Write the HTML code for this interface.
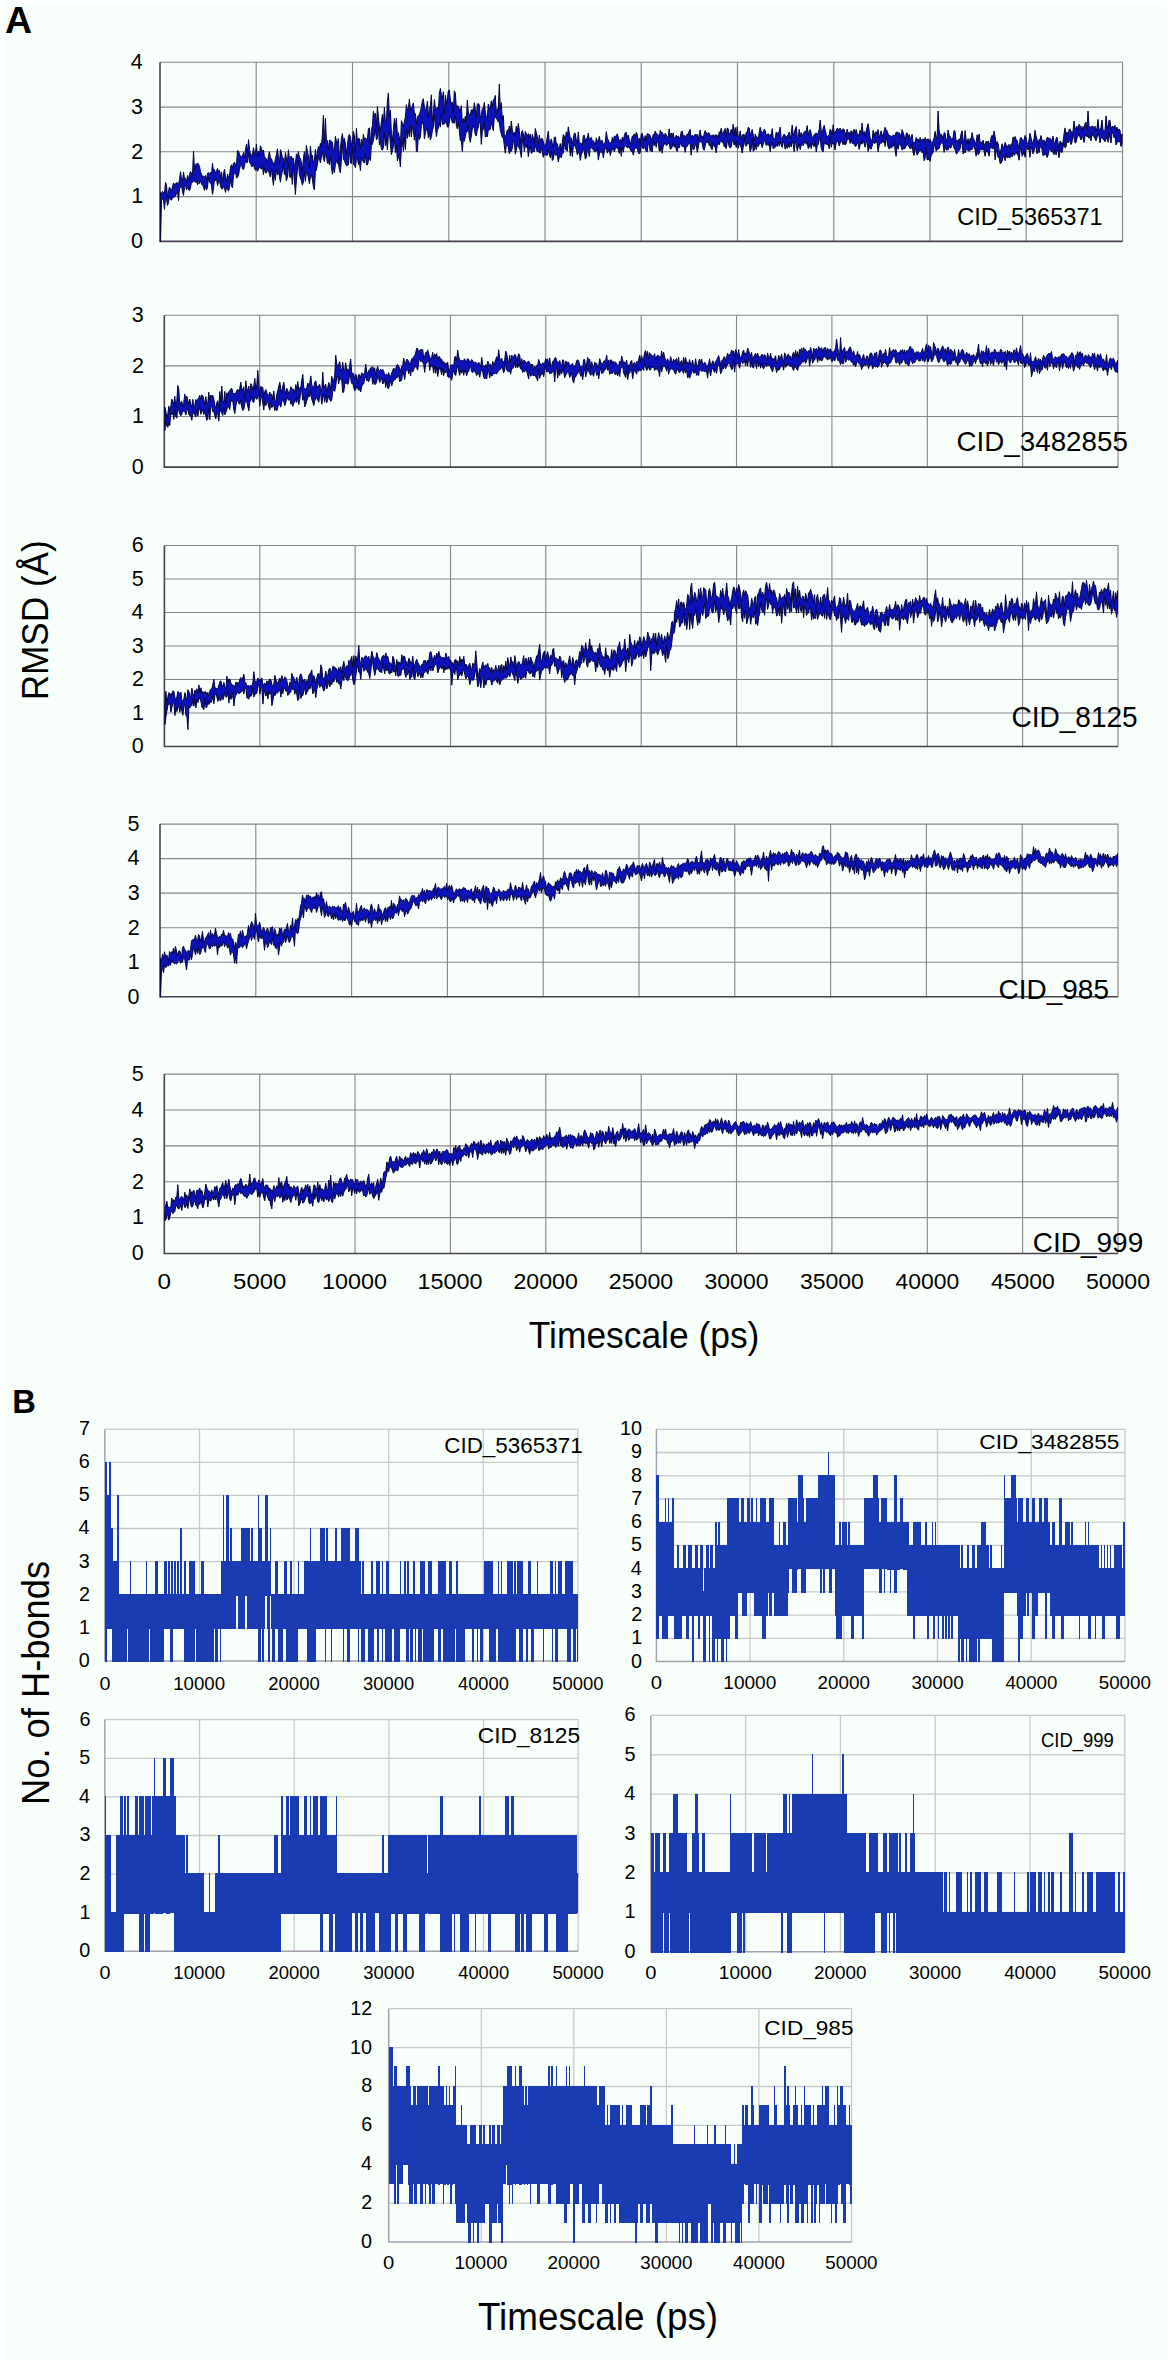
<!DOCTYPE html><html><head><meta charset="utf-8"><style>html,body{margin:0;padding:0;background:#fff;}svg{display:block;}</style></head><body><svg width="1170" height="2362" viewBox="0 0 1170 2362" font-family='"Liberation Sans", sans-serif'>
<rect width="1170" height="2362" fill="#fff"/>
<rect x="2.5" y="2.3" width="1164.7" height="2357.4" fill="#f8fefa"/>
<text transform="translate(5 32.8) scale(1.0261 1)" font-size="36.51" font-weight="bold">A</text>
<text transform="translate(12.2 1412.6) scale(0.9758 1)" font-size="33.60" font-weight="bold">B</text>
<path d="M256.2 62.3V241.4M352.5 62.3V241.4M448.8 62.3V241.4M545 62.3V241.4M641.2 62.3V241.4M737.5 62.3V241.4M833.8 62.3V241.4M930 62.3V241.4M1026.2 62.3V241.4M160 196.6H1122.5M160 151.8H1122.5M160 107.1H1122.5M160 62.3H1122.5V241.4" stroke="#8a828e" stroke-width="1.1" fill="none"/>
<path d="M160 62.3V241.4H1122.5" stroke="#4a4050" stroke-width="1.6" fill="none"/>
<polygon points="160.5,191.9 161.5,194.6 162.5,191.2 163.5,192.9 164.5,193 165.5,182.4 166.5,184.9 167.5,197.5 168.5,190.9 169.5,187 170.5,189.3 171.5,190.5 172.5,187.1 173.5,182.9 174.5,184.9 175.5,183.6 176.5,182.7 177.5,182.8 178.5,184.6 179.5,179.5 180.5,171.6 181.5,179.1 182.5,181 183.5,171.9 184.5,178.6 185.5,178.2 186.5,182.9 187.5,175.3 188.5,179.8 189.5,174.7 190.5,171.4 191.5,173 192.5,174.6 193.5,151.2 194.5,169.9 195.5,164.4 196.5,164 197.5,163 198.5,164.1 199.5,166.5 200.5,171.7 201.5,174.1 202.5,176.9 203.5,175.8 204.5,177.4 205.5,175.5 206.5,179.7 207.5,173.2 208.5,172.6 209.5,174.6 210.5,172.1 211.5,174.6 212.5,163.2 213.5,171.2 214.5,169.5 215.5,173.5 216.5,171.2 217.5,168.4 218.5,172.1 219.5,170.4 220.5,177.4 221.5,171.9 222.5,181.7 223.5,174 224.5,169.2 225.5,176.8 226.5,181.6 227.5,174.2 228.5,177.1 229.5,175.6 230.5,167 231.5,164.8 232.5,167.7 233.5,163.2 234.5,162.3 235.5,164.4 236.5,165 237.5,150.4 238.5,151.1 239.5,154.3 240.5,156.3 241.5,156.4 242.5,156 243.5,152.4 244.5,158.1 245.5,149.7 246.5,144.3 247.5,152.6 248.5,139.6 249.5,149.4 250.5,154.7 251.5,154.8 252.5,154.4 253.5,147.7 254.5,154.1 255.5,153.5 256.4,144 257.4,156.3 258.4,151.1 259.4,155.3 260.4,145.7 261.4,148.2 262.4,151.7 263.4,150 264.4,156.5 265.4,158.1 266.4,158.8 267.4,162.3 268.4,156.7 269.4,151.7 270.4,157.6 271.4,158.6 272.4,161.6 273.4,162.8 274.4,165.6 275.4,158.4 276.4,154.8 277.4,148.8 278.4,157.3 279.4,164.2 280.4,149.6 281.4,152.8 282.4,157.2 283.4,158 284.4,164.3 285.4,152.6 286.4,158.1 287.4,162.2 288.4,149.7 289.4,158.4 290.4,157.1 291.4,156.1 292.4,159.5 293.4,158 294.4,165.8 295.4,163.4 296.4,153.9 297.4,157.8 298.4,151.5 299.4,158 300.4,158.1 301.4,162.9 302.4,171.1 303.4,158.5 304.4,151.7 305.4,162.1 306.4,145.3 307.4,151.7 308.4,156.2 309.4,167.8 310.4,146.1 311.4,156.1 312.4,155.1 313.4,163.1 314.4,160.5 315.4,149.3 316.4,159.2 317.4,152 318.4,146.6 319.4,149 320.4,143.2 321.4,147 322.4,133.8 323.4,115.4 324.4,144 325.4,118.3 326.4,139.9 327.4,140.5 328.4,149.9 329.4,140 330.4,140.4 331.4,141.3 332.4,142.2 333.4,151.3 334.4,150 335.4,136.4 336.4,141.1 337.4,143 338.4,138.5 339.4,161 340.4,147.8 341.4,138.9 342.4,133.5 343.4,142.2 344.4,138.3 345.4,143.9 346.4,154.1 347.4,145.8 348.4,136.3 349.4,134.5 350.4,136.4 351.4,145.1 352.4,141.2 353.4,131.3 354.4,135.8 355.4,153 356.4,128.4 357.4,141.6 358.4,138.1 359.4,138.8 360.4,148.4 361.4,139.3 362.4,145.5 363.4,134.3 364.4,139.6 365.4,137.8 366.4,139.1 367.4,139.2 368.4,128.9 369.4,127.8 370.4,144.8 371.4,130.3 372.4,125.7 373.4,111.2 374.4,116.7 375.4,113.1 376.4,126.5 377.4,106.5 378.4,116.4 379.4,126.7 380.4,131 381.4,121.3 382.4,114.3 383.4,123.1 384.4,107.5 385.4,122.2 386.4,122.4 387.4,101.3 388.4,93 389.4,117.5 390.4,110.1 391.4,133.4 392.4,141.1 393.4,129.5 394.4,118.5 395.4,127 396.4,117.9 397.4,135.5 398.4,132.6 399.4,138 400.4,146.7 401.4,120.6 402.4,123.2 403.4,126.7 404.4,121.4 405.4,117.1 406.4,104.7 407.4,110.2 408.4,107.8 409.4,99 410.4,110.1 411.4,108 412.4,105.7 413.4,102.9 414.4,114.1 415.4,113.6 416.4,124.2 417.4,117.3 418.4,115.3 419.4,115.2 420.4,110.8 421.4,107.4 422.4,100.8 423.4,98.7 424.4,107.4 425.4,109.8 426.4,109.3 427.4,101 428.4,117.1 429.4,109.4 430.4,105.7 431.4,94.8 432.4,121.8 433.4,113.3 434.4,99.6 435.4,108.7 436.4,109.1 437.4,107.3 438.4,109.6 439.4,93 440.4,88.5 441.4,95.6 442.4,97.8 443.4,91.7 444.4,114.5 445.4,95.2 446.4,104.5 447.4,97.8 448.4,90.8 449.3,90 450.3,99 451.3,103.9 452.3,102.2 453.3,113 454.3,90.8 455.3,93 456.3,107.1 457.3,105.7 458.3,106.2 459.3,109.1 460.3,111.9 461.3,105.6 462.3,122.5 463.3,118.6 464.3,122.4 465.3,116.2 466.3,121.6 467.3,100 468.3,112.2 469.3,114.8 470.3,115.1 471.3,110 472.3,109.4 473.3,113.1 474.3,102.7 475.3,108.8 476.3,117.1 477.3,104.1 478.3,103.4 479.3,104.9 480.3,118 481.3,115.8 482.3,108.5 483.3,109.5 484.3,102.4 485.3,112.1 486.3,117.3 487.3,117 488.3,104 489.3,107.7 490.3,108.7 491.3,100.9 492.3,106.5 493.3,100 494.3,98.9 495.3,95.4 496.3,114 497.3,108.6 498.3,110 499.3,84.1 500.3,108.8 501.3,102.7 502.3,119.3 503.3,115.5 504.3,134.7 505.3,136.8 506.3,134.3 507.3,129.8 508.3,132 509.3,126.1 510.3,132.4 511.3,121 512.3,129.7 513.3,135 514.3,132.3 515.3,135.2 516.3,126.1 517.3,131.9 518.3,123.4 519.3,130.6 520.3,143.4 521.3,133 522.3,130.5 523.3,133.7 524.3,140.5 525.3,131.3 526.3,133.7 527.3,136.7 528.3,133.5 529.3,137.2 530.3,134 531.3,142.5 532.3,134.4 533.3,137.9 534.3,143.4 535.3,128.5 536.3,132.6 537.3,136.7 538.3,144.7 539.3,135.2 540.3,141.2 541.3,138.7 542.3,138.4 543.3,141.3 544.3,145.9 545.3,145.2 546.3,142.9 547.3,137.2 548.3,131.1 549.3,142.8 550.3,142.4 551.3,138.9 552.3,143.8 553.3,148.1 554.3,137.4 555.3,136.9 556.3,143.7 557.3,143.7 558.3,148.5 559.3,147.7 560.3,143.6 561.3,151.4 562.3,142.3 563.3,134.5 564.3,136.1 565.3,139.5 566.3,131.8 567.3,137.3 568.3,126.9 569.3,133.1 570.3,138.4 571.3,138 572.3,143.9 573.3,138.7 574.3,133 575.3,133.5 576.3,140.3 577.3,143.4 578.3,131.9 579.3,143.1 580.3,143.2 581.3,143.3 582.3,145.5 583.3,135.7 584.3,135.2 585.3,142 586.3,138.3 587.3,137.8 588.3,133.1 589.3,139.9 590.3,138.2 591.3,137.4 592.3,141.2 593.3,140.7 594.3,142.5 595.3,144.9 596.3,137.8 597.3,141.2 598.3,141.1 599.3,136.4 600.3,141.6 601.3,140.5 602.3,140.6 603.3,144.8 604.3,143.5 605.3,141.9 606.3,131.5 607.3,138.2 608.3,140 609.3,142.7 610.3,142.7 611.3,143.3 612.3,137.4 613.3,142 614.3,136.1 615.3,136.5 616.3,135.5 617.3,133.8 618.3,137.4 619.3,141.7 620.3,139.5 621.3,143.3 622.3,137.2 623.3,140.9 624.3,135.5 625.3,132.7 626.3,132.4 627.3,137.1 628.3,135.2 629.3,140 630.3,144.6 631.3,140.5 632.3,136.1 633.3,136.2 634.3,133.8 635.3,137.2 636.3,132.3 637.3,134.5 638.3,141.7 639.3,138.1 640.3,143.9 641.2,134.1 642.2,133.2 643.2,137.4 644.2,141.1 645.2,135.6 646.2,140.7 647.2,133.6 648.2,134.1 649.2,134.2 650.2,135.7 651.2,139.1 652.2,138.8 653.2,134.5 654.2,134.9 655.2,131.1 656.2,133.5 657.2,134.1 658.2,134.8 659.2,138.8 660.2,130.3 661.2,132.3 662.2,132.3 663.2,134.3 664.2,137.3 665.2,133.2 666.2,135 667.2,136.9 668.2,137.1 669.2,128.8 670.2,137.6 671.2,132.9 672.2,137.3 673.2,132.8 674.2,138 675.2,138.7 676.2,135.2 677.2,136.8 678.2,135.9 679.2,137.5 680.2,138.3 681.2,131.8 682.2,131 683.2,136.3 684.2,135.3 685.2,138 686.2,135.7 687.2,134 688.2,134.6 689.2,131 690.2,129.4 691.2,139.1 692.2,135.2 693.2,136.3 694.2,135.8 695.2,134.1 696.2,135.2 697.2,134.2 698.2,140.1 699.2,134.6 700.2,129.9 701.2,136.5 702.2,136.1 703.2,138.8 704.2,133.6 705.2,130.6 706.2,132.8 707.2,134.9 708.2,132.5 709.2,133.1 710.2,136.1 711.2,135.3 712.2,136.3 713.2,134.7 714.2,137.1 715.2,134.8 716.2,135.1 717.2,135.3 718.2,137.8 719.2,131.7 720.2,132.8 721.2,128.3 722.2,133.6 723.2,133.2 724.2,130.6 725.2,128.5 726.2,137.1 727.2,128 728.2,128.8 729.2,134.8 730.2,133 731.2,129.5 732.2,133.5 733.2,124.2 734.2,135.1 735.2,127.5 736.2,136.5 737.2,126.8 738.2,136.5 739.2,137 740.2,130.8 741.2,139.8 742.2,135 743.2,134.5 744.2,134.5 745.2,138.9 746.2,132.2 747.2,132.6 748.2,127.3 749.2,128 750.2,134.7 751.2,133 752.2,129.4 753.2,135 754.2,141.3 755.2,134 756.2,136.5 757.2,137 758.2,138.8 759.2,132.5 760.2,127.3 761.2,131.8 762.2,132 763.2,132.9 764.2,129.3 765.2,130.7 766.2,135 767.2,134.8 768.2,133.6 769.2,137 770.2,134.3 771.2,136.2 772.2,128.6 773.2,137.6 774.2,139 775.2,138.2 776.2,132.2 777.2,133.8 778.2,132.3 779.2,132.2 780.2,127.1 781.2,139.4 782.2,139 783.2,135.6 784.2,134 785.2,135.4 786.2,138.2 787.2,135.7 788.2,134.9 789.2,132.1 790.2,138.7 791.2,134.3 792.2,124.9 793.2,135.5 794.2,132.4 795.2,129.3 796.2,126.5 797.2,136.4 798.2,137.6 799.2,129.3 800.2,136.6 801.2,132.5 802.2,135.1 803.2,134.7 804.2,132 805.2,131 806.2,131.7 807.2,125.6 808.2,135.1 809.2,131.2 810.2,129.6 811.2,133.3 812.2,137.7 813.2,137.2 814.2,134.8 815.2,133.5 816.2,133.1 817.2,134.5 818.2,132.8 819.2,129.6 820.2,120 821.2,130.5 822.2,132.5 823.2,128.1 824.2,125.3 825.2,130.2 826.2,134.4 827.2,136.8 828.2,135.7 829.2,134.8 830.2,129.1 831.2,130.7 832.2,134.9 833.2,124.6 834.1,134.1 835.1,131.7 836.1,131.1 837.1,128.3 838.1,128.7 839.1,129.7 840.1,128 841.1,130 842.1,132.2 843.1,128.6 844.1,129.6 845.1,132.3 846.1,137.4 847.1,129 848.1,133.3 849.1,132.1 850.1,135.9 851.1,130.7 852.1,135 853.1,131 854.1,129.3 855.1,134.5 856.1,129.5 857.1,133.5 858.1,136.4 859.1,134 860.1,130.1 861.1,132.8 862.1,123.1 863.1,134.1 864.1,131.5 865.1,136.4 866.1,130.9 867.1,127.3 868.1,123.7 869.1,130.3 870.1,138 871.1,139.7 872.1,141.1 873.1,130.3 874.1,136.2 875.1,132.5 876.1,131.7 877.1,133.5 878.1,129.5 879.1,138.5 880.1,134.2 881.1,130.8 882.1,134.7 883.1,137.2 884.1,130.9 885.1,127.3 886.1,130.1 887.1,130.7 888.1,133.9 889.1,135.7 890.1,135.3 891.1,136.9 892.1,136.6 893.1,135 894.1,135.5 895.1,135.3 896.1,132.2 897.1,132 898.1,133.4 899.1,132.6 900.1,134.1 901.1,138.6 902.1,129.6 903.1,132.4 904.1,135.8 905.1,142.7 906.1,133.5 907.1,132.7 908.1,137.1 909.1,134.5 910.1,138.3 911.1,137.2 912.1,134.3 913.1,142.5 914.1,143.1 915.1,142 916.1,137.5 917.1,139.7 918.1,138.8 919.1,142.9 920.1,137.4 921.1,140.4 922.1,139.3 923.1,139 924.1,141.7 925.1,137.5 926.1,139.6 927.1,140.1 928.1,138.7 929.1,142.8 930.1,139.4 931.1,142.2 932.1,142.8 933.1,141 934.1,138.1 935.1,131.4 936.1,136.2 937.1,138.5 938.1,111 939.1,130 940.1,136.6 941.1,133.8 942.1,135.6 943.1,140 944.1,132.6 945.1,133.2 946.1,141.2 947.1,138.9 948.1,129.9 949.1,135.6 950.1,136.1 951.1,138.9 952.1,139 953.1,137.4 954.1,130.3 955.1,131.7 956.1,141.4 957.1,140.1 958.1,142.5 959.1,138.7 960.1,140.4 961.1,133.6 962.1,130.8 963.1,140.4 964.1,141 965.1,130.6 966.1,139.3 967.1,143.3 968.1,138.7 969.1,144.6 970.1,138.1 971.1,139.8 972.1,132.6 973.1,137.7 974.1,139.9 975.1,142.2 976.1,143.5 977.1,134.8 978.1,140.1 979.1,134 980.1,142.3 981.1,141.9 982.1,143.4 983.1,140.1 984.1,144.6 985.1,144.9 986.1,141.1 987.1,143.8 988.1,141 989.1,144.6 990.1,142.9 991.1,137.6 992.1,135.2 993.1,137.7 994.1,131 995.1,136.5 996.1,144.8 997.1,141.5 998.1,143.5 999.1,150.1 1000.1,154.6 1001.1,149.1 1002.1,143.7 1003.1,147.2 1004.1,147.2 1005.1,142.4 1006.1,144.8 1007.1,147.2 1008.1,145.4 1009.1,144.3 1010.1,148.7 1011.1,144 1012.1,144.1 1013.1,136.9 1014.1,139 1015.1,136.5 1016.1,139.3 1017.1,140.4 1018.1,144.7 1019.1,147.7 1020.1,138.5 1021.1,137.3 1022.1,139.2 1023.1,140.4 1024.1,139.7 1025.1,135.4 1026.1,137.5 1027,143.3 1028,143.9 1029,139.9 1030,133.3 1031,137.8 1032,141.6 1033,143.2 1034,138.7 1035,130.3 1036,136 1037,139 1038,145.3 1039,139.7 1040,139.8 1041,135.5 1042,140.3 1043,141.4 1044,139.8 1045,145.1 1046,140.8 1047,137.6 1048,137.7 1049,138.4 1050,138.5 1051,139.3 1052,142.2 1053,136.2 1054,142.3 1055,144.1 1056,138.7 1057,137 1058,143 1059,148.2 1060,141.2 1061,142 1062,145.3 1063,142 1064,134.1 1065,127.9 1066,134.8 1067,132 1068,134.3 1069,129.9 1070,128.9 1071,131.6 1072,132.5 1073,131.2 1074,121 1075,128.7 1076,127.9 1077,126 1078,130.7 1079,124.3 1080,126.3 1081,126.2 1082,131.3 1083,126.4 1084,128.8 1085,123.7 1086,122.1 1087,129.8 1088,111 1089,125.8 1090,128.3 1091,126.4 1092,126.3 1093,126.3 1094,127.7 1095,126.1 1096,132 1097,127.7 1098,119.4 1099,130.2 1100,129.3 1101,127.3 1102,120 1103,130.1 1104,131.2 1105,130.4 1106,115.9 1107,125.3 1108,128.2 1109,120.2 1110,120.4 1111,130 1112,126.4 1113,126.8 1114,127.3 1115,125.4 1116,130.5 1117,127.1 1118,131.5 1119,128.9 1120,130.2 1121,139.8 1122,134 1122,144 1121,146.5 1120,141.6 1119,141.5 1118,141.5 1117,142.9 1116,145 1115,135.4 1114,137.7 1113,133 1112,132.7 1111,143 1110,138.3 1109,132.4 1108,142.2 1107,136.8 1106,139 1105,141.8 1104,139.9 1103,139.1 1102,137.5 1101,137.5 1100,142.8 1099,136 1098,133 1097,137.6 1096,140.8 1095,138.7 1094,135.5 1093,136.4 1092,132.5 1091,140.9 1090,135.7 1089,138.3 1088,135.4 1087,137 1086,133.1 1085,136.6 1084,142.5 1083,136.8 1082,137.3 1081,140 1080,137.5 1079,133.2 1078,136.3 1077,137.9 1076,142.7 1075,142.8 1074,137.8 1073,133.9 1072,142.3 1071,144.6 1070,141.6 1069,140.6 1068,143 1067,138.9 1066,147 1065,147.8 1064,142.8 1063,147.4 1062,152.6 1061,151.7 1060,150.7 1059,157.8 1058,149 1057,151.1 1056,154.9 1055,148.5 1054,154.7 1053,152.2 1052,151.8 1051,151.2 1050,148.7 1049,149.6 1048,155.6 1047,157.5 1046,153.9 1045,154.7 1044,154.6 1043,155.8 1042,149.1 1041,146.3 1040,147.7 1039,152.7 1038,151.4 1037,153.8 1036,146.6 1035,147 1034,151 1033,153.9 1032,149 1031,147.4 1030,157.3 1029,146.9 1028,150.1 1027,147.1 1026.1,148 1025.1,157.3 1024.1,150.5 1023.1,154.5 1022.1,156.3 1021.1,148.1 1020.1,150.1 1019.1,160.2 1018.1,155.4 1017.1,154.5 1016.1,151.3 1015.1,154.1 1014.1,155.5 1013.1,152.2 1012.1,156.8 1011.1,155.8 1010.1,157.7 1009.1,157.2 1008.1,157.2 1007.1,157.8 1006.1,154.4 1005.1,160.8 1004.1,156 1003.1,157.3 1002.1,161.2 1001.1,163.1 1000.1,163.6 999.1,156.8 998.1,157.7 997.1,150.9 996.1,151.8 995.1,159.9 994.1,142.5 993.1,149.1 992.1,148.3 991.1,147.7 990.1,147.3 989.1,156.2 988.1,151.9 987.1,151.9 986.1,150.7 985.1,156.3 984.1,151.2 983.1,147.4 982.1,150 981.1,149.5 980.1,149.5 979.1,153.6 978.1,154.7 977.1,150.3 976.1,156.2 975.1,149.9 974.1,146.9 973.1,146.6 972.1,149.4 971.1,149.2 970.1,150.6 969.1,151.1 968.1,150.8 967.1,149.6 966.1,149.6 965.1,153 964.1,151.7 963.1,153.9 962.1,144.5 961.1,142 960.1,148.9 959.1,150.6 958.1,151 957.1,153.7 956.1,153.7 955.1,149.7 954.1,148 953.1,145.1 952.1,143.2 951.1,147.8 950.1,148.2 949.1,145.2 948.1,149.9 947.1,150 946.1,149.9 945.1,145.9 944.1,152.4 943.1,144.4 942.1,142.4 941.1,142.9 940.1,144.9 939.1,148.8 938.1,148.8 937.1,149.9 936.1,151.3 935.1,143.4 934.1,146.4 933.1,152.3 932.1,153.9 931.1,155.7 930.1,161.3 929.1,159.6 928.1,159.4 927.1,160 926.1,147 925.1,158.4 924.1,160.7 923.1,151.3 922.1,152.8 921.1,150.4 920.1,150.7 919.1,151.1 918.1,153.5 917.1,155.1 916.1,151.1 915.1,147.1 914.1,155.5 913.1,152.8 912.1,143.7 911.1,148.6 910.1,148.8 909.1,146.9 908.1,145.7 907.1,143.8 906.1,145.9 905.1,148.4 904.1,148.8 903.1,148.6 902.1,150.1 901.1,146.3 900.1,144.4 899.1,143.9 898.1,149.2 897.1,145.2 896.1,156.3 895.1,150 894.1,141.4 893.1,146.3 892.1,147.4 891.1,146.9 890.1,148.4 889.1,148.9 888.1,146.9 887.1,142 886.1,135.8 885.1,146.5 884.1,140.4 883.1,142.7 882.1,140 881.1,143.7 880.1,142.3 879.1,145.8 878.1,151.8 877.1,143.1 876.1,140.8 875.1,143.3 874.1,143.3 873.1,142.2 872.1,146 871.1,149 870.1,149 869.1,144.8 868.1,151.4 867.1,141.4 866.1,142.7 865.1,147.2 864.1,143.1 863.1,140.9 862.1,144.2 861.1,141.2 860.1,145.2 859.1,149.4 858.1,143.2 857.1,143 856.1,146 855.1,146.3 854.1,144.1 853.1,143.3 852.1,143.3 851.1,138.2 850.1,143.5 849.1,139.1 848.1,138.9 847.1,139.9 846.1,143.9 845.1,145.1 844.1,141.7 843.1,144.8 842.1,141.4 841.1,140.8 840.1,143.3 839.1,146.1 838.1,140.6 837.1,142 836.1,143.1 835.1,149.8 834.1,143.9 833.2,144 832.2,143.1 831.2,147.3 830.2,137 829.2,148.7 828.2,144 827.2,144.8 826.2,143.9 825.2,144.1 824.2,142.5 823.2,151.9 822.2,150.6 821.2,148.2 820.2,137.3 819.2,139.9 818.2,144.5 817.2,145.8 816.2,152.1 815.2,140.6 814.2,146.7 813.2,145.4 812.2,143 811.2,148.6 810.2,142.9 809.2,147.2 808.2,148.7 807.2,141.6 806.2,144.3 805.2,140.6 804.2,143.1 803.2,145.8 802.2,144.8 801.2,144.8 800.2,149.7 799.2,143.7 798.2,147 797.2,150.8 796.2,143.6 795.2,141.7 794.2,151.7 793.2,144.4 792.2,140.4 791.2,147 790.2,142.7 789.2,147.6 788.2,144.8 787.2,148.4 786.2,144.9 785.2,149.2 784.2,143.7 783.2,141.5 782.2,147.4 781.2,144.8 780.2,141.9 779.2,146.2 778.2,141.3 777.2,146.5 776.2,145.4 775.2,147.1 774.2,148.3 773.2,148.6 772.2,142.1 771.2,145 770.2,151.7 769.2,143.5 768.2,145.6 767.2,143.2 766.2,145.4 765.2,142.1 764.2,140.1 763.2,144.2 762.2,147.7 761.2,144 760.2,142.9 759.2,144.5 758.2,146.5 757.2,145.3 756.2,149.7 755.2,143.6 754.2,150.3 753.2,151.3 752.2,138.6 751.2,148.7 750.2,151.8 749.2,144.7 748.2,142.2 747.2,144.1 746.2,146.3 745.2,145.4 744.2,138.7 743.2,147.5 742.2,153 741.2,147.7 740.2,144.5 739.2,144.2 738.2,148.4 737.2,140.8 736.2,147.6 735.2,141.5 734.2,145.1 733.2,140.9 732.2,140.7 731.2,147.3 730.2,147.8 729.2,147 728.2,141 727.2,142.5 726.2,148.6 725.2,146.1 724.2,146.7 723.2,141.7 722.2,142.6 721.2,140.6 720.2,141.7 719.2,144.9 718.2,142.8 717.2,145.4 716.2,152.9 715.2,146.9 714.2,146.5 713.2,143 712.2,149.7 711.2,148.8 710.2,143.6 709.2,145.7 708.2,140.4 707.2,143 706.2,141.3 705.2,145.8 704.2,150.3 703.2,149.1 702.2,143.5 701.2,142.5 700.2,141.2 699.2,141.4 698.2,148.1 697.2,152.3 696.2,144.1 695.2,144.9 694.2,149.2 693.2,149.8 692.2,144.3 691.2,155.2 690.2,144.4 689.2,143.5 688.2,144.2 687.2,146.6 686.2,146 685.2,152.4 684.2,146 683.2,146.7 682.2,146.7 681.2,144.3 680.2,143.6 679.2,148 678.2,146.3 677.2,151.6 676.2,149.7 675.2,144.3 674.2,147.3 673.2,142.9 672.2,146.7 671.2,148.8 670.2,149.3 669.2,142.2 668.2,143.8 667.2,145.1 666.2,145.6 665.2,142.4 664.2,144.4 663.2,146.1 662.2,153.2 661.2,146.5 660.2,151.3 659.2,150.6 658.2,142 657.2,141.5 656.2,147.3 655.2,141.6 654.2,145.7 653.2,141.2 652.2,152 651.2,150.3 650.2,151 649.2,143.9 648.2,143.8 647.2,151.7 646.2,151.5 645.2,148.3 644.2,147.5 643.2,148.9 642.2,146.8 641.2,144.1 640.3,152.5 639.3,154 638.3,152.7 637.3,148.7 636.3,148 635.3,147.8 634.3,150 633.3,155.2 632.3,151 631.3,151.5 630.3,149.9 629.3,146.7 628.3,147.6 627.3,148 626.3,146.2 625.3,146 624.3,146.2 623.3,152.2 622.3,147.4 621.3,156.3 620.3,147.2 619.3,153.6 618.3,149 617.3,148.5 616.3,147 615.3,148.7 614.3,151.8 613.3,148.4 612.3,150.1 611.3,151.1 610.3,155.5 609.3,149.9 608.3,150.9 607.3,153.2 606.3,147.5 605.3,148 604.3,151.4 603.3,158 602.3,150.6 601.3,152.6 600.3,151.6 599.3,154.4 598.3,160.1 597.3,147.6 596.3,150.9 595.3,152.2 594.3,151 593.3,149.7 592.3,149 591.3,147.1 590.3,147.5 589.3,156.6 588.3,150.6 587.3,149.6 586.3,157.7 585.3,159.1 584.3,151.4 583.3,148.6 582.3,152.8 581.3,154.5 580.3,160.4 579.3,152.7 578.3,152.4 577.3,154.7 576.3,149.4 575.3,146.9 574.3,144.2 573.3,147.3 572.3,156.6 571.3,146.9 570.3,155.8 569.3,144.6 568.3,139.7 567.3,151.2 566.3,149.7 565.3,149.7 564.3,141.7 563.3,153.2 562.3,153.1 561.3,157.9 560.3,156 559.3,157 558.3,161.9 557.3,155.3 556.3,154.8 555.3,155.4 554.3,151.2 553.3,159.3 552.3,160.5 551.3,150.8 550.3,157.7 549.3,154.6 548.3,149.5 547.3,155.3 546.3,155.6 545.3,153.8 544.3,154.8 543.3,157.3 542.3,152.2 541.3,147.1 540.3,153.2 539.3,152.8 538.3,150.9 537.3,151.7 536.3,148.6 535.3,145.1 534.3,151.8 533.3,150.8 532.3,152.6 531.3,153.5 530.3,145.9 529.3,149.7 528.3,156.6 527.3,144.4 526.3,147.5 525.3,144.9 524.3,151.4 523.3,139.6 522.3,142.1 521.3,157.4 520.3,150.8 519.3,148.4 518.3,146.2 517.3,145 516.3,150 515.3,154.2 514.3,141.8 513.3,141.3 512.3,148.3 511.3,151.3 510.3,151.4 509.3,153.7 508.3,146.9 507.3,145.3 506.3,145.8 505.3,153.2 504.3,145.8 503.3,137.1 502.3,137.6 501.3,133.5 500.3,130.7 499.3,121.6 498.3,122.1 497.3,120 496.3,118.3 495.3,117.4 494.3,117.2 493.3,130.7 492.3,126.1 491.3,122.7 490.3,129.3 489.3,130 488.3,129.7 487.3,137 486.3,135.7 485.3,137.2 484.3,122.3 483.3,129 482.3,131.7 481.3,144.4 480.3,124.1 479.3,121 478.3,127.2 477.3,130.2 476.3,136.1 475.3,134.7 474.3,128.7 473.3,125.8 472.3,128.9 471.3,136.1 470.3,142.3 469.3,137.9 468.3,124.8 467.3,131.7 466.3,131.3 465.3,136.7 464.3,141.3 463.3,138.6 462.3,151.5 461.3,139.9 460.3,140.4 459.3,130.4 458.3,122 457.3,128.8 456.3,125.2 455.3,115 454.3,123.1 453.3,122.7 452.3,123 451.3,117.9 450.3,116.7 449.3,122.2 448.4,127.2 447.4,127.1 446.4,122 445.4,122 444.4,124 443.4,124.2 442.4,124.5 441.4,113.7 440.4,127.1 439.4,123.1 438.4,128.4 437.4,129.8 436.4,136.6 435.4,126.5 434.4,115.5 433.4,126.7 432.4,130.5 431.4,136.6 430.4,140.1 429.4,132.5 428.4,137.8 427.4,128.7 426.4,129.2 425.4,132.8 424.4,139.1 423.4,122.5 422.4,122.9 421.4,125.5 420.4,136.9 419.4,139.5 418.4,134.1 417.4,151.3 416.4,151.8 415.4,129.4 414.4,140.2 413.4,130.7 412.4,126.7 411.4,137 410.4,125.3 409.4,136.6 408.4,130.3 407.4,138.3 406.4,129.4 405.4,149.7 404.4,137 403.4,151.4 402.4,141.8 401.4,147.2 400.4,166.7 399.4,157.2 398.4,156.9 397.4,160.9 396.4,145.2 395.4,152.7 394.4,139.6 393.4,145.9 392.4,150.8 391.4,154.6 390.4,144.5 389.4,131.7 388.4,134.6 387.4,149.9 386.4,139.6 385.4,145.9 384.4,132.4 383.4,147.8 382.4,150.1 381.4,149.3 380.4,141.1 379.4,145 378.4,126.5 377.4,138.2 376.4,140 375.4,128.7 374.4,135.2 373.4,140 372.4,144.4 371.4,144 370.4,160.6 369.4,157.5 368.4,161.4 367.4,164.9 366.4,164.7 365.4,153.7 364.4,163 363.4,162 362.4,159.8 361.4,157.4 360.4,170.7 359.4,161.8 358.4,164.7 357.4,157.5 356.4,159.2 355.4,167.7 354.4,164.2 353.4,164.6 352.4,146.9 351.4,163.5 350.4,163 349.4,147.5 348.4,164.9 347.4,165.4 346.4,165.6 345.4,163.7 344.4,160.5 343.4,159.6 342.4,143 341.4,160.1 340.4,172.8 339.4,170.4 338.4,162.5 337.4,163.6 336.4,160 335.4,164.6 334.4,172.9 333.4,167.5 332.4,174.3 331.4,166.8 330.4,156.2 329.4,164.9 328.4,161.1 327.4,163.5 326.4,154.2 325.4,154.3 324.4,161.7 323.4,158.3 322.4,151.5 321.4,156.9 320.4,162.9 319.4,158.1 318.4,158.4 317.4,163.9 316.4,170.4 315.4,171.1 314.4,189.9 313.4,187 312.4,179.1 311.4,175 310.4,177 309.4,183.8 308.4,177.8 307.4,173.2 306.4,172.5 305.4,181.4 304.4,171.9 303.4,181.7 302.4,185.2 301.4,180.7 300.4,177.9 299.4,174.4 298.4,160.8 297.4,170.2 296.4,180.5 295.4,194.4 294.4,179.1 293.4,165.3 292.4,184.4 291.4,173.7 290.4,177.6 289.4,176.2 288.4,163.2 287.4,177.3 286.4,180.9 285.4,171.6 284.4,174.7 283.4,165.5 282.4,171.4 281.4,175.1 280.4,182.1 279.4,176.3 278.4,171.9 277.4,175 276.4,169.1 275.4,180.3 274.4,174.3 273.4,185.4 272.4,177 271.4,168.4 270.4,177 269.4,174.3 268.4,170.1 267.4,170.4 266.4,172.9 265.4,172.9 264.4,167.9 263.4,174.6 262.4,165.6 261.4,169.2 260.4,168.1 259.4,167.1 258.4,169.7 257.4,171.3 256.4,168.1 255.5,170.4 254.5,168.7 253.5,163.9 252.5,166.4 251.5,166.5 250.5,162.8 249.5,162.8 248.5,153.1 247.5,162.4 246.5,162.8 245.5,160.3 244.5,165.8 243.5,169.6 242.5,168.8 241.5,164.3 240.5,165.4 239.5,169.4 238.5,175.3 237.5,177.1 236.5,178.2 235.5,171.5 234.5,173.6 233.5,175.4 232.5,187.8 231.5,186 230.5,180 229.5,187 228.5,191.2 227.5,188.7 226.5,187.2 225.5,192.4 224.5,187.7 223.5,186.5 222.5,189.1 221.5,188.7 220.5,185.8 219.5,181 218.5,182.1 217.5,185.8 216.5,178.4 215.5,180.7 214.5,179.3 213.5,188.6 212.5,194.4 211.5,185 210.5,183.2 209.5,182.1 208.5,177 207.5,187.4 206.5,190.1 205.5,185.6 204.5,190.4 203.5,186.8 202.5,185 201.5,184 200.5,180.4 199.5,183.5 198.5,182.5 197.5,184.8 196.5,180.7 195.5,182.4 194.5,181.3 193.5,181.1 192.5,182.5 191.5,181.5 190.5,188.1 189.5,190.6 188.5,189.9 187.5,186.8 186.5,189.8 185.5,184.6 184.5,187.3 183.5,195.4 182.5,191.7 181.5,185.2 180.5,187.6 179.5,187.9 178.5,200.6 177.5,191.4 176.5,193 175.5,196.3 174.5,196.3 173.5,198 172.5,196.9 171.5,200.3 170.5,199.2 169.5,196 168.5,202.6 167.5,205.5 166.5,198.4 165.5,197.5 164.5,209.4 163.5,200.1 162.5,199.5 161.5,200 160.5,242" fill="#0a12b8" stroke="#030340" stroke-width="1.0" stroke-linejoin="round"/>
<text transform="translate(131 248.2) scale(1.0000 1)" font-size="21.51">0</text>
<text transform="translate(131.2 203.4) scale(1.0000 1)" font-size="21.51">1</text>
<text transform="translate(131.2 158.7) scale(1.0000 1)" font-size="21.51">2</text>
<text transform="translate(131.1 113.9) scale(1.0000 1)" font-size="21.51">3</text>
<text transform="translate(130.8 69.1) scale(1.0000 1)" font-size="21.51">4</text>
<text transform="translate(957.3 225.3) scale(0.9777 1)" font-size="24.09">CID_5365371</text>
<path d="M259.7 315.3V467.1M355 315.3V467.1M450.4 315.3V467.1M545.8 315.3V467.1M641.2 315.3V467.1M736.5 315.3V467.1M831.9 315.3V467.1M927.3 315.3V467.1M1022.6 315.3V467.1M164.3 416.5H1118M164.3 365.9H1118M164.3 315.3H1118V467.1" stroke="#8a828e" stroke-width="1.1" fill="none"/>
<path d="M164.3 315.3V467.1H1118" stroke="#4a4050" stroke-width="1.6" fill="none"/>
<polygon points="164.8,407.1 165.8,411.1 166.8,417.9 167.8,414.2 168.8,406 169.8,411.1 170.8,406.4 171.8,399.1 172.8,401.7 173.8,404.1 174.8,396.3 175.8,407 176.8,400.9 177.8,385.5 178.8,389 179.8,405.7 180.8,402.5 181.8,401.3 182.8,407.1 183.8,402.4 184.8,393.9 185.8,400.8 186.8,396.1 187.8,400.4 188.8,404.3 189.8,399 190.8,404.1 191.8,407.7 192.8,399.3 193.8,407.2 194.8,405.6 195.8,399.5 196.8,400.7 197.8,399.2 198.8,397.8 199.8,395.2 200.8,399.5 201.8,394.9 202.8,395.7 203.8,399.7 204.8,404.2 205.8,396.6 206.8,404.7 207.8,402.9 208.8,392.1 209.8,401.6 210.8,395 211.8,396.3 212.8,395.3 213.8,399.1 214.8,404.7 215.8,409 216.8,402.5 217.8,400.7 218.8,408 219.8,391.5 220.8,401.6 221.8,386.1 222.8,400.3 223.8,403 224.8,391.3 225.8,404 226.8,392.8 227.8,394.3 228.8,391.6 229.8,390.7 230.8,388.8 231.8,388.3 232.8,392.8 233.8,393.9 234.8,393.5 235.8,393.2 236.8,390.6 237.8,389.4 238.8,391.3 239.8,388.1 240.8,382.2 241.8,391.2 242.8,389.2 243.8,386.8 244.8,399.1 245.8,380.8 246.8,389.2 247.8,390.1 248.8,386.1 249.8,394.8 250.8,383.6 251.8,385.2 252.8,390.4 253.8,385.9 254.8,378.4 255.8,389.3 256.8,384.8 257.8,370.4 258.8,384.6 259.8,396 260.8,386.4 261.8,387.2 262.8,387.5 263.8,397 264.8,391.4 265.8,389.6 266.8,392.5 267.8,396.2 268.8,395.2 269.8,392.1 270.8,395.3 271.8,394 272.8,399.8 273.8,390.9 274.8,401.3 275.8,401.5 276.8,394.4 277.8,390.6 278.8,385.9 279.8,382.2 280.8,388.5 281.8,392.9 282.8,386.1 283.8,382.3 284.8,389.4 285.8,395.1 286.8,388.4 287.8,390.7 288.8,393.6 289.8,391.4 290.8,386.7 291.8,388 292.8,389.7 293.8,389.3 294.8,393 295.8,384.6 296.8,389.6 297.8,381.5 298.8,390.2 299.8,387.6 300.8,387.6 301.8,379.9 302.8,374.4 303.8,388.5 304.8,388.2 305.8,390.1 306.8,387.4 307.8,383 308.8,386.4 309.8,382.2 310.8,375.9 311.8,384.9 312.8,386.8 313.8,387.5 314.8,382 315.8,380.8 316.8,388 317.8,386.2 318.8,385.3 319.8,384.4 320.8,391.2 321.8,389.3 322.8,372.2 323.7,387.3 324.7,386.1 325.7,384.1 326.7,391.3 327.7,388.1 328.7,382.5 329.7,384.3 330.7,390.2 331.7,376.3 332.7,380.3 333.7,380.3 334.7,375.9 335.7,355.2 336.7,363.3 337.7,367.5 338.7,364.4 339.7,361.6 340.7,368.5 341.7,371.5 342.7,362.3 343.7,370.3 344.7,370.5 345.7,362.8 346.7,369.9 347.7,369.1 348.7,372 349.7,364.6 350.7,359.1 351.7,372.2 352.7,373.5 353.7,373.7 354.7,379.7 355.7,374.5 356.7,375.3 357.7,383.6 358.7,374.8 359.7,374.8 360.7,378 361.7,372.7 362.7,374.7 363.7,374.3 364.7,372.5 365.7,364 366.7,371.6 367.7,373.8 368.7,370.4 369.7,369.9 370.7,367.8 371.7,367.6 372.7,366.6 373.7,370.6 374.7,367.7 375.7,375.7 376.7,369.4 377.7,366.4 378.7,370.5 379.7,370.9 380.7,369.1 381.7,370.8 382.7,369.4 383.7,371.3 384.7,375.1 385.7,374.7 386.7,374.1 387.7,375.7 388.7,372.6 389.7,377.1 390.7,376 391.7,372.9 392.7,370.2 393.7,368 394.7,369.2 395.7,369.3 396.7,365.1 397.7,364.5 398.7,366.6 399.7,368.1 400.7,371.7 401.7,366.7 402.7,365.4 403.7,358.1 404.7,363.3 405.7,363 406.7,359 407.7,360.1 408.7,361.5 409.7,364.4 410.7,362.6 411.7,358.8 412.7,358.9 413.7,356.5 414.7,355.7 415.7,353.1 416.7,348.2 417.7,348.7 418.7,352.3 419.7,350.3 420.7,349.5 421.7,349.7 422.7,349.6 423.7,358.5 424.7,356.2 425.7,352.5 426.7,352.5 427.7,349.9 428.7,353.8 429.7,357.2 430.7,359.2 431.7,356.9 432.7,352.3 433.7,360.1 434.7,353.9 435.7,356.1 436.7,353.6 437.7,359.7 438.7,356.7 439.7,356.6 440.7,360.1 441.7,358.9 442.7,363.2 443.7,361.6 444.7,364.4 445.7,363 446.7,363.9 447.7,362.1 448.7,371.2 449.7,369.5 450.7,365.8 451.7,364.5 452.7,365 453.7,366.3 454.7,356.9 455.7,356.6 456.7,360.2 457.7,350.1 458.7,356.8 459.7,359.5 460.7,360.9 461.7,360.4 462.7,360.8 463.7,360.3 464.7,358.7 465.7,362.1 466.7,360.7 467.7,358.6 468.7,359.4 469.7,362.5 470.7,361.5 471.7,359.5 472.7,360.6 473.7,363.3 474.7,362.2 475.7,362.1 476.7,364 477.7,364 478.7,362.2 479.7,364.2 480.7,367.4 481.7,357.4 482.7,364.6 483.7,367.2 484.7,367 485.7,364.6 486.7,367.7 487.7,361 488.7,363.2 489.7,367 490.7,363.9 491.7,369.6 492.7,361.3 493.7,364.4 494.7,362.7 495.7,359.5 496.7,356.6 497.7,360.5 498.7,349.7 499.7,359 500.7,359.9 501.7,358.1 502.7,362.3 503.7,361.8 504.7,360.2 505.7,351.1 506.7,353.6 507.7,360.2 508.7,362.6 509.7,355.2 510.7,362.3 511.7,355.2 512.7,356.4 513.7,357 514.7,354.5 515.7,355.1 516.7,360.9 517.7,357.2 518.7,353.7 519.7,354.9 520.7,365 521.7,358.7 522.7,363.7 523.7,360.3 524.7,360.7 525.7,362.1 526.7,363.6 527.7,361.7 528.7,361.2 529.7,362.5 530.7,366.7 531.7,364 532.7,365.1 533.7,370 534.7,366.3 535.7,368.6 536.7,365.2 537.7,365.2 538.7,359.4 539.7,363.2 540.7,363.8 541.7,364.7 542.7,362.8 543.7,363.4 544.7,363.2 545.7,358.6 546.7,360.1 547.7,358.8 548.7,365.7 549.7,357.9 550.7,366.4 551.7,365.8 552.7,361.4 553.7,361 554.7,358.2 555.7,357.6 556.7,360.4 557.7,362.3 558.7,362.8 559.7,360.5 560.7,364.5 561.7,365.9 562.7,359.7 563.7,360.4 564.7,368.5 565.7,361.1 566.7,362 567.7,362.5 568.7,362.3 569.7,366.1 570.7,365.4 571.7,364 572.7,363.6 573.7,368.3 574.7,366 575.7,364.6 576.7,360.6 577.7,359.9 578.7,360.6 579.7,366.1 580.7,366.3 581.7,366.7 582.7,367.5 583.7,359.6 584.7,359.5 585.7,369 586.7,363.6 587.7,357.3 588.7,360.6 589.7,359.3 590.7,368.4 591.7,361.7 592.7,366.1 593.7,368.1 594.7,362 595.7,363.7 596.7,363.5 597.7,367.6 598.7,365.5 599.7,358.7 600.7,362 601.7,363.8 602.7,364.3 603.7,361.1 604.7,360.7 605.7,360.3 606.7,355.1 607.7,364.1 608.7,359.9 609.7,362.6 610.7,359.7 611.7,360.2 612.7,363.4 613.7,361.3 614.7,362.7 615.7,362.2 616.7,364.2 617.7,365.1 618.7,365.5 619.7,361 620.7,363.6 621.7,356 622.7,359.9 623.7,363.9 624.7,361.8 625.7,363.9 626.7,360 627.7,368.7 628.7,364.8 629.7,365.5 630.7,361.4 631.7,360.4 632.7,367.1 633.7,363.1 634.7,362.5 635.7,366.1 636.7,361.5 637.7,362.7 638.7,359.2 639.7,355.3 640.7,361.6 641.6,355.7 642.6,359.8 643.6,358.7 644.6,352.7 645.6,350.5 646.6,356.1 647.6,351.3 648.6,358.6 649.6,352.7 650.6,354.5 651.6,355.1 652.6,355.9 653.6,356.7 654.6,353.7 655.6,359.6 656.6,356.4 657.6,355.2 658.6,355.5 659.6,356.6 660.6,358.2 661.6,351 662.6,357.5 663.6,352.1 664.6,356.6 665.6,360.4 666.6,361.1 667.6,358.8 668.6,361.5 669.6,362.8 670.6,356.6 671.6,360.5 672.6,362.3 673.6,359.2 674.6,361.2 675.6,359.9 676.6,358.4 677.6,364.4 678.6,357.4 679.6,366.2 680.6,362.1 681.6,360.6 682.6,366.2 683.6,357.3 684.6,363.1 685.6,357.4 686.6,363.3 687.6,362.3 688.6,364.1 689.6,359.5 690.6,364.7 691.6,364 692.6,360.1 693.6,366.3 694.6,366.7 695.6,358.7 696.6,365.6 697.6,367.1 698.6,361.7 699.6,359 700.6,362.7 701.6,359.2 702.6,363.6 703.6,364 704.6,362.3 705.6,363.1 706.6,367.4 707.6,365.6 708.6,363.8 709.6,358.9 710.6,366.2 711.6,364.2 712.6,360.9 713.6,361.8 714.6,365.9 715.6,362 716.6,359.7 717.6,358.1 718.6,355.5 719.6,359.5 720.6,365.5 721.6,360.6 722.6,360.7 723.6,357.2 724.6,356.8 725.6,360.7 726.6,357.2 727.6,353.3 728.6,355.7 729.6,354.5 730.6,353.9 731.6,350 732.6,351.9 733.6,351 734.6,356.1 735.6,349.5 736.6,352 737.6,357.7 738.6,349.5 739.6,356.5 740.6,357 741.6,356.4 742.6,352.1 743.6,350 744.6,354.9 745.6,353 746.6,353.7 747.6,348 748.6,350.3 749.6,354.2 750.6,355.2 751.6,352.3 752.6,360.4 753.6,356.7 754.6,355 755.6,353.3 756.6,357.3 757.6,353 758.6,356.4 759.6,356.9 760.6,356.8 761.6,354.5 762.6,354.5 763.6,357.3 764.6,354.5 765.6,355.5 766.6,360.6 767.6,352.9 768.6,358 769.6,357.4 770.6,353.1 771.6,359.4 772.6,358.1 773.6,359.8 774.6,357.9 775.6,355.7 776.6,363.4 777.6,361.8 778.6,355.2 779.6,357.6 780.6,357.7 781.6,354.2 782.6,360 783.6,362.1 784.6,352.9 785.6,355 786.6,358.8 787.6,354.7 788.6,354.2 789.6,358 790.6,356 791.6,360.7 792.6,354.3 793.6,352.2 794.6,356.7 795.6,350.5 796.6,356.2 797.6,351.6 798.6,357.3 799.6,349.3 800.6,350.7 801.6,347.9 802.6,352.5 803.6,347.5 804.6,350.1 805.6,349.4 806.6,352 807.6,351.9 808.6,350.6 809.6,352.1 810.6,347.5 811.6,351.2 812.6,356.5 813.6,348 814.6,350.5 815.6,349 816.6,348.6 817.6,351.3 818.6,346.5 819.6,348.8 820.6,348.7 821.6,347.6 822.6,351.5 823.6,348.7 824.6,347.6 825.6,347.4 826.6,352.4 827.6,348.1 828.6,350.4 829.6,349.5 830.6,349 831.6,352.6 832.6,351.9 833.6,351.6 834.6,350.4 835.6,347.9 836.6,339.3 837.6,347.3 838.6,352.5 839.6,355.2 840.6,337.5 841.6,353.7 842.6,350.6 843.6,348.9 844.6,347.3 845.6,353.3 846.6,351.3 847.6,351.9 848.6,349.5 849.6,347.2 850.6,347.3 851.6,351.9 852.6,353.6 853.6,350.8 854.6,355.3 855.6,355.7 856.6,355.7 857.6,351.5 858.6,357.1 859.6,354.5 860.6,357.6 861.6,360.5 862.6,356.9 863.6,354.3 864.6,359.7 865.6,360 866.6,355.9 867.6,356.1 868.6,361.3 869.6,355 870.6,353 871.6,353 872.6,356.7 873.6,357.4 874.6,353 875.6,353.6 876.6,351.9 877.6,361.2 878.6,356.9 879.6,350.4 880.6,349.9 881.6,352.6 882.6,356.8 883.6,353.4 884.6,353.6 885.6,349.4 886.6,355.8 887.6,357.1 888.6,355.8 889.6,347.5 890.6,353.8 891.6,351.2 892.6,350.3 893.6,349.5 894.6,351.8 895.6,349.5 896.6,351.9 897.6,354 898.6,352.1 899.6,353 900.6,349.9 901.6,352 902.6,349.5 903.6,353.2 904.6,349.8 905.6,354.5 906.6,350.5 907.6,350.8 908.6,350.8 909.6,346.9 910.6,346.4 911.6,350.1 912.6,348.7 913.6,350.7 914.6,354.6 915.6,352.8 916.6,351.7 917.6,352.1 918.6,351.8 919.6,353.6 920.6,353 921.6,351.4 922.6,348.3 923.6,354 924.6,352 925.6,347.3 926.6,343.8 927.6,352.1 928.6,345.3 929.6,347.5 930.6,346.6 931.6,352.8 932.6,354.6 933.6,342.5 934.6,345.5 935.6,348 936.6,353 937.6,348.5 938.6,348.3 939.6,354.8 940.6,351 941.6,347.8 942.6,345.8 943.6,347.9 944.6,351.6 945.6,348.6 946.6,353.5 947.6,347.3 948.6,347.4 949.6,354.3 950.6,349 951.6,350.8 952.6,351.2 953.6,354.8 954.6,349.5 955.6,355.7 956.6,357.3 957.6,356.6 958.6,349.5 959.5,355 960.5,354.2 961.5,350.2 962.5,349.3 963.5,351.3 964.5,355.4 965.5,356.1 966.5,352.3 967.5,353.4 968.5,354.2 969.5,353.8 970.5,357.4 971.5,355.5 972.5,355.9 973.5,354.3 974.5,356.3 975.5,357.6 976.5,354.2 977.5,351.5 978.5,344.1 979.5,354 980.5,355.9 981.5,350.6 982.5,352.2 983.5,351.3 984.5,353.3 985.5,352.8 986.5,345.6 987.5,355.4 988.5,348 989.5,352.5 990.5,353.6 991.5,352.2 992.5,351.9 993.5,353.8 994.5,349.1 995.5,350.3 996.5,353.2 997.5,352.6 998.5,351.8 999.5,354 1000.5,349.4 1001.5,349.8 1002.5,353.5 1003.5,352.2 1004.5,352.2 1005.5,351.4 1006.5,356.8 1007.5,350.2 1008.5,353.5 1009.5,351 1010.5,354.3 1011.5,352.1 1012.5,355.8 1013.5,350.8 1014.5,349.7 1015.5,354.2 1016.5,347.9 1017.5,353.2 1018.5,354.2 1019.5,350.6 1020.5,345.5 1021.5,352.8 1022.5,353.5 1023.5,355.9 1024.5,357.6 1025.5,356.4 1026.5,354.2 1027.5,353.3 1028.5,358.3 1029.5,360.8 1030.5,352.7 1031.5,362.4 1032.5,361.5 1033.5,361.5 1034.5,360 1035.5,356.6 1036.5,361 1037.5,361.6 1038.5,358 1039.5,360.7 1040.5,359.2 1041.5,362.3 1042.5,359.5 1043.5,355.3 1044.5,357.3 1045.5,359.3 1046.5,356.2 1047.5,354.6 1048.5,353.6 1049.5,353.7 1050.5,353.6 1051.5,351.5 1052.5,358.5 1053.5,359.6 1054.5,357.4 1055.5,356.8 1056.5,357.6 1057.5,358.3 1058.5,356.8 1059.5,356.9 1060.5,357 1061.5,354.2 1062.5,354.2 1063.5,353.6 1064.5,354.5 1065.5,357.7 1066.5,356 1067.5,359.3 1068.5,357.9 1069.5,355.8 1070.5,355.8 1071.5,352.8 1072.5,352.9 1073.5,355.6 1074.5,363.4 1075.5,355.3 1076.5,356.8 1077.5,351.6 1078.5,355.7 1079.5,352.1 1080.5,351.8 1081.5,355.2 1082.5,353.4 1083.5,359.6 1084.5,357.2 1085.5,354.9 1086.5,356.1 1087.5,357.4 1088.5,354.6 1089.5,356.9 1090.5,356.7 1091.5,359.3 1092.5,353.1 1093.5,356.1 1094.5,352.9 1095.5,359.2 1096.5,359.7 1097.5,354.2 1098.5,354.9 1099.5,357.5 1100.5,353.7 1101.5,357.8 1102.5,360.8 1103.5,358.9 1104.5,362.2 1105.5,363.4 1106.5,354.6 1107.5,364.8 1108.5,364.1 1109.5,359.4 1110.5,357.8 1111.5,359.8 1112.5,358.9 1113.5,358.3 1114.5,361 1115.5,364.3 1116.5,363 1117.5,360.4 1117.5,373 1116.5,371.7 1115.5,372 1114.5,369.8 1113.5,365.9 1112.5,364.4 1111.5,369.9 1110.5,367.6 1109.5,366.8 1108.5,368.9 1107.5,375.4 1106.5,368.1 1105.5,369.6 1104.5,368.4 1103.5,371 1102.5,369.2 1101.5,366.2 1100.5,366.9 1099.5,367.8 1098.5,364.6 1097.5,371.1 1096.5,366.1 1095.5,365.9 1094.5,370 1093.5,364.6 1092.5,362.7 1091.5,364.9 1090.5,367.7 1089.5,365.7 1088.5,364 1087.5,363 1086.5,363.4 1085.5,361.9 1084.5,362.5 1083.5,365.8 1082.5,362.4 1081.5,365.1 1080.5,366.1 1079.5,369.5 1078.5,366 1077.5,367.5 1076.5,365.2 1075.5,364 1074.5,368.3 1073.5,371.2 1072.5,364.8 1071.5,361.6 1070.5,368.4 1069.5,364.9 1068.5,368.6 1067.5,365.8 1066.5,367.8 1065.5,364.7 1064.5,361.2 1063.5,364.6 1062.5,368.6 1061.5,362 1060.5,363.8 1059.5,370.8 1058.5,362.1 1057.5,362.3 1056.5,368 1055.5,365.9 1054.5,365.2 1053.5,368.8 1052.5,363.1 1051.5,362.6 1050.5,364.7 1049.5,366.8 1048.5,358.4 1047.5,370.3 1046.5,365 1045.5,368.4 1044.5,367.3 1043.5,362.7 1042.5,369 1041.5,370.3 1040.5,370.3 1039.5,373.7 1038.5,364.8 1037.5,372.6 1036.5,369.6 1035.5,364.8 1034.5,371.9 1033.5,368.5 1032.5,373.1 1031.5,376.8 1030.5,364.8 1029.5,365.3 1028.5,365 1027.5,362.4 1026.5,362.7 1025.5,366.1 1024.5,367.6 1023.5,360.2 1022.5,364.2 1021.5,363.2 1020.5,363 1019.5,356.8 1018.5,365.2 1017.5,362.2 1016.5,360.3 1015.5,361.5 1014.5,363 1013.5,360.8 1012.5,359.5 1011.5,360.5 1010.5,363.1 1009.5,361.7 1008.5,359.7 1007.5,358.3 1006.5,370 1005.5,362.6 1004.5,366.4 1003.5,359.4 1002.5,362.3 1001.5,363.5 1000.5,360.7 999.5,362.7 998.5,364.8 997.5,360.3 996.5,362.3 995.5,356.7 994.5,359.4 993.5,365.7 992.5,362 991.5,362.1 990.5,364.8 989.5,357.8 988.5,362.4 987.5,365.9 986.5,362.3 985.5,363.7 984.5,362.6 983.5,360.4 982.5,367 981.5,361.5 980.5,363.9 979.5,360.3 978.5,354.5 977.5,359.4 976.5,359.6 975.5,363.7 974.5,360.4 973.5,361.1 972.5,364.7 971.5,366.3 970.5,365.4 969.5,366.6 968.5,359.5 967.5,360 966.5,362.7 965.5,364.4 964.5,362.4 963.5,361.6 962.5,358.9 961.5,357.8 960.5,360.5 959.5,362.6 958.6,362.9 957.6,365.9 956.6,361.4 955.6,362.5 954.6,358.2 953.6,360.9 952.6,358.8 951.6,363.3 950.6,364.5 949.6,364.1 948.6,362.9 947.6,365.8 946.6,361.4 945.6,358.8 944.6,361.4 943.6,361.5 942.6,359.2 941.6,358.2 940.6,357.7 939.6,361.1 938.6,363 937.6,360.1 936.6,356.6 935.6,354.7 934.6,353.8 933.6,357.4 932.6,360.6 931.6,361.9 930.6,357.2 929.6,356.4 928.6,361.5 927.6,361.8 926.6,355 925.6,360.1 924.6,362.2 923.6,359.6 922.6,361.1 921.6,356.5 920.6,360.8 919.6,360.9 918.6,360.9 917.6,358.6 916.6,359.6 915.6,360.7 914.6,362.9 913.6,361.8 912.6,363.8 911.6,361.4 910.6,358.3 909.6,362.8 908.6,365.9 907.6,364.5 906.6,363.6 905.6,364 904.6,360.4 903.6,359.8 902.6,360.8 901.6,363.3 900.6,361.2 899.6,365.2 898.6,362.1 897.6,361.1 896.6,363.2 895.6,362.4 894.6,355 893.6,356.7 892.6,358.2 891.6,360.6 890.6,362.8 889.6,362.9 888.6,364.2 887.6,367.2 886.6,364 885.6,363.6 884.6,362 883.6,363.4 882.6,363.2 881.6,367.2 880.6,359.8 879.6,363.6 878.6,366.4 877.6,367.5 876.6,366.6 875.6,366.9 874.6,366.3 873.6,366.4 872.6,368.8 871.6,362.9 870.6,365.4 869.6,364.1 868.6,368.5 867.6,364.4 866.6,363.6 865.6,365.9 864.6,364.1 863.6,366.2 862.6,365.9 861.6,369.7 860.6,364.7 859.6,364.3 858.6,363.1 857.6,361.7 856.6,362.7 855.6,366.8 854.6,364.2 853.6,365.3 852.6,362.3 851.6,362.2 850.6,360.8 849.6,359.6 848.6,360.3 847.6,358.3 846.6,360.2 845.6,362.3 844.6,354.6 843.6,363.7 842.6,363.9 841.6,361.1 840.6,364.6 839.6,361.9 838.6,360.5 837.6,360.3 836.6,354.1 835.6,358.5 834.6,361 833.6,357.5 832.6,361.2 831.6,361.5 830.6,356.7 829.6,359.2 828.6,358.3 827.6,360.2 826.6,358.5 825.6,358 824.6,356.5 823.6,356 822.6,359.8 821.6,361.1 820.6,359.7 819.6,360.5 818.6,357 817.6,362.3 816.6,356.8 815.6,357.6 814.6,360 813.6,361.1 812.6,363.2 811.6,357.3 810.6,359.3 809.6,366.2 808.6,356.5 807.6,357.3 806.6,361.1 805.6,363.4 804.6,359.9 803.6,362.3 802.6,360.6 801.6,363.6 800.6,364.4 799.6,365.7 798.6,366 797.6,370.4 796.6,369 795.6,366.9 794.6,366 793.6,370.6 792.6,368.6 791.6,365.4 790.6,366.6 789.6,366.1 788.6,363.3 787.6,365.6 786.6,364.9 785.6,367.4 784.6,363.4 783.6,370.2 782.6,365.2 781.6,366.3 780.6,366.8 779.6,369.2 778.6,370.4 777.6,368.8 776.6,372.6 775.6,367.4 774.6,366.7 773.6,366.5 772.6,372 771.6,369.6 770.6,367.7 769.6,364.3 768.6,365.6 767.6,364.2 766.6,366.9 765.6,362.8 764.6,366.6 763.6,368.9 762.6,367.1 761.6,362.9 760.6,368.2 759.6,362.6 758.6,366.6 757.6,360.1 756.6,368.7 755.6,363.8 754.6,360.9 753.6,368 752.6,367.4 751.6,362.3 750.6,367.4 749.6,360.5 748.6,358.4 747.6,366.1 746.6,360.3 745.6,365.8 744.6,361.1 743.6,363 742.6,363.7 741.6,361.4 740.6,362.5 739.6,368.3 738.6,363.3 737.6,363.7 736.6,364.4 735.6,362.3 734.6,372.2 733.6,359.7 732.6,368.9 731.6,369.7 730.6,366.1 729.6,363.6 728.6,363.5 727.6,364.6 726.6,366.4 725.6,368.8 724.6,364.2 723.6,369.1 722.6,367 721.6,372.4 720.6,373.8 719.6,366.8 718.6,365.1 717.6,366.1 716.6,373.5 715.6,368.9 714.6,372.4 713.6,370.8 712.6,367.9 711.6,369.6 710.6,376 709.6,370.7 708.6,368.8 707.6,378.1 706.6,371.4 705.6,371.5 704.6,371.5 703.6,370.8 702.6,371.1 701.6,371.3 700.6,370.3 699.6,368.3 698.6,375.6 697.6,374.4 696.6,375.3 695.6,371.1 694.6,373.1 693.6,373.1 692.6,369.7 691.6,372 690.6,375.6 689.6,378.3 688.6,375.8 687.6,377.8 686.6,370.2 685.6,372.9 684.6,368.6 683.6,373.4 682.6,371.6 681.6,370.3 680.6,371.3 679.6,372.8 678.6,371.7 677.6,368.3 676.6,371.2 675.6,374.3 674.6,372.6 673.6,369.7 672.6,369.5 671.6,367.8 670.6,370 669.6,369.5 668.6,374.2 667.6,366.3 666.6,371.2 665.6,367.1 664.6,366.9 663.6,365.6 662.6,367.9 661.6,372 660.6,365.6 659.6,376.5 658.6,370.6 657.6,370.2 656.6,368.9 655.6,368.9 654.6,370.5 653.6,366 652.6,367.8 651.6,366.2 650.6,370 649.6,370 648.6,366.2 647.6,369.3 646.6,370.4 645.6,366.9 644.6,362.8 643.6,370.4 642.6,368.3 641.6,369.3 640.7,370.9 639.7,368.9 638.7,371.5 637.7,367.9 636.7,374.3 635.7,372.6 634.7,370.4 633.7,371.9 632.7,378.8 631.7,370.9 630.7,369.1 629.7,373.2 628.7,373 627.7,379.6 626.7,370 625.7,377.7 624.7,375 623.7,373.4 622.7,366.3 621.7,367.8 620.7,367.8 619.7,376.6 618.7,371.2 617.7,375.8 616.7,372.9 615.7,374.9 614.7,373.9 613.7,370.2 612.7,373.3 611.7,373.3 610.7,373 609.7,374.4 608.7,367.8 607.7,370.3 606.7,365.3 605.7,369.5 604.7,368.8 603.7,372.1 602.7,373.1 601.7,373.6 600.7,367.5 599.7,371.9 598.7,378.9 597.7,372.8 596.7,375.5 595.7,370.6 594.7,370.1 593.7,376.3 592.7,374.2 591.7,373.6 590.7,375.4 589.7,373.6 588.7,371.2 587.7,368.4 586.7,373.3 585.7,376.9 584.7,369.1 583.7,371.5 582.7,379.7 581.7,374.2 580.7,376.3 579.7,372.5 578.7,370.1 577.7,373.8 576.7,374.1 575.7,377.1 574.7,376.7 573.7,383 572.7,380.2 571.7,373.1 570.7,375.4 569.7,377.4 568.7,372.5 567.7,371.3 566.7,373.8 565.7,375 564.7,377.7 563.7,372.4 562.7,368.8 561.7,373.8 560.7,370.8 559.7,375.4 558.7,370.5 557.7,378.2 556.7,367.8 555.7,369.5 554.7,382 553.7,370.3 552.7,371.5 551.7,373.1 550.7,373.2 549.7,373.7 548.7,371.2 547.7,371.6 546.7,372 545.7,364.9 544.7,370.8 543.7,376.8 542.7,372.4 541.7,374.9 540.7,374.2 539.7,378.5 538.7,368.7 537.7,381.1 536.7,378.4 535.7,376.7 534.7,375.4 533.7,375.7 532.7,375.3 531.7,374.4 530.7,376.3 529.7,369.3 528.7,379 527.7,375.1 526.7,370.9 525.7,368.8 524.7,372.1 523.7,370.7 522.7,372.4 521.7,368.9 520.7,369 519.7,366.3 518.7,364.1 517.7,367.8 516.7,364.1 515.7,367.9 514.7,361.8 513.7,366.7 512.7,368.7 511.7,367.5 510.7,374.2 509.7,370.3 508.7,372.1 507.7,370.9 506.7,370.2 505.7,361 504.7,370 503.7,372.8 502.7,369.4 501.7,366 500.7,369.3 499.7,369.1 498.7,370.8 497.7,372.3 496.7,373.9 495.7,373.4 494.7,373.6 493.7,373.3 492.7,375.1 491.7,376.2 490.7,372.8 489.7,378 488.7,371.1 487.7,370.7 486.7,379 485.7,377.7 484.7,378.9 483.7,377.3 482.7,371.8 481.7,369.4 480.7,372 479.7,377.2 478.7,373 477.7,373.6 476.7,375.5 475.7,372.9 474.7,371.6 473.7,370.4 472.7,372.9 471.7,371.8 470.7,366.6 469.7,366.7 468.7,371.6 467.7,371.6 466.7,375.6 465.7,372.1 464.7,369.9 463.7,375.3 462.7,369.7 461.7,373.2 460.7,370.1 459.7,375.4 458.7,371 457.7,365.1 456.7,369.4 455.7,375.5 454.7,374.3 453.7,370.1 452.7,373.5 451.7,380.3 450.7,377.8 449.7,376.9 448.7,377.5 447.7,376.5 446.7,370.7 445.7,372.9 444.7,370.9 443.7,375.7 442.7,368.4 441.7,374.9 440.7,370.4 439.7,367.4 438.7,370.6 437.7,376.4 436.7,367.1 435.7,373.3 434.7,365.5 433.7,373.1 432.7,366.3 431.7,366.7 430.7,365 429.7,370.5 428.7,359.9 427.7,361.1 426.7,363.2 425.7,363.3 424.7,372.4 423.7,364.4 422.7,362.5 421.7,360.1 420.7,361.8 419.7,357.6 418.7,361.7 417.7,370.2 416.7,368 415.7,367.3 414.7,365.6 413.7,370 412.7,372.1 411.7,367.1 410.7,376 409.7,369.5 408.7,373.9 407.7,369.2 406.7,370 405.7,371.8 404.7,379.6 403.7,374.2 402.7,371.4 401.7,380.3 400.7,380.4 399.7,382 398.7,374.9 397.7,377.4 396.7,376.5 395.7,379.2 394.7,380 393.7,379.8 392.7,382.5 391.7,386.1 390.7,380.6 389.7,384.2 388.7,388.4 387.7,388.2 386.7,381.5 385.7,387.4 384.7,379 383.7,382.8 382.7,384 381.7,377.6 380.7,380.4 379.7,382.5 378.7,378.4 377.7,376.2 376.7,381.7 375.7,384.2 374.7,384.4 373.7,380.6 372.7,384.3 371.7,375.7 370.7,377 369.7,379 368.7,381.7 367.7,380.6 366.7,380.7 365.7,376.4 364.7,378.5 363.7,384 362.7,384.1 361.7,386.9 360.7,392 359.7,389.5 358.7,390.2 357.7,388.4 356.7,386.3 355.7,389.7 354.7,390.8 353.7,387.4 352.7,383 351.7,383.5 350.7,378.4 349.7,372.6 348.7,381.8 347.7,384.4 346.7,383 345.7,383.1 344.7,384.3 343.7,392.2 342.7,392.4 341.7,379.6 340.7,379.6 339.7,377.9 338.7,383.8 337.7,376.3 336.7,377.1 335.7,386.2 334.7,391.4 333.7,389.7 332.7,391.4 331.7,400.2 330.7,401.4 329.7,399.7 328.7,395.6 327.7,399.5 326.7,402.7 325.7,394.5 324.7,402.2 323.7,393.9 322.8,398 321.8,404.2 320.8,395.3 319.8,393.7 318.8,402.2 317.8,400.3 316.8,398.5 315.8,397.4 314.8,400.8 313.8,405.6 312.8,402.3 311.8,399.4 310.8,390.8 309.8,396.9 308.8,394.4 307.8,398 306.8,400.5 305.8,404.4 304.8,406.9 303.8,397.2 302.8,400.3 301.8,391.2 300.8,391.3 299.8,399.1 298.8,404.6 297.8,396.2 296.8,402.4 295.8,398.9 294.8,402.2 293.8,402.8 292.8,406.4 291.8,403.5 290.8,404.1 289.8,398.6 288.8,400.4 287.8,399.1 286.8,397.7 285.8,402.8 284.8,405.6 283.8,401.8 282.8,399.2 281.8,401.9 280.8,407.2 279.8,403.8 278.8,405.3 277.8,407.3 276.8,410.7 275.8,409.3 274.8,410.5 273.8,405.1 272.8,406 271.8,407.6 270.8,402.9 269.8,410.2 268.8,407 267.8,402.2 266.8,402.1 265.8,405.7 264.8,400 263.8,410.1 262.8,403.4 261.8,397.1 260.8,397.2 259.8,406.2 258.8,395.5 257.8,396.2 256.8,399.4 255.8,398.1 254.8,397.3 253.8,402.5 252.8,401.8 251.8,396.8 250.8,400.4 249.8,402 248.8,410.8 247.8,406.5 246.8,401.9 245.8,400.1 244.8,403.7 243.8,409.3 242.8,410.6 241.8,407.4 240.8,399.8 239.8,404.4 238.8,403.1 237.8,400.5 236.8,401.3 235.8,405.9 234.8,413.6 233.8,409.4 232.8,400.8 231.8,401.6 230.8,399.6 229.8,409.6 228.8,406.1 227.8,407.8 226.8,409.2 225.8,412.6 224.8,414.8 223.8,407.5 222.8,415.5 221.8,413.2 220.8,411.6 219.8,408.1 218.8,421.2 217.8,413.6 216.8,413 215.8,418.9 214.8,415.9 213.8,411.3 212.8,411.7 211.8,406.8 210.8,406.1 209.8,419.7 208.8,408.5 207.8,418.7 206.8,420.3 205.8,415.4 204.8,411.4 203.8,414.6 202.8,409.3 201.8,412.3 200.8,414.3 199.8,407.5 198.8,410.3 197.8,416.1 196.8,408.9 195.8,417.1 194.8,415 193.8,413.3 192.8,412.7 191.8,420.3 190.8,415.8 189.8,415.8 188.8,414.6 187.8,408.7 186.8,410.8 185.8,415.1 184.8,411.6 183.8,411.3 182.8,410.7 181.8,414.3 180.8,415.9 179.8,414 178.8,410.8 177.8,407 176.8,418.2 175.8,416.8 174.8,409.8 173.8,419.4 172.8,412.5 171.8,414.9 170.8,413.1 169.8,425.6 168.8,423 167.8,427.3 166.8,425.9 165.8,419.9 164.8,430.6" fill="#0a12b8" stroke="#030340" stroke-width="1.0" stroke-linejoin="round"/>
<text transform="translate(131.7 473.9) scale(1.0000 1)" font-size="21.51">0</text>
<text transform="translate(131.9 423.3) scale(1.0000 1)" font-size="21.51">1</text>
<text transform="translate(131.9 372.7) scale(1.0000 1)" font-size="21.51">2</text>
<text transform="translate(131.8 322.1) scale(1.0000 1)" font-size="21.51">3</text>
<text transform="translate(956.5 451.1) scale(1.0198 1)" font-size="27.24">CID_3482855</text>
<path d="M259.8 545.5V746.5M355.1 545.5V746.5M450.5 545.5V746.5M545.8 545.5V746.5M641.2 545.5V746.5M736.6 545.5V746.5M831.9 545.5V746.5M927.3 545.5V746.5M1022.6 545.5V746.5M164.4 713H1118M164.4 679.5H1118M164.4 646H1118M164.4 612.5H1118M164.4 579H1118M164.4 545.5H1118V746.5" stroke="#8a828e" stroke-width="1.1" fill="none"/>
<path d="M164.4 545.5V746.5H1118" stroke="#4a4050" stroke-width="1.6" fill="none"/>
<polygon points="164.9,704.8 165.9,691.2 166.9,705.3 167.9,696.5 168.9,692.6 169.9,696.1 170.9,693.4 171.9,694.1 172.9,690.8 173.9,691.3 174.9,697.4 175.9,700 176.9,696.6 177.9,691.4 178.9,692.6 179.9,695.1 180.9,692 181.9,701.4 182.9,700.3 183.9,698.8 184.9,692.7 185.9,697.6 186.9,699.1 187.9,689.7 188.9,691.4 189.9,696.7 190.9,695.4 191.9,688.1 192.9,693.5 193.9,696.8 194.9,690.1 195.9,692.1 196.9,688.7 197.9,693.6 198.9,684.9 199.9,692.5 200.9,687.8 201.9,693.3 202.9,691.5 203.9,694.4 204.9,691.5 205.9,691.9 206.9,694.7 207.9,692.4 208.9,697.6 209.9,691 210.9,689.1 211.9,688.5 212.9,684.2 213.9,679.1 214.9,688 215.9,687.9 216.9,689.1 217.9,688.5 218.9,685 219.9,681.5 220.9,680.8 221.9,686.3 222.9,685.6 223.9,682.5 224.9,686.7 225.9,689.5 226.9,676.1 227.9,682.4 228.9,679.2 229.9,678.9 230.9,683.3 231.9,684.2 232.9,685.7 233.9,685 234.9,688.2 235.9,681.9 236.9,684.4 237.9,682.2 238.9,683.7 239.9,678.9 240.9,677.5 241.9,680.4 242.9,677.4 243.9,674.1 244.9,683 245.9,682.6 246.9,685.9 247.9,685.7 248.9,685.5 249.9,687.8 250.9,685.1 251.9,686.4 252.9,682.2 253.9,671.7 254.9,681.4 255.9,681.4 256.9,681.2 257.9,678.1 258.9,679.1 259.9,681.7 260.9,678.7 261.9,677.9 262.9,685.7 263.9,683.7 264.9,683.2 265.9,685.1 266.9,680.8 267.9,684.9 268.9,680.4 269.9,678.9 270.9,679.8 271.9,684.5 272.9,686.4 273.9,684 274.9,675.4 275.9,679.8 276.9,683.1 277.9,683 278.9,680.1 279.9,677.9 280.9,682.3 281.9,675.6 282.9,679.2 283.8,679.8 284.8,676.9 285.8,677.8 286.8,680.5 287.8,685.6 288.8,687.5 289.8,682.4 290.8,684 291.8,673.4 292.8,676.7 293.8,677.1 294.8,682.9 295.8,680.8 296.8,677.3 297.8,684.1 298.8,682.8 299.8,676 300.8,673.7 301.8,676.1 302.8,682.6 303.8,680 304.8,679.2 305.8,685 306.8,680.4 307.8,682 308.8,675.6 309.8,673.6 310.8,672.8 311.8,669.9 312.8,682.4 313.8,675.5 314.8,678.9 315.8,683.9 316.8,677.9 317.8,674 318.8,673 319.8,679.1 320.8,664.8 321.8,667.4 322.8,679.7 323.8,677.9 324.8,676.9 325.8,671.1 326.8,676.1 327.8,675.4 328.8,669.6 329.8,668 330.8,671.2 331.8,672.3 332.8,666.3 333.8,666.4 334.8,667.9 335.8,667.8 336.8,670.1 337.8,670.5 338.8,667.4 339.8,670.9 340.8,666.7 341.8,673.3 342.8,666.1 343.8,661.3 344.8,667.2 345.8,668.5 346.8,665.5 347.8,668.1 348.8,660.5 349.8,661.5 350.8,659.2 351.8,656.4 352.8,667.7 353.8,655.6 354.8,666.6 355.8,655.9 356.8,661.6 357.8,656.7 358.8,645.4 359.8,662.1 360.8,663.3 361.8,657.2 362.8,659 363.8,658.8 364.8,656.5 365.8,655.7 366.8,656.6 367.8,658.6 368.8,656.3 369.8,664.4 370.8,658.2 371.8,651.1 372.8,655.5 373.8,658.3 374.8,658.5 375.8,658 376.8,652.6 377.8,657 378.8,658.5 379.8,661.8 380.8,661.4 381.8,657.6 382.8,655.7 383.8,655.3 384.8,657.8 385.8,652.8 386.8,657.4 387.8,656.3 388.8,661.2 389.8,663.6 390.8,663 391.8,666.5 392.8,656.2 393.8,658.1 394.8,664.7 395.8,666.9 396.8,659.5 397.8,665.1 398.8,661.8 399.8,662.9 400.8,663.3 401.8,654.7 402.8,659.7 403.8,656 404.8,656.5 405.8,664.6 406.8,661.3 407.8,666.1 408.8,658.2 409.8,660.3 410.8,662.8 411.8,663 412.8,656.2 413.8,667.6 414.8,664.9 415.8,661.2 416.8,659.2 417.8,662.5 418.8,664.4 419.8,665.9 420.8,666.8 421.8,664.3 422.8,664.9 423.8,660.6 424.8,660.7 425.8,660.7 426.8,664.5 427.8,660 428.8,661.1 429.8,652.6 430.8,651.5 431.8,655.2 432.8,662.5 433.8,657.8 434.8,655.2 435.8,659.4 436.8,653.1 437.8,656.8 438.8,651.4 439.8,655.4 440.8,657.4 441.8,657.1 442.8,658.1 443.8,657.4 444.8,659.6 445.8,653 446.8,656.5 447.8,658.2 448.8,656.4 449.8,662.3 450.8,660.1 451.8,665.3 452.8,662.2 453.8,666.4 454.8,659.9 455.8,659.3 456.8,663 457.8,660.7 458.8,665.7 459.8,656.5 460.8,662.8 461.8,659 462.8,661.6 463.8,656.3 464.8,665.9 465.8,664 466.8,665.3 467.8,669.4 468.8,665.2 469.8,663.1 470.8,669.2 471.8,668.7 472.8,663.2 473.8,664.3 474.8,663.8 475.8,650.9 476.8,663.1 477.8,676.9 478.8,673.3 479.8,668.4 480.8,672 481.8,666 482.8,662 483.8,668 484.8,665.9 485.8,664.8 486.8,665.6 487.8,663.4 488.8,669.4 489.8,667.6 490.8,672.3 491.8,667.4 492.8,673.4 493.8,669.5 494.8,670.6 495.8,665.4 496.8,671.2 497.8,670.1 498.8,665.1 499.8,672.3 500.8,665.3 501.8,664.4 502.8,672.7 503.8,665.6 504.8,669.7 505.8,661.2 506.8,669.9 507.8,657.7 508.8,664 509.8,666 510.8,656.9 511.8,662.8 512.8,661.4 513.8,667.5 514.8,655.6 515.8,662 516.8,668.6 517.8,662.7 518.8,661.4 519.8,663.5 520.8,664.5 521.8,664.6 522.7,660.4 523.7,655.6 524.7,665.7 525.7,658.5 526.7,658.6 527.7,665 528.7,657.1 529.7,664.8 530.7,657 531.7,660.9 532.7,661.7 533.7,668.1 534.7,663.5 535.7,660 536.7,655.8 537.7,655.8 538.7,650.8 539.7,644.2 540.7,658.8 541.7,662.5 542.7,655.4 543.7,652.4 544.7,650.8 545.7,660.6 546.7,654.6 547.7,651.6 548.7,658.5 549.7,658.2 550.7,655.1 551.7,657.8 552.7,649.3 553.7,648.2 554.7,659.6 555.7,657.4 556.7,659.4 557.7,659 558.7,660.4 559.7,656 560.7,657.6 561.7,665.6 562.7,661.2 563.7,660.6 564.7,667.9 565.7,662.7 566.7,666.1 567.7,664.7 568.7,660.9 569.7,655.8 570.7,662.9 571.7,665.3 572.7,657.3 573.7,661.5 574.7,668.3 575.7,660.8 576.7,659.7 577.7,663.6 578.7,658.5 579.7,651.4 580.7,654.9 581.7,645.3 582.7,646.4 583.7,649.5 584.7,650.6 585.7,642.7 586.7,650.2 587.7,650.1 588.7,647.4 589.7,638.9 590.7,650.7 591.7,645.5 592.7,652 593.7,651.5 594.7,655 595.7,652.1 596.7,655.6 597.7,648.5 598.7,650.5 599.7,643.5 600.7,651.2 601.7,653.7 602.7,657.9 603.7,656.6 604.7,658.5 605.7,647.7 606.7,658 607.7,655.2 608.7,657 609.7,660.6 610.7,658.6 611.7,649.5 612.7,657.8 613.7,650.4 614.7,650.1 615.7,652.9 616.7,656.7 617.7,647.4 618.7,645.5 619.7,641.7 620.7,651.7 621.7,650.5 622.7,648.9 623.7,649.3 624.7,639.2 625.7,649.2 626.7,651.5 627.7,647.9 628.7,655.9 629.7,634.4 630.7,642 631.7,644.3 632.7,646.5 633.7,646.7 634.7,640.4 635.7,649 636.7,644.1 637.7,640.8 638.7,643.9 639.7,636.7 640.7,639.3 641.7,647.6 642.7,642 643.7,636.6 644.7,639.8 645.7,642.5 646.7,640.9 647.7,632 648.7,636 649.7,637.2 650.7,644.1 651.7,638.7 652.7,637.5 653.7,633 654.7,642.9 655.7,633.3 656.7,645.9 657.7,638.5 658.7,632.7 659.7,637.3 660.7,638.3 661.7,634.2 662.7,643.7 663.7,640.4 664.7,635.9 665.7,641.1 666.7,638.2 667.7,632.4 668.7,639.4 669.7,636.9 670.7,631 671.7,622.1 672.7,621.4 673.7,628.1 674.7,611.7 675.7,607.9 676.7,600.6 677.7,609.1 678.7,598.9 679.7,612.1 680.7,602.2 681.7,601.9 682.7,606.5 683.7,602.3 684.7,607.6 685.7,610.7 686.7,604.7 687.7,594.4 688.7,595.7 689.7,604.5 690.7,587.3 691.7,583.2 692.7,602.1 693.7,597.7 694.7,592.3 695.7,595.4 696.7,601.7 697.7,599.5 698.7,588.9 699.7,599.3 700.7,587.8 701.7,596.9 702.7,597.8 703.7,587.6 704.7,589.3 705.7,589.6 706.7,603.1 707.7,601.9 708.7,591 709.7,588.5 710.7,596.7 711.7,598.1 712.7,592.9 713.7,583.4 714.7,582.2 715.7,594.4 716.7,597 717.7,596.5 718.7,598.6 719.7,598.8 720.7,590.3 721.7,595.9 722.7,588.3 723.7,597.7 724.7,596.7 725.7,592.9 726.7,583 727.7,596 728.7,597.9 729.7,606 730.7,601.4 731.7,597.8 732.7,590.9 733.7,586.8 734.7,589.1 735.7,595.5 736.7,587.6 737.7,591.4 738.7,584.5 739.7,588.4 740.7,594.5 741.7,601.8 742.7,593.3 743.7,589.9 744.7,595.7 745.7,590.8 746.7,593.2 747.7,595.3 748.7,605.2 749.7,610.4 750.7,606.5 751.7,598.1 752.7,603.4 753.7,604.6 754.7,597.6 755.7,596.1 756.7,612.7 757.7,594.1 758.7,593.2 759.7,589.3 760.6,587.9 761.6,597.9 762.6,592.2 763.6,595 764.6,596.8 765.6,585.7 766.6,582.2 767.6,588.8 768.6,591.5 769.6,583.5 770.6,593.2 771.6,590.2 772.6,593.9 773.6,589.9 774.6,591.3 775.6,596.6 776.6,597.8 777.6,605 778.6,601.9 779.6,593.5 780.6,597.3 781.6,599.3 782.6,596.7 783.6,597.8 784.6,594.5 785.6,601.4 786.6,588.5 787.6,592.8 788.6,592.6 789.6,592.8 790.6,601.4 791.6,593 792.6,584 793.6,581.8 794.6,596.5 795.6,588.7 796.6,602.3 797.6,586.1 798.6,597.1 799.6,590.3 800.6,599.3 801.6,599.3 802.6,596 803.6,596.8 804.6,602.4 805.6,593.1 806.6,597.2 807.6,601.6 808.6,592.8 809.6,592.4 810.6,589 811.6,593.4 812.6,595.3 813.6,602.8 814.6,594.6 815.6,609.2 816.6,597.3 817.6,594.4 818.6,603 819.6,603.9 820.6,597.2 821.6,607.2 822.6,597.1 823.6,594.7 824.6,594.3 825.6,600.3 826.6,598.1 827.6,587.5 828.6,600.5 829.6,600.8 830.6,607.6 831.6,600.3 832.6,602.7 833.6,599.2 834.6,595.9 835.6,608.4 836.6,607.4 837.6,605.8 838.6,604.5 839.6,597.4 840.6,599 841.6,606.4 842.6,604.8 843.6,597.1 844.6,603.9 845.6,606.3 846.6,602.9 847.6,593.1 848.6,610.3 849.6,599.9 850.6,601.5 851.6,607.9 852.6,609.4 853.6,611 854.6,611.4 855.6,610 856.6,607 857.6,603.4 858.6,610.5 859.6,606.2 860.6,605.6 861.6,608.6 862.6,605.7 863.6,600.8 864.6,611.7 865.6,609.8 866.6,609 867.6,607.1 868.6,612.9 869.6,617.2 870.6,611.3 871.6,612.4 872.6,606.1 873.6,611.4 874.6,618.9 875.6,610.6 876.6,609 877.6,612.8 878.6,618.8 879.6,617.5 880.6,612.8 881.6,612 882.6,613.8 883.6,614.7 884.6,613.6 885.6,610.8 886.6,606.2 887.6,611.9 888.6,611.2 889.6,604.5 890.6,610.7 891.6,609.4 892.6,609.4 893.6,608.4 894.6,607 895.6,601.2 896.6,609.8 897.6,604.8 898.6,605.1 899.6,609.6 900.6,612.9 901.6,604.3 902.6,611.2 903.6,608.5 904.6,603.5 905.6,599.7 906.6,599.4 907.6,608.4 908.6,602.6 909.6,603 910.6,601.2 911.6,609.6 912.6,599.1 913.6,605.8 914.6,603 915.6,597.6 916.6,599.9 917.6,600.6 918.6,604 919.6,595.5 920.6,602.1 921.6,600.3 922.6,599.4 923.6,597.3 924.6,597.5 925.6,602 926.6,598.2 927.6,603.9 928.6,603.3 929.6,606 930.6,603.1 931.6,606.7 932.6,607.5 933.6,603.5 934.6,596.2 935.6,589.8 936.6,602.2 937.6,597.8 938.6,603.9 939.6,603.9 940.6,608.7 941.6,607.1 942.6,597.5 943.6,609.3 944.6,606.4 945.6,605.6 946.6,611.4 947.6,606.4 948.6,611.7 949.6,598.4 950.6,603 951.6,605.5 952.6,607.2 953.6,603.7 954.6,606.1 955.6,604.1 956.6,605.3 957.6,605.9 958.6,599.7 959.6,600.9 960.6,604.2 961.6,602.6 962.6,604.7 963.6,605.5 964.6,602.9 965.6,598.5 966.6,609.1 967.6,600.8 968.6,607.2 969.6,616.8 970.6,606.2 971.6,607.1 972.6,605.4 973.6,600.5 974.6,614.4 975.6,600.3 976.6,607.4 977.6,608.1 978.6,603.2 979.6,604.8 980.6,603.8 981.6,611.7 982.6,607 983.6,615.6 984.6,612.3 985.6,615 986.6,612.8 987.6,616.7 988.6,614.7 989.6,609.4 990.6,616.5 991.6,613.3 992.6,608.8 993.6,610.4 994.6,612.8 995.6,606.1 996.6,608.7 997.6,603.1 998.6,607.4 999.5,609.5 1000.5,604.3 1001.5,602.3 1002.5,609.4 1003.5,614.8 1004.5,615.2 1005.5,594.6 1006.5,604.5 1007.5,610.7 1008.5,609.8 1009.5,601 1010.5,604.1 1011.5,598.1 1012.5,599.3 1013.5,607.8 1014.5,603.4 1015.5,605.2 1016.5,600.3 1017.5,597.6 1018.5,606.3 1019.5,606.4 1020.5,610.5 1021.5,603.1 1022.5,605 1023.5,612 1024.5,602.9 1025.5,608 1026.5,600.4 1027.5,607.3 1028.5,602 1029.5,613.2 1030.5,611.7 1031.5,609.9 1032.5,610.5 1033.5,598.7 1034.5,604 1035.5,603.7 1036.5,591.8 1037.5,604.4 1038.5,608.4 1039.5,609.5 1040.5,603.2 1041.5,597.5 1042.5,603.6 1043.5,602 1044.5,600.9 1045.5,599.5 1046.5,612.4 1047.5,615.5 1048.5,595.2 1049.5,604.1 1050.5,603.9 1051.5,604.8 1052.5,606 1053.5,599 1054.5,601.3 1055.5,593 1056.5,596.5 1057.5,598.8 1058.5,600.6 1059.5,591.7 1060.5,607.7 1061.5,603.2 1062.5,596.1 1063.5,596.9 1064.5,606.1 1065.5,595.9 1066.5,595.3 1067.5,596 1068.5,591.7 1069.5,592.1 1070.5,595 1071.5,595.8 1072.5,581.7 1073.5,601.3 1074.5,594.4 1075.5,589.7 1076.5,595.1 1077.5,593.1 1078.5,599.6 1079.5,599 1080.5,593.7 1081.5,588.4 1082.5,582.7 1083.5,582.3 1084.5,583.8 1085.5,587.2 1086.5,580.2 1087.5,589 1088.5,597.3 1089.5,584.5 1090.5,593.9 1091.5,588.4 1092.5,585.8 1093.5,581 1094.5,585.7 1095.5,585.5 1096.5,593.4 1097.5,600 1098.5,599.2 1099.5,592 1100.5,593.3 1101.5,589 1102.5,593.8 1103.5,590.6 1104.5,587.8 1105.5,589.3 1106.5,589.8 1107.5,588.8 1108.5,582.9 1109.5,596 1110.5,590.1 1111.5,602.4 1112.5,598.5 1113.5,591.3 1114.5,604.4 1115.5,592.7 1116.5,598.4 1117.5,590.7 1117.5,610.9 1116.5,617.4 1115.5,608.2 1114.5,610.7 1113.5,607.3 1112.5,609.3 1111.5,614.2 1110.5,604.5 1109.5,609.1 1108.5,602.1 1107.5,608.9 1106.5,600.6 1105.5,605.3 1104.5,596.7 1103.5,613 1102.5,604.8 1101.5,601.2 1100.5,603.4 1099.5,608.5 1098.5,610.2 1097.5,608.9 1096.5,602.3 1095.5,604.1 1094.5,600.9 1093.5,594.6 1092.5,592.7 1091.5,601.2 1090.5,604.6 1089.5,605.5 1088.5,605.2 1087.5,603.1 1086.5,601.7 1085.5,604.5 1084.5,596.6 1083.5,602.3 1082.5,603.4 1081.5,609.4 1080.5,607.5 1079.5,608 1078.5,606.5 1077.5,605.1 1076.5,610.1 1075.5,603.7 1074.5,604.6 1073.5,611.3 1072.5,611.2 1071.5,615.9 1070.5,621.7 1069.5,609.6 1068.5,609.9 1067.5,606.3 1066.5,612.4 1065.5,617.2 1064.5,626.2 1063.5,623.6 1062.5,613 1061.5,614.2 1060.5,618.1 1059.5,616.3 1058.5,618.9 1057.5,611.2 1056.5,613.5 1055.5,607 1054.5,612.5 1053.5,618.1 1052.5,611.8 1051.5,617 1050.5,615.8 1049.5,617 1048.5,620.7 1047.5,622.5 1046.5,623.8 1045.5,615.5 1044.5,607.5 1043.5,611.3 1042.5,617.6 1041.5,619.8 1040.5,613.4 1039.5,622.2 1038.5,619.3 1037.5,618.1 1036.5,617.8 1035.5,620.3 1034.5,618.7 1033.5,615.1 1032.5,618 1031.5,618.2 1030.5,623.5 1029.5,616.2 1028.5,630.7 1027.5,612.9 1026.5,608.8 1025.5,619.6 1024.5,617.1 1023.5,618.3 1022.5,619.6 1021.5,617.7 1020.5,615.8 1019.5,623.2 1018.5,625.6 1017.5,613.7 1016.5,613.3 1015.5,620.6 1014.5,615.5 1013.5,620.6 1012.5,617 1011.5,612.3 1010.5,612.7 1009.5,622.3 1008.5,619 1007.5,617.9 1006.5,619 1005.5,621.1 1004.5,626.3 1003.5,632.7 1002.5,619.4 1001.5,622.9 1000.5,620.2 999.5,618 998.6,618.6 997.6,620.6 996.6,624.2 995.6,627.4 994.6,630.9 993.6,623.3 992.6,626.6 991.6,626.4 990.6,626.7 989.6,623.7 988.6,630.7 987.6,625.4 986.6,625.6 985.6,621.5 984.6,626.4 983.6,623.1 982.6,618.7 981.6,620.8 980.6,619 979.6,622.4 978.6,613.5 977.6,617.9 976.6,620.4 975.6,618.6 974.6,626.7 973.6,620.6 972.6,616.9 971.6,618.8 970.6,618.2 969.6,624.8 968.6,620.3 967.6,613.9 966.6,625.9 965.6,618.1 964.6,617.8 963.6,622.2 962.6,619.7 961.6,613.3 960.6,614.5 959.6,620.1 958.6,614 957.6,614.4 956.6,618.7 955.6,615.9 954.6,619.2 953.6,619.1 952.6,622.8 951.6,622.6 950.6,619.4 949.6,613.7 948.6,618.4 947.6,612.1 946.6,617.2 945.6,622 944.6,618.6 943.6,615.5 942.6,618.6 941.6,627 940.6,615.9 939.6,612.2 938.6,619.3 937.6,622 936.6,607.3 935.6,612 934.6,619.2 933.6,621.5 932.6,616.7 931.6,626.3 930.6,616.1 929.6,618.8 928.6,612.1 927.6,613.6 926.6,610.7 925.6,615.3 924.6,614.2 923.6,608.1 922.6,606.1 921.6,607.2 920.6,613.3 919.6,612.4 918.6,614.7 917.6,617.9 916.6,611.4 915.6,609.5 914.6,613.6 913.6,623 912.6,610.5 911.6,613.2 910.6,617.8 909.6,609.9 908.6,613.8 907.6,623.7 906.6,620.5 905.6,618.8 904.6,616.5 903.6,620.2 902.6,618.1 901.6,616.8 900.6,620.4 899.6,630.3 898.6,614.1 897.6,620.8 896.6,618.8 895.6,620.3 894.6,614.3 893.6,618.1 892.6,619.1 891.6,618.4 890.6,616.7 889.6,613.9 888.6,625.5 887.6,625.4 886.6,615.8 885.6,625.6 884.6,625.5 883.6,620.8 882.6,620.1 881.6,623 880.6,632.2 879.6,631.5 878.6,629.9 877.6,623.8 876.6,627.7 875.6,619.1 874.6,629.7 873.6,628.2 872.6,622.9 871.6,622.9 870.6,625.2 869.6,622.5 868.6,622.1 867.6,623.1 866.6,625.1 865.6,623.5 864.6,626.8 863.6,624.7 862.6,624.8 861.6,625 860.6,621.1 859.6,615.1 858.6,620.9 857.6,622.4 856.6,621.7 855.6,625.1 854.6,624.9 853.6,618 852.6,622.2 851.6,622.2 850.6,612.7 849.6,611.4 848.6,620.4 847.6,618.7 846.6,616.9 845.6,623.3 844.6,618.7 843.6,617.2 842.6,614.5 841.6,632.4 840.6,619.7 839.6,608.1 838.6,618.5 837.6,616.6 836.6,620.6 835.6,615 834.6,615.9 833.6,609.7 832.6,609.2 831.6,613.1 830.6,619.7 829.6,619.1 828.6,615 827.6,613 826.6,619.4 825.6,607.2 824.6,618.4 823.6,610.6 822.6,616.2 821.6,615.7 820.6,613.2 819.6,613.2 818.6,616.4 817.6,619.4 816.6,610.3 815.6,618.4 814.6,617.8 813.6,619.1 812.6,613 811.6,620.2 810.6,609.4 809.6,606.7 808.6,613.1 807.6,612.6 806.6,615.4 805.6,608 804.6,606.2 803.6,617.6 802.6,605 801.6,612.1 800.6,610.4 799.6,601.9 798.6,612.7 797.6,604.1 796.6,613.2 795.6,607.7 794.6,607.3 793.6,608 792.6,592.6 791.6,611.8 790.6,609.5 789.6,612.5 788.6,604.1 787.6,609.4 786.6,600.5 785.6,616.2 784.6,614.8 783.6,603.1 782.6,611.1 781.6,623.2 780.6,606 779.6,616 778.6,608 777.6,615.2 776.6,616.1 775.6,609.8 774.6,607 773.6,606.2 772.6,613.6 771.6,603.1 770.6,604.5 769.6,599.5 768.6,605.2 767.6,609.4 766.6,598.6 765.6,601.5 764.6,615.3 763.6,610.6 762.6,612.5 761.6,609.5 760.6,602.8 759.7,613.7 758.7,616.8 757.7,625.5 756.7,621.2 755.7,624.3 754.7,611 753.7,617.8 752.7,617.2 751.7,616.3 750.7,624.3 749.7,615 748.7,615.5 747.7,620.1 746.7,623.7 745.7,607.4 744.7,618.3 743.7,609.5 742.7,621.8 741.7,617.7 740.7,604.6 739.7,608.8 738.7,608.8 737.7,596.4 736.7,613.5 735.7,610.1 734.7,606.3 733.7,604.9 732.7,609 731.7,606.5 730.7,625.1 729.7,618.4 728.7,617.7 727.7,620.9 726.7,615.4 725.7,608.8 724.7,610.4 723.7,614.9 722.7,609.2 721.7,609.2 720.7,605.1 719.7,615.9 718.7,622.6 717.7,610.5 716.7,606.9 715.7,611.9 714.7,599.8 713.7,609.7 712.7,613.2 711.7,611.4 710.7,607.6 709.7,606.8 708.7,616 707.7,616.5 706.7,616.2 705.7,618.7 704.7,602.9 703.7,610.2 702.7,615.5 701.7,612.5 700.7,613.3 699.7,623.2 698.7,618.8 697.7,625.4 696.7,618.4 695.7,608.9 694.7,615.3 693.7,614.9 692.7,628.4 691.7,622.1 690.7,612.9 689.7,629.5 688.7,612.4 687.7,621.6 686.7,629.5 685.7,618.7 684.7,625.5 683.7,612.7 682.7,623.2 681.7,621.4 680.7,625.2 679.7,627.1 678.7,617.9 677.7,615.8 676.7,622.4 675.7,619.3 674.7,631.3 673.7,633.6 672.7,634.2 671.7,643.5 670.7,649.9 669.7,650.3 668.7,656.4 667.7,658.8 666.7,645 665.7,662.3 664.7,655.5 663.7,651.6 662.7,655.7 661.7,650.5 660.7,648.8 659.7,648.6 658.7,651.9 657.7,655.1 656.7,652 655.7,650.2 654.7,652.9 653.7,653.9 652.7,651 651.7,655.5 650.7,670.7 649.7,646.8 648.7,646.3 647.7,648.4 646.7,652.7 645.7,656.8 644.7,650.4 643.7,658.5 642.7,651.9 641.7,656.1 640.7,655.8 639.7,656.1 638.7,657.4 637.7,653.6 636.7,654.4 635.7,658.9 634.7,659.3 633.7,655.2 632.7,662.1 631.7,666.3 630.7,654.4 629.7,656.3 628.7,662.9 627.7,656.7 626.7,661.3 625.7,671.6 624.7,657.1 623.7,660.8 622.7,661 621.7,664.1 620.7,666.2 619.7,667.4 618.7,663.8 617.7,658.1 616.7,671.5 615.7,668.6 614.7,665.2 613.7,670.5 612.7,669.9 611.7,667.8 610.7,670.6 609.7,677.1 608.7,667.9 607.7,670.8 606.7,667.9 605.7,667.4 604.7,674.5 603.7,669.4 602.7,669.9 601.7,666.3 600.7,666.8 599.7,664.3 598.7,657.2 597.7,667.4 596.7,663 595.7,671.8 594.7,662.5 593.7,661.2 592.7,661.4 591.7,660.1 590.7,660.1 589.7,662.8 588.7,659.2 587.7,667.2 586.7,664.8 585.7,656 584.7,657.7 583.7,662.6 582.7,653 581.7,663.2 580.7,663 579.7,668 578.7,665.2 577.7,667.5 576.7,671.8 575.7,674.4 574.7,684.9 573.7,674.3 572.7,675.8 571.7,672.1 570.7,674.9 569.7,673.8 568.7,677.4 567.7,679.2 566.7,680.4 565.7,677.7 564.7,682.5 563.7,677.9 562.7,671.1 561.7,677.7 560.7,666.2 559.7,667.9 558.7,670.3 557.7,674.1 556.7,668.8 555.7,665.3 554.7,666.4 553.7,660.6 552.7,661.9 551.7,665.7 550.7,664.8 549.7,674 548.7,667.3 547.7,668.1 546.7,667.6 545.7,668.5 544.7,667.6 543.7,668.4 542.7,670.2 541.7,670 540.7,675.3 539.7,680.1 538.7,668.2 537.7,670.3 536.7,671.5 535.7,669.5 534.7,677.5 533.7,674.9 532.7,677 531.7,670.4 530.7,673.6 529.7,673.7 528.7,672.6 527.7,670.2 526.7,671.3 525.7,678.3 524.7,675.4 523.7,677.6 522.7,676.9 521.8,678.5 520.8,679.5 519.8,676 518.8,678.1 517.8,683.4 516.8,676.1 515.8,669.6 514.8,680.6 513.8,676.8 512.8,674.5 511.8,671.6 510.8,672.7 509.8,676.9 508.8,673.4 507.8,675.9 506.8,677.9 505.8,677.8 504.8,678.4 503.8,676.5 502.8,679.8 501.8,679.6 500.8,681.4 499.8,684.9 498.8,677.5 497.8,683.3 496.8,681.8 495.8,677.7 494.8,680.7 493.8,679.1 492.8,682.3 491.8,685.1 490.8,680.8 489.8,679.3 488.8,679.9 487.8,678.8 486.8,680.7 485.8,685.2 484.8,680.5 483.8,687.9 482.8,676.3 481.8,677.8 480.8,687.7 479.8,676.2 478.8,684.6 477.8,686.8 476.8,678.3 475.8,668.9 474.8,674 473.8,680 472.8,680.5 471.8,679.2 470.8,680.9 469.8,684.6 468.8,678.2 467.8,676 466.8,677 465.8,678.8 464.8,674.5 463.8,670.2 462.8,670.9 461.8,675.9 460.8,672.4 459.8,675.5 458.8,675.3 457.8,679.7 456.8,670.6 455.8,666.9 454.8,674.5 453.8,671.8 452.8,673.2 451.8,685.2 450.8,671.2 449.8,668.9 448.8,666.5 447.8,669.3 446.8,667.4 445.8,670 444.8,667 443.8,672.9 442.8,666.3 441.8,668.9 440.8,665.9 439.8,668.2 438.8,669.6 437.8,672.9 436.8,665.1 435.8,664 434.8,665.1 433.8,667.4 432.8,670.9 431.8,666 430.8,671 429.8,666.1 428.8,670.5 427.8,674.2 426.8,671.9 425.8,669.2 424.8,672.7 423.8,672.5 422.8,677.7 421.8,673.9 420.8,677.9 419.8,672.6 418.8,674.8 417.8,676.7 416.8,671 415.8,671.9 414.8,679.7 413.8,677.7 412.8,667.8 411.8,677.1 410.8,676.7 409.8,679.5 408.8,670.2 407.8,674.6 406.8,674.5 405.8,677.4 404.8,673.6 403.8,665.5 402.8,670.1 401.8,668 400.8,675.5 399.8,674.7 398.8,676.2 397.8,676.3 396.8,667.1 395.8,675.7 394.8,670.7 393.8,672.1 392.8,667.4 391.8,673 390.8,671.5 389.8,674.2 388.8,673.3 387.8,668.3 386.8,671 385.8,664.8 384.8,673.9 383.8,669.4 382.8,663.1 381.8,672.7 380.8,672 379.8,672 378.8,670.3 377.8,668.8 376.8,668.6 375.8,670.4 374.8,675.4 373.8,669.8 372.8,663.4 371.8,662 370.8,670.5 369.8,678.5 368.8,673.8 367.8,672.3 366.8,670.2 365.8,668.5 364.8,669.9 363.8,671.3 362.8,665 361.8,668.5 360.8,679.4 359.8,672.2 358.8,672.3 357.8,665.7 356.8,668.8 355.8,676.1 354.8,682.8 353.8,684.7 352.8,679.9 351.8,670.8 350.8,675.6 349.8,674.7 348.8,679.8 347.8,680.7 346.8,680 345.8,678.1 344.8,672.5 343.8,680.6 342.8,675.4 341.8,681.4 340.8,689 339.8,682.9 338.8,684.1 337.8,681.1 336.8,682.4 335.8,676.5 334.8,678.6 333.8,682.2 332.8,679.3 331.8,684.8 330.8,682.2 329.8,687 328.8,680.6 327.8,685.6 326.8,688.9 325.8,679.7 324.8,688.9 323.8,691.2 322.8,688 321.8,685.5 320.8,685.3 319.8,687.4 318.8,683.1 317.8,685 316.8,689.2 315.8,697.5 314.8,690 313.8,691.5 312.8,693.8 311.8,685.5 310.8,686.3 309.8,689.1 308.8,685.6 307.8,691.6 306.8,692.1 305.8,694.8 304.8,687.3 303.8,691.2 302.8,695.7 301.8,695.4 300.8,698.5 299.8,686.1 298.8,699.3 297.8,700.6 296.8,694.1 295.8,690.4 294.8,694.3 293.8,688.2 292.8,689.9 291.8,685.8 290.8,692.3 289.8,691.8 288.8,694.4 287.8,695.5 286.8,690.1 285.8,691.2 284.8,688.8 283.8,687.1 282.9,693.7 281.9,687.6 280.9,697.2 279.9,689.3 278.9,691.1 277.9,692.6 276.9,693.5 275.9,692.3 274.9,695.9 273.9,692.4 272.9,700.8 271.9,705.6 270.9,692.5 269.9,694.2 268.9,690.8 267.9,698.9 266.9,692.6 265.9,696.1 264.9,690.6 263.9,693.4 262.9,704.1 261.9,688.8 260.9,687.3 259.9,694.2 258.9,684.6 257.9,686 256.9,693.1 255.9,694 254.9,693.9 253.9,697.1 252.9,687.8 251.9,694.7 250.9,696.6 249.9,694.4 248.9,699.2 247.9,697.8 246.9,698.1 245.9,688 244.9,687.5 243.9,694.1 242.9,690.1 241.9,691.5 240.9,692.2 239.9,693.1 238.9,693.8 237.9,691.5 236.9,693.4 235.9,695.1 234.9,697.4 233.9,706 232.9,692 231.9,698.5 230.9,699.3 229.9,694.1 228.9,703.1 227.9,691.4 226.9,696.8 225.9,697.3 224.9,692.1 223.9,696.6 222.9,699.8 221.9,694.7 220.9,700.5 219.9,700.4 218.9,696.6 217.9,701.6 216.9,697.2 215.9,693.2 214.9,695.5 213.9,703.8 212.9,696.3 211.9,700.6 210.9,702.8 209.9,701.2 208.9,704.6 207.9,700.3 206.9,707.3 205.9,707.5 204.9,697.9 203.9,709.7 202.9,708.3 201.9,707.1 200.9,701 199.9,698.9 198.9,697.9 197.9,702.6 196.9,699.9 195.9,707.9 194.9,699 193.9,706.2 192.9,698.9 191.9,706 190.9,705.1 189.9,708.1 188.9,706.7 187.9,729.6 186.9,716.9 185.9,715.3 184.9,704.3 183.9,706.1 182.9,715.3 181.9,711.3 180.9,704.5 179.9,712.3 178.9,707 177.9,706.6 176.9,711.6 175.9,708.5 174.9,715.6 173.9,702.4 172.9,703.6 171.9,707.4 170.9,712.1 169.9,703.6 168.9,704 167.9,705.2 166.9,711.1 165.9,716.9 164.9,724.6" fill="#0a12b8" stroke="#030340" stroke-width="1.0" stroke-linejoin="round"/>
<text transform="translate(131.7 753.3) scale(1.0000 1)" font-size="21.51">0</text>
<text transform="translate(131.9 719.8) scale(1.0000 1)" font-size="21.51">1</text>
<text transform="translate(131.9 686.3) scale(1.0000 1)" font-size="21.51">2</text>
<text transform="translate(131.8 652.8) scale(1.0000 1)" font-size="21.51">3</text>
<text transform="translate(131.5 619.3) scale(1.0000 1)" font-size="21.51">4</text>
<text transform="translate(131.7 585.8) scale(1.0000 1)" font-size="21.51">5</text>
<text transform="translate(131.8 552.3) scale(1.0000 1)" font-size="21.51">6</text>
<text transform="translate(1011.4 726.9) scale(0.9640 1)" font-size="29.10">CID_8125</text>
<path d="M255.8 824.1V996.7M351.6 824.1V996.7M447.4 824.1V996.7M543.2 824.1V996.7M639 824.1V996.7M734.8 824.1V996.7M830.6 824.1V996.7M926.4 824.1V996.7M1022.2 824.1V996.7M160 962.2H1118M160 927.7H1118M160 893.1H1118M160 858.6H1118M160 824.1H1118V996.7" stroke="#8a828e" stroke-width="1.1" fill="none"/>
<path d="M160 824.1V996.7H1118" stroke="#4a4050" stroke-width="1.6" fill="none"/>
<polygon points="160.5,957.9 161.5,961.3 162.5,954.2 163.5,958.9 164.5,951.7 165.5,956.3 166.5,955.3 167.5,955.8 168.5,961.3 169.5,951.6 170.5,953.7 171.5,951.7 172.5,952.8 173.5,948.1 174.5,953.1 175.5,946.3 176.5,951.3 177.5,955.3 178.5,951.3 179.5,950.5 180.5,952.6 181.5,958.6 182.5,947.9 183.5,946 184.5,949.5 185.5,950.1 186.5,952.3 187.5,952.1 188.5,950.1 189.5,952.1 190.5,949.7 191.5,940.7 192.5,939.8 193.5,939.6 194.5,939.1 195.5,935.2 196.5,940.2 197.5,941.7 198.5,934.4 199.5,936 200.5,941.6 201.5,937.8 202.5,931.4 203.5,940.4 204.5,942.2 205.5,937.7 206.5,936.9 207.5,934.9 208.5,932.6 209.5,938.9 210.5,930.3 211.5,937.1 212.5,933.5 213.5,935.3 214.5,934.7 215.5,928.1 216.5,933.7 217.5,936.8 218.5,937.8 219.5,936.2 220.5,937.4 221.5,934.1 222.5,935.3 223.5,930.2 224.5,935.4 225.5,935.4 226.5,936 227.5,936.8 228.5,932.5 229.5,934.7 230.5,933.5 231.5,939.4 232.5,938.8 233.5,941.8 234.5,949.6 235.5,942 236.5,945.6 237.5,942.6 238.5,934 239.5,935.6 240.5,930.9 241.5,938.3 242.5,930.1 243.5,935.1 244.5,937.9 245.5,935.8 246.5,937 247.5,932.2 248.5,925.5 249.5,931.5 250.5,925.8 251.5,921.5 252.5,923.4 253.5,925.9 254.5,929.5 255.5,913.3 256.5,924.9 257.5,925.4 258.5,926.3 259.5,922.1 260.5,925.9 261.5,932.2 262.5,930.6 263.5,927.3 264.5,929.4 265.5,933.4 266.5,930.2 267.5,927.9 268.5,931.4 269.5,935 270.5,927.6 271.5,927.7 272.5,926.6 273.5,937.2 274.5,928.6 275.5,930.8 276.5,936.2 277.5,934.2 278.5,935.7 279.5,928.1 280.5,929.9 281.5,927.8 282.5,935.2 283.5,933.3 284.5,928.9 285.5,930.9 286.5,926.7 287.5,923.5 288.5,931.5 289.5,932.4 290.5,925.2 291.5,929.9 292.5,918 293.5,929.1 294.5,926.9 295.5,919.6 296.5,921.2 297.5,918.6 298.5,920.1 299.5,914.5 300.5,906 301.5,903.6 302.5,895.1 303.5,899.2 304.5,898.3 305.5,902.1 306.5,895.1 307.5,895.4 308.5,894.9 309.5,896.8 310.5,896.1 311.5,899.1 312.5,897.3 313.5,897.8 314.5,896.3 315.5,898.3 316.5,892.6 317.5,896.3 318.5,894.8 319.5,899.3 320.5,892.5 321.5,891.8 322.5,900.8 323.5,898.6 324.5,905 325.5,906.7 326.5,901.6 327.5,907.9 328.5,907.2 329.5,905.9 330.5,907.6 331.5,908.6 332.5,906.1 333.5,906.8 334.5,906.5 335.5,907.6 336.5,907.5 337.5,907.6 338.5,905.6 339.5,909.7 340.5,906.8 341.5,912 342.5,912.9 343.5,904.2 344.5,905.5 345.5,902.2 346.5,908.6 347.5,912.5 348.5,906.9 349.5,910.7 350.5,914.1 351.5,913.4 352.5,912.7 353.5,911.1 354.5,916.9 355.5,915.1 356.5,903.4 357.5,912.9 358.5,911.8 359.5,910.1 360.5,906.9 361.5,905.4 362.5,911.9 363.5,909 364.5,907.9 365.5,911 366.5,909.1 367.5,909.7 368.5,910.8 369.5,914.9 370.5,906.4 371.5,903.9 372.5,908.5 373.5,913.8 374.5,908.7 375.5,911.9 376.5,913.1 377.5,910.1 378.5,904.1 379.5,911.2 380.5,909.2 381.5,911.7 382.5,915.8 383.5,913.1 384.5,908.5 385.5,907.6 386.5,911.4 387.5,907.9 388.5,907.3 389.5,906.5 390.5,908.7 391.5,900.4 392.5,909.8 393.5,903.1 394.5,904.2 395.5,906.6 396.5,908.5 397.5,904.5 398.5,904.4 399.5,895.9 400.5,899.3 401.5,899.5 402.5,900.9 403.5,899.7 404.5,902.5 405.5,898.4 406.5,898.9 407.5,901 408.5,902.8 409.5,902.5 410.5,898.5 411.5,896.1 412.5,894.9 413.5,896.2 414.5,895.6 415.5,899.6 416.5,897.4 417.5,898.5 418.5,894.6 419.5,896.5 420.5,892.8 421.5,892.2 422.5,888.4 423.5,893.8 424.5,890.4 425.5,895.9 426.5,889.7 427.5,889.9 428.5,890.9 429.5,890.4 430.5,891 431.5,891.2 432.5,891.6 433.5,888.3 434.5,887.8 435.5,883.5 436.5,892.7 437.5,887.8 438.5,886.9 439.5,888.7 440.5,889.1 441.5,888.7 442.5,888.7 443.5,887.3 444.5,886.4 445.5,890.1 446.5,883.1 447.5,890.6 448.5,887.2 449.5,885.2 450.5,889.2 451.5,885.2 452.5,888.2 453.5,894.2 454.5,893.9 455.5,890.4 456.5,888.8 457.5,890.5 458.5,890.1 459.5,888.6 460.5,889.5 461.5,890 462.5,888.6 463.5,887.3 464.5,888.1 465.5,888.5 466.5,890.7 467.5,890.5 468.5,890.2 469.5,891.7 470.5,889.5 471.5,888.9 472.5,895.3 473.5,891.3 474.5,890.6 475.5,885.7 476.5,893.1 477.5,887.1 478.5,893.5 479.5,889 480.5,893 481.5,891.2 482.5,887.6 483.5,885.2 484.5,894.5 485.5,888 486.5,886 487.5,889.2 488.5,888.1 489.5,893.4 490.5,893.5 491.5,893.2 492.5,891.7 493.5,886.9 494.5,889 495.5,892.4 496.5,891.4 497.5,893.1 498.5,889.3 499.5,890 500.5,892.8 501.5,892.2 502.5,891.5 503.5,890.3 504.5,892 505.5,891.3 506.5,891.9 507.5,889.7 508.5,889.1 509.5,890.3 510.5,882.6 511.5,888.2 512.5,890 513.5,893.2 514.5,888.5 515.5,885.1 516.5,888.7 517.5,892 518.5,887.1 519.5,887.6 520.5,887.9 521.5,890.2 522.5,882.5 523.5,888.6 524.5,891.1 525.5,891.1 526.5,884.9 527.5,889.8 528.5,888.9 529.5,893.8 530.5,891.4 531.5,885.9 532.5,885.7 533.5,883 534.5,881 535.5,887.4 536.5,882.5 537.5,884.2 538.5,882.6 539.5,878.9 540.5,872.4 541.5,882.2 542.5,878.8 543.5,875.8 544.5,880.4 545.5,881.1 546.5,889.4 547.5,884.8 548.5,882.5 549.5,883.7 550.5,884.6 551.5,885.9 552.5,886.8 553.5,885.8 554.5,888 555.5,881.7 556.5,883.6 557.5,879.8 558.5,881.9 559.5,882 560.5,877.7 561.5,879 562.5,880.8 563.5,874.4 564.5,871.4 565.5,874.2 566.5,878.9 567.5,878.8 568.5,878.4 569.5,873 570.5,872.7 571.5,873.9 572.5,878.6 573.5,876.6 574.5,871.9 575.5,872.9 576.5,869.1 577.5,873.6 578.5,869.6 579.5,872 580.5,871.6 581.5,872.8 582.5,873.7 583.5,868.8 584.5,867.3 585.5,873.6 586.5,867.4 587.5,864.3 588.5,872.9 589.5,870.4 590.5,874.1 591.5,870.5 592.5,871.6 593.5,874.7 594.5,871.5 595.5,871.9 596.5,872.4 597.5,874.7 598.5,874.2 599.5,874.5 600.5,874.9 601.5,877 602.5,872.8 603.5,877.4 604.5,879.6 605.5,870.2 606.5,870.9 607.5,876.5 608.5,881 609.5,872 610.5,872.9 611.5,872.3 612.5,873.3 613.5,873.5 614.5,877.5 615.5,876.7 616.5,877.8 617.5,869.4 618.5,869.1 619.5,866.6 620.5,870.7 621.5,871.6 622.5,871.7 623.5,868.9 624.5,869.7 625.5,868.8 626.5,864.1 627.5,866.2 628.5,869.4 629.5,868.7 630.5,865.9 631.5,865.1 632.5,864.6 633.5,861.8 634.5,865.9 635.5,869.4 636.5,867.7 637.5,865 638.5,867.6 639.5,865.2 640.5,870 641.5,866.3 642.5,863.3 643.5,867.5 644.5,867.5 645.5,865 646.5,863.2 647.5,867 648.5,871.2 649.5,861.9 650.5,863.8 651.5,867.5 652.5,866.1 653.5,862.5 654.5,859.5 655.5,870.5 656.5,863.8 657.5,863.6 658.5,865.3 659.5,861.9 660.5,866.5 661.5,866.1 662.5,857.6 663.5,864.7 664.5,864.4 665.5,868.8 666.5,867.4 667.5,868.3 668.5,867.2 669.5,870.2 670.5,867.1 671.5,865.4 672.5,867 673.5,866.1 674.5,867.8 675.5,868 676.5,869.4 677.5,865.2 678.5,863.5 679.5,867.8 680.5,865 681.5,864.8 682.5,863.7 683.5,863.5 684.5,863.2 685.5,863.2 686.5,863.1 687.5,858.7 688.5,859.9 689.5,865.3 690.5,862.2 691.5,861.7 692.5,861.3 693.5,862.8 694.5,864 695.5,859.1 696.5,856.3 697.5,861.4 698.5,863 699.5,863.4 700.5,858.1 701.5,850.9 702.5,862 703.5,862.4 704.5,864.6 705.5,860 706.5,859.7 707.5,859.1 708.5,860.9 709.5,863.9 710.5,857.8 711.5,860.6 712.5,858.5 713.5,857.8 714.5,854.2 715.5,860.4 716.5,863.1 717.5,862.3 718.5,865.8 719.5,860.9 720.5,857 721.5,858.6 722.5,863 723.5,858.1 724.5,864 725.5,865 726.5,859.5 727.5,858 728.5,862.2 729.5,861.5 730.5,861.5 731.5,863.5 732.5,860.1 733.5,859.4 734.5,864.3 735.5,864.1 736.5,860.6 737.5,862.9 738.5,864.3 739.5,867.3 740.5,868.7 741.5,862.5 742.5,862.1 743.5,860.7 744.5,860.9 745.5,862.6 746.5,859.6 747.5,860.1 748.5,857.9 749.5,859.1 750.5,857.7 751.5,860.7 752.5,860.4 753.5,860.1 754.5,860 755.5,855.3 756.5,859.3 757.5,854.9 758.5,856.3 759.5,858.9 760.5,862.4 761.5,858.8 762.5,859.1 763.5,851.9 764.5,860.2 765.5,861.5 766.5,856 767.5,859.3 768.5,859.6 769.5,854.6 770.5,850.2 771.5,856.6 772.5,855 773.5,852.6 774.5,854.5 775.5,853.6 776.5,855.3 777.5,854.5 778.5,851.5 779.5,852.1 780.5,854.4 781.5,855.8 782.5,853.2 783.5,855.8 784.5,852.7 785.5,853.5 786.5,851.5 787.5,852.5 788.5,855.9 789.5,856 790.5,854.6 791.5,849.3 792.5,853.4 793.5,852.3 794.5,855.1 795.5,858.8 796.5,854 797.5,855.9 798.5,855.1 799.5,850 800.5,858.8 801.5,855.4 802.5,852.6 803.5,854.2 804.5,855.1 805.5,853.2 806.5,853.8 807.5,855.8 808.5,853.8 809.5,855.1 810.5,851.9 811.5,851.4 812.5,853.2 813.5,856.5 814.5,855.2 815.5,854.4 816.5,855.9 817.5,856.4 818.5,858.2 819.5,853.3 820.5,853.7 821.5,853.5 822.5,846.5 823.5,845.8 824.5,852.5 825.5,849.7 826.5,852.2 827.5,849.8 828.5,851.1 829.5,853.5 830.5,853.9 831.5,853.6 832.5,855.7 833.5,857.7 834.5,856.8 835.5,855.1 836.5,855.5 837.5,852 838.5,853.9 839.5,853.9 840.5,857.2 841.5,856.8 842.5,858.7 843.5,857.4 844.5,857.5 845.5,851.8 846.5,852.6 847.5,853 848.5,858.5 849.5,863.2 850.5,857.7 851.5,855.3 852.5,862 853.5,862.3 854.5,858.5 855.5,854.4 856.5,854.2 857.5,860.7 858.5,857.5 859.5,860.4 860.5,860.4 861.5,859.7 862.5,862.1 863.5,861.2 864.5,864.8 865.5,867.8 866.5,861.4 867.5,864.3 868.5,859.5 869.5,864.8 870.5,860 871.5,857.2 872.5,859.9 873.5,864.5 874.5,864.9 875.5,859.7 876.5,858.8 877.5,859.5 878.5,860.5 879.5,858 880.5,860.1 881.5,864 882.5,861.4 883.5,862.8 884.5,862.3 885.5,863.6 886.5,859.9 887.5,859.3 888.5,860 889.5,858.8 890.5,859.7 891.5,863.9 892.5,863.5 893.5,860.6 894.5,859.8 895.5,854.5 896.5,861.4 897.5,858.5 898.5,862 899.5,858.8 900.5,858.6 901.5,859.6 902.5,862.1 903.5,858.3 904.5,865 905.5,860.3 906.5,863 907.5,860.1 908.5,861.1 909.5,861.1 910.5,859.6 911.5,854.8 912.5,859.8 913.5,858.2 914.5,859.2 915.5,858.2 916.5,854.7 917.5,854.8 918.5,860.1 919.5,860.5 920.5,857.1 921.5,856.5 922.5,858 923.5,853.8 924.5,860.5 925.5,859.9 926.5,857.3 927.5,860 928.5,855.5 929.5,859.7 930.5,857.6 931.5,860.6 932.5,855.8 933.5,853.2 934.5,849.9 935.5,853.9 936.5,856.7 937.5,853.6 938.5,853.6 939.5,857.9 940.5,862.9 941.5,855.6 942.5,857.1 943.5,856.3 944.5,860.1 945.5,857.6 946.5,859.7 947.5,859.1 948.5,859 949.5,854.9 950.5,851.8 951.5,856 952.5,858.5 953.5,863.8 954.5,860.1 955.5,862.5 956.5,860.1 957.5,858.9 958.5,862.3 959.5,858.5 960.5,858.1 961.5,858.5 962.5,860.6 963.5,853.6 964.5,856 965.5,861.6 966.5,861.9 967.5,863.8 968.5,860.1 969.5,861.9 970.5,855.7 971.5,856.9 972.5,854.1 973.5,857.8 974.5,857.8 975.5,857.8 976.5,857.1 977.5,862.8 978.5,859.3 979.5,858.2 980.5,857.2 981.5,859.3 982.5,856.7 983.5,855 984.5,860 985.5,855.8 986.5,858.2 987.5,854.1 988.5,859.8 989.5,856.7 990.5,859 991.5,859.4 992.5,859.6 993.5,859.2 994.5,858.8 995.5,857.1 996.5,853.4 997.5,856.7 998.5,852.7 999.5,853.1 1000.5,857 1001.5,858.3 1002.5,857.5 1003.5,861.1 1004.5,855.2 1005.5,861.5 1006.5,856.2 1007.5,857.3 1008.5,858.6 1009.5,864.7 1010.5,860.6 1011.5,860.7 1012.5,860.9 1013.5,859.8 1014.5,857.3 1015.5,861.3 1016.5,860.7 1017.5,858.5 1018.5,864.4 1019.5,865 1020.5,854.6 1021.5,856.7 1022.5,858.6 1023.5,861.4 1024.5,858.7 1025.5,858.6 1026.5,856.5 1027.5,853.7 1028.5,854.4 1029.5,855 1030.5,853.9 1031.5,855.2 1032.5,855.2 1033.5,846.7 1034.5,853.1 1035.5,848.7 1036.5,852.4 1037.5,850.5 1038.5,849.9 1039.5,851.9 1040.5,855.5 1041.5,856.9 1042.5,857 1043.5,856.7 1044.5,859.2 1045.5,855.6 1046.5,852.9 1047.5,853.7 1048.5,854 1049.5,848 1050.5,852.1 1051.5,852.1 1052.5,852.3 1053.5,855.9 1054.5,855.3 1055.5,848.7 1056.5,851.5 1057.5,855.1 1058.5,854.3 1059.5,855.6 1060.5,857 1061.5,854.2 1062.5,853.4 1063.5,855.7 1064.5,858.6 1065.5,853.8 1066.5,857.9 1067.5,858.5 1068.5,856.7 1069.5,857.3 1070.5,860.4 1071.5,855.5 1072.5,857.8 1073.5,858.6 1074.5,859.8 1075.5,857.1 1076.5,859.1 1077.5,862.3 1078.5,859.7 1079.5,861 1080.5,858.9 1081.5,859.9 1082.5,860.1 1083.5,860.4 1084.5,857.6 1085.5,852.1 1086.5,857.1 1087.5,854.9 1088.5,857.4 1089.5,858.7 1090.5,854 1091.5,856.2 1092.5,858.5 1093.5,859.1 1094.5,858.2 1095.5,858.8 1096.5,860.8 1097.5,859 1098.5,852.6 1099.5,856.9 1100.5,853.8 1101.5,857.6 1102.5,855.7 1103.5,853.1 1104.5,858.1 1105.5,854.2 1106.5,859.5 1107.5,854.1 1108.5,855.9 1109.5,859.5 1110.5,856.8 1111.5,859 1112.5,858.8 1113.5,856 1114.5,857.1 1115.5,855.7 1116.5,855.9 1117.5,853.7 1117.5,863.8 1116.5,866.7 1115.5,863.4 1114.5,863.6 1113.5,866.6 1112.5,865 1111.5,863.9 1110.5,866 1109.5,864.9 1108.5,867.8 1107.5,864.1 1106.5,863.2 1105.5,860.4 1104.5,862.9 1103.5,866.3 1102.5,864.1 1101.5,868.3 1100.5,863.9 1099.5,864.7 1098.5,861.8 1097.5,866.9 1096.5,864.5 1095.5,862.6 1094.5,865.8 1093.5,869.7 1092.5,871.7 1091.5,866.3 1090.5,867.6 1089.5,867.5 1088.5,864.7 1087.5,863.8 1086.5,864.3 1085.5,866 1084.5,865.5 1083.5,867.7 1082.5,866.1 1081.5,868 1080.5,867.8 1079.5,868.3 1078.5,868.8 1077.5,865.5 1076.5,864.8 1075.5,866.5 1074.5,864.9 1073.5,867.6 1072.5,865.1 1071.5,866.7 1070.5,866 1069.5,864 1068.5,863.7 1067.5,862.4 1066.5,864.1 1065.5,867.5 1064.5,867.5 1063.5,867.3 1062.5,864.9 1061.5,864.1 1060.5,868.2 1059.5,863.1 1058.5,863.5 1057.5,862.5 1056.5,860.1 1055.5,860.4 1054.5,861.3 1053.5,863.1 1052.5,860 1051.5,863.4 1050.5,861.5 1049.5,864.2 1048.5,859.9 1047.5,862 1046.5,863.2 1045.5,867.4 1044.5,865.7 1043.5,865.6 1042.5,864.1 1041.5,863.5 1040.5,863.4 1039.5,862.3 1038.5,862 1037.5,858 1036.5,859 1035.5,859.9 1034.5,860.7 1033.5,860.4 1032.5,861.1 1031.5,863.1 1030.5,862.2 1029.5,868.5 1028.5,865.1 1027.5,864 1026.5,867.2 1025.5,870.3 1024.5,868.5 1023.5,868.2 1022.5,869.5 1021.5,866.5 1020.5,865.6 1019.5,872.1 1018.5,873.9 1017.5,866.4 1016.5,867.5 1015.5,869.2 1014.5,868.6 1013.5,866.6 1012.5,867.3 1011.5,868.9 1010.5,869.8 1009.5,873.6 1008.5,866.9 1007.5,869.5 1006.5,872.1 1005.5,869.4 1004.5,869.8 1003.5,866.9 1002.5,866.7 1001.5,865.3 1000.5,864.9 999.5,862.9 998.5,867.8 997.5,865.9 996.5,864.8 995.5,864 994.5,864.8 993.5,869.4 992.5,865.8 991.5,865.5 990.5,862.6 989.5,867.5 988.5,868 987.5,869.5 986.5,867.4 985.5,867.3 984.5,868.9 983.5,861.2 982.5,869 981.5,867.7 980.5,867.2 979.5,866.6 978.5,864.6 977.5,868.7 976.5,863.7 975.5,865.4 974.5,864.8 973.5,870 972.5,864.7 971.5,864.1 970.5,867.5 969.5,867.6 968.5,868.4 967.5,872.3 966.5,866.1 965.5,866.9 964.5,867.6 963.5,864.8 962.5,871.5 961.5,867.6 960.5,869.8 959.5,869 958.5,865.4 957.5,873 956.5,865.8 955.5,865.9 954.5,871 953.5,868.5 952.5,870.3 951.5,867.5 950.5,862.4 949.5,865 948.5,869.7 947.5,866.4 946.5,862.6 945.5,866.7 944.5,868.8 943.5,869.8 942.5,865 941.5,863.4 940.5,867.9 939.5,867.1 938.5,859.5 937.5,864.7 936.5,866 935.5,866.2 934.5,858.3 933.5,860.8 932.5,867.1 931.5,867.3 930.5,863.8 929.5,864.8 928.5,865.4 927.5,868 926.5,866.7 925.5,866.4 924.5,867.2 923.5,861.5 922.5,866.3 921.5,865.1 920.5,871.4 919.5,867 918.5,864.1 917.5,869.7 916.5,867.1 915.5,868.5 914.5,866.7 913.5,866.2 912.5,867.6 911.5,864.9 910.5,866.4 909.5,867.8 908.5,868.2 907.5,870.5 906.5,870.2 905.5,871.3 904.5,877.7 903.5,868.8 902.5,872.4 901.5,866.7 900.5,870.8 899.5,869.3 898.5,869.6 897.5,867.4 896.5,872.3 895.5,875.8 894.5,866.6 893.5,868.7 892.5,869.3 891.5,873.9 890.5,866.2 889.5,869.5 888.5,868.3 887.5,872.7 886.5,871.3 885.5,870.1 884.5,876.7 883.5,871.1 882.5,869.1 881.5,871.2 880.5,865.2 879.5,865.8 878.5,868.3 877.5,867.7 876.5,867.7 875.5,870.3 874.5,870.7 873.5,873 872.5,869.7 871.5,867.2 870.5,868.2 869.5,876.3 868.5,869.7 867.5,871.4 866.5,871.1 865.5,877.3 864.5,879.8 863.5,871 862.5,869.9 861.5,870.4 860.5,867.9 859.5,865.4 858.5,874.3 857.5,868.4 856.5,873 855.5,860.9 854.5,874.2 853.5,867.9 852.5,870 851.5,864.8 850.5,868.6 849.5,872.4 848.5,865.3 847.5,867.6 846.5,865.5 845.5,866.7 844.5,862.7 843.5,868.3 842.5,871 841.5,862.8 840.5,863 839.5,866.2 838.5,861.3 837.5,859.2 836.5,860.2 835.5,863.3 834.5,863.1 833.5,864.9 832.5,862 831.5,864.4 830.5,862.8 829.5,863.6 828.5,863 827.5,862.6 826.5,865.1 825.5,859.1 824.5,860.2 823.5,856.1 822.5,857 821.5,860.3 820.5,860.4 819.5,862.8 818.5,865.2 817.5,867.4 816.5,863.3 815.5,865.4 814.5,863.5 813.5,864.2 812.5,862.2 811.5,861.6 810.5,862.5 809.5,865.5 808.5,861.4 807.5,863.7 806.5,867.8 805.5,863.7 804.5,862.5 803.5,861.2 802.5,861.3 801.5,860.3 800.5,863 799.5,864.1 798.5,865.2 797.5,859.6 796.5,865.4 795.5,865.2 794.5,861.7 793.5,859.1 792.5,863.6 791.5,861.3 790.5,861.2 789.5,865.1 788.5,866.5 787.5,860.5 786.5,861 785.5,862.9 784.5,863.2 783.5,864.1 782.5,862.1 781.5,861.2 780.5,865.3 779.5,861.4 778.5,864.8 777.5,864.7 776.5,863.8 775.5,863.1 774.5,865.8 773.5,865.5 772.5,865 771.5,870.3 770.5,861.8 769.5,864 768.5,881.3 767.5,865.6 766.5,870.7 765.5,868.7 764.5,868.4 763.5,863.9 762.5,866.3 761.5,868.3 760.5,869.5 759.5,864.3 758.5,868.1 757.5,861.8 756.5,866.7 755.5,864.4 754.5,866.1 753.5,864.4 752.5,868.3 751.5,875.3 750.5,867.8 749.5,866.1 748.5,865.6 747.5,867 746.5,865 745.5,869.9 744.5,866.9 743.5,873.3 742.5,872.9 741.5,871.5 740.5,875.6 739.5,873.8 738.5,870.4 737.5,871.4 736.5,868.7 735.5,874 734.5,876.3 733.5,870.2 732.5,870.9 731.5,870.7 730.5,870.3 729.5,870.6 728.5,870.1 727.5,864.8 726.5,866.7 725.5,871.9 724.5,870.7 723.5,869.6 722.5,872 721.5,871.9 720.5,866.1 719.5,876 718.5,872.6 717.5,866.9 716.5,870.3 715.5,869.7 714.5,868.7 713.5,865 712.5,870.7 711.5,863.6 710.5,866 709.5,870.5 708.5,870.1 707.5,875.4 706.5,870.5 705.5,867.4 704.5,873 703.5,870.7 702.5,867.3 701.5,871.1 700.5,868.3 699.5,874.3 698.5,871.2 697.5,874.3 696.5,868.9 695.5,867.3 694.5,871 693.5,867 692.5,870.7 691.5,873.8 690.5,871.3 689.5,875.2 688.5,873.3 687.5,869.6 686.5,871.9 685.5,871.2 684.5,871 683.5,870.6 682.5,876.2 681.5,877.4 680.5,877.4 679.5,873.7 678.5,879.2 677.5,876.1 676.5,877.7 675.5,878.7 674.5,878.1 673.5,881.7 672.5,883.4 671.5,874.3 670.5,872.3 669.5,882.5 668.5,877.5 667.5,874 666.5,872.5 665.5,874.8 664.5,877.1 663.5,874.7 662.5,873.3 661.5,873.3 660.5,873.2 659.5,877.8 658.5,875.6 657.5,869.9 656.5,873.8 655.5,875.4 654.5,875.3 653.5,872.4 652.5,874 651.5,877.1 650.5,871.7 649.5,876.5 648.5,874.5 647.5,876 646.5,872.3 645.5,871.2 644.5,878.8 643.5,873.3 642.5,874.6 641.5,880.9 640.5,876.5 639.5,874.1 638.5,871.7 637.5,873.4 636.5,874.6 635.5,874.8 634.5,872.1 633.5,869.7 632.5,877.1 631.5,875.7 630.5,873.9 629.5,879.4 628.5,875.5 627.5,874.7 626.5,873.3 625.5,878 624.5,880.5 623.5,882.8 622.5,883.1 621.5,883 620.5,880.5 619.5,875.5 618.5,882.5 617.5,878.7 616.5,883.8 615.5,882.4 614.5,881.2 613.5,880.7 612.5,882.3 611.5,887.7 610.5,882.5 609.5,889.8 608.5,885.3 607.5,883.1 606.5,881.9 605.5,886.3 604.5,883 603.5,885.9 602.5,884.1 601.5,886.2 600.5,886.4 599.5,879 598.5,882.3 597.5,885.3 596.5,889.9 595.5,882.9 594.5,877.3 593.5,880.8 592.5,876.2 591.5,885.1 590.5,879 589.5,885.2 588.5,882.5 587.5,873.4 586.5,876.1 585.5,884.8 584.5,882.7 583.5,880.3 582.5,887.3 581.5,880.5 580.5,879.2 579.5,886.3 578.5,881 577.5,882.2 576.5,882.6 575.5,883.5 574.5,880.8 573.5,888.1 572.5,885.9 571.5,881.6 570.5,880.5 569.5,880.4 568.5,890.5 567.5,887.3 566.5,885.7 565.5,882.1 564.5,885 563.5,882.5 562.5,889.6 561.5,887.9 560.5,885.6 559.5,894 558.5,888.7 557.5,891 556.5,888.2 555.5,890.7 554.5,899.2 553.5,894.8 552.5,895.2 551.5,899 550.5,901.3 549.5,899.2 548.5,894.3 547.5,896 546.5,895.3 545.5,894.2 544.5,889.6 543.5,888 542.5,888.5 541.5,892.9 540.5,888.1 539.5,891.2 538.5,887.7 537.5,892.1 536.5,893 535.5,898 534.5,894.2 533.5,891.1 532.5,892.8 531.5,894.1 530.5,897.4 529.5,898.1 528.5,897 527.5,901.9 526.5,895.4 525.5,904.3 524.5,901.3 523.5,897.9 522.5,895.6 521.5,900.9 520.5,898.4 519.5,896 518.5,897.4 517.5,896.1 516.5,899.8 515.5,895.2 514.5,896.1 513.5,900.5 512.5,896.1 511.5,893.9 510.5,894.1 509.5,900.7 508.5,895.4 507.5,898.8 506.5,900.7 505.5,896.7 504.5,898.8 503.5,901 502.5,898.8 501.5,898.6 500.5,901.1 499.5,897 498.5,895.8 497.5,896.5 496.5,903.6 495.5,897.7 494.5,900.9 493.5,901.5 492.5,906.5 491.5,904.8 490.5,901.8 489.5,903.4 488.5,897.8 487.5,909.5 486.5,895.7 485.5,902.7 484.5,902.6 483.5,901.2 482.5,894.2 481.5,900.5 480.5,904.1 479.5,901.2 478.5,900.4 477.5,897.5 476.5,898 475.5,897.1 474.5,902.8 473.5,898.7 472.5,900.5 471.5,898.6 470.5,898.8 469.5,898.7 468.5,896.3 467.5,902.6 466.5,898.4 465.5,898.7 464.5,902.5 463.5,899 462.5,901.4 461.5,899.4 460.5,901.5 459.5,894.3 458.5,896.5 457.5,895 456.5,897.6 455.5,898.7 454.5,899 453.5,903 452.5,897.9 451.5,899.9 450.5,902.1 449.5,900.6 448.5,897.7 447.5,899.6 446.5,895.3 445.5,896.7 444.5,897.8 443.5,895.4 442.5,896 441.5,899.8 440.5,898.6 439.5,895.6 438.5,896.4 437.5,897.7 436.5,899 435.5,892.6 434.5,898.6 433.5,897.5 432.5,897 431.5,900.3 430.5,898.3 429.5,899.2 428.5,901.2 427.5,898.4 426.5,899.4 425.5,903.8 424.5,901.8 423.5,899.7 422.5,902.1 421.5,899.7 420.5,901.2 419.5,902.3 418.5,908.9 417.5,903.9 416.5,905.6 415.5,905.6 414.5,902 413.5,901 412.5,903.6 411.5,906.9 410.5,909.3 409.5,908.8 408.5,912.6 407.5,914.2 406.5,910.6 405.5,912.6 404.5,916.7 403.5,908.9 402.5,911.7 401.5,910.4 400.5,909.1 399.5,909.7 398.5,915.6 397.5,909.5 396.5,913.3 395.5,912.8 394.5,912.9 393.5,917.4 392.5,919 391.5,915.2 390.5,919.6 389.5,916.3 388.5,916.2 387.5,921.7 386.5,917.8 385.5,921.7 384.5,916.2 383.5,920 382.5,920.5 381.5,925 380.5,916.4 379.5,921.2 378.5,919.6 377.5,923.6 376.5,918.1 375.5,920.6 374.5,918.3 373.5,920.6 372.5,920.6 371.5,927.7 370.5,921.3 369.5,922.1 368.5,923.5 367.5,915.3 366.5,917.9 365.5,922.2 364.5,917.5 363.5,919.8 362.5,921 361.5,918.8 360.5,921.3 359.5,918.2 358.5,925.5 357.5,924 356.5,924.2 355.5,921.1 354.5,921.5 353.5,917.5 352.5,920.1 351.5,926.8 350.5,922 349.5,925.2 348.5,921.4 347.5,919.3 346.5,916.7 345.5,919.9 344.5,921 343.5,918.7 342.5,921.7 341.5,917.8 340.5,920.1 339.5,919.7 338.5,920.4 337.5,918.7 336.5,915.1 335.5,918.7 334.5,913.3 333.5,920 332.5,915.8 331.5,918.7 330.5,913.9 329.5,913.1 328.5,916.6 327.5,916 326.5,910.4 325.5,914.9 324.5,917.4 323.5,910.3 322.5,907.1 321.5,915.7 320.5,909.7 319.5,904.4 318.5,905.6 317.5,909.1 316.5,912.4 315.5,906.6 314.5,908.9 313.5,907.9 312.5,909.1 311.5,912.4 310.5,910 309.5,908.1 308.5,908.1 307.5,908.1 306.5,911.9 305.5,907.8 304.5,905.7 303.5,918 302.5,911.3 301.5,915.7 300.5,918.5 299.5,922 298.5,932.2 297.5,933.8 296.5,932.7 295.5,927.4 294.5,946.3 293.5,937.9 292.5,936.7 291.5,936.2 290.5,940 289.5,942.8 288.5,941.1 287.5,935.4 286.5,939 285.5,942.8 284.5,935.9 283.5,942.6 282.5,942.7 281.5,946.2 280.5,942 279.5,947.9 278.5,955.1 277.5,943.5 276.5,948.7 275.5,948.1 274.5,944.7 273.5,945.2 272.5,938 271.5,944.6 270.5,943 269.5,940.4 268.5,945.8 267.5,947.6 266.5,942.1 265.5,941.7 264.5,950.3 263.5,940.3 262.5,936.5 261.5,938.6 260.5,938.2 259.5,934.8 258.5,942 257.5,937.3 256.5,929.8 255.5,931.2 254.5,939.4 253.5,936.2 252.5,936.6 251.5,940.6 250.5,935.2 249.5,937.9 248.5,941.3 247.5,944.5 246.5,949.1 245.5,942.6 244.5,944.8 243.5,946.1 242.5,947.8 241.5,945.6 240.5,945.7 239.5,947.9 238.5,946.8 237.5,949.9 236.5,964 235.5,956.9 234.5,963.2 233.5,954 232.5,951.9 231.5,951.5 230.5,955.2 229.5,949.3 228.5,945.6 227.5,948.1 226.5,943.8 225.5,944.8 224.5,946.8 223.5,940.9 222.5,945 221.5,946.3 220.5,944.5 219.5,948 218.5,945.8 217.5,955 216.5,943.9 215.5,945.4 214.5,946.5 213.5,944.4 212.5,946.7 211.5,944.6 210.5,948.6 209.5,949 208.5,946.5 207.5,943.7 206.5,943.3 205.5,952.4 204.5,950.7 203.5,945.9 202.5,947.7 201.5,949.6 200.5,954.1 199.5,954.3 198.5,948.3 197.5,953.4 196.5,949 195.5,955 194.5,950.6 193.5,947.6 192.5,954.3 191.5,959.6 190.5,954.1 189.5,960.1 188.5,960 187.5,960.3 186.5,970 185.5,963.4 184.5,957.7 183.5,957.4 182.5,962.1 181.5,962 180.5,963.3 179.5,959.7 178.5,960.4 177.5,962.7 176.5,964.1 175.5,963.3 174.5,963.8 173.5,962.9 172.5,962.3 171.5,959.8 170.5,965.4 169.5,963.3 168.5,966.2 167.5,964.6 166.5,967.1 165.5,967.3 164.5,965.3 163.5,972.7 162.5,968.8 161.5,969.5 160.5,997.3" fill="#0a12b8" stroke="#030340" stroke-width="1.0" stroke-linejoin="round"/>
<text transform="translate(127.6 1003.5) scale(1.0000 1)" font-size="21.51">0</text>
<text transform="translate(127.8 969) scale(1.0000 1)" font-size="21.51">1</text>
<text transform="translate(127.8 934.5) scale(1.0000 1)" font-size="21.51">2</text>
<text transform="translate(127.7 899.9) scale(1.0000 1)" font-size="21.51">3</text>
<text transform="translate(127.4 865.4) scale(1.0000 1)" font-size="21.51">4</text>
<text transform="translate(127.6 830.9) scale(1.0000 1)" font-size="21.51">5</text>
<text transform="translate(998.6 998.9) scale(1.0002 1)" font-size="27.96">CID_985</text>
<path d="M259.7 1074.1V1253.5M355 1074.1V1253.5M450.4 1074.1V1253.5M545.8 1074.1V1253.5M641.2 1074.1V1253.5M736.5 1074.1V1253.5M831.9 1074.1V1253.5M927.3 1074.1V1253.5M1022.6 1074.1V1253.5M164.3 1217.6H1118M164.3 1181.7H1118M164.3 1145.9H1118M164.3 1110H1118M164.3 1074.1H1118V1253.5" stroke="#8a828e" stroke-width="1.1" fill="none"/>
<path d="M164.3 1074.1V1253.5H1118" stroke="#4a4050" stroke-width="1.6" fill="none"/>
<polygon points="164.8,1212.9 165.8,1205.1 166.8,1201.1 167.8,1207.4 168.8,1206.8 169.8,1208.5 170.8,1206.5 171.8,1198.1 172.8,1202.4 173.8,1199.6 174.8,1202 175.8,1197 176.8,1196.9 177.8,1184.7 178.8,1198.1 179.8,1199.8 180.8,1197 181.8,1196.4 182.8,1197.4 183.8,1200.5 184.8,1192.2 185.8,1197.7 186.8,1194.8 187.8,1199.4 188.8,1195.7 189.8,1188.8 190.8,1195.4 191.8,1191.5 192.8,1192.3 193.8,1190.3 194.8,1192.9 195.8,1199.6 196.8,1190.1 197.8,1190.4 198.8,1189.9 199.8,1187.9 200.8,1193.2 201.8,1190.3 202.8,1195.2 203.8,1197 204.8,1192 205.8,1184.1 206.8,1187.5 207.8,1191.3 208.8,1190.6 209.8,1191.4 210.8,1193.7 211.8,1189.8 212.8,1193.7 213.8,1192.2 214.8,1186.5 215.8,1188.9 216.8,1185.8 217.8,1191 218.8,1194.7 219.8,1188 220.8,1187.8 221.8,1184.9 222.8,1182.5 223.8,1190.3 224.8,1185.5 225.8,1180.2 226.8,1187.4 227.8,1184.9 228.8,1179.2 229.8,1185.8 230.8,1190.8 231.8,1191.1 232.8,1187.9 233.8,1190.1 234.8,1185.8 235.8,1184.3 236.8,1185.4 237.8,1183.5 238.8,1185.1 239.8,1180.9 240.8,1178.4 241.8,1180.8 242.8,1188.3 243.8,1185.7 244.8,1187.3 245.8,1184 246.8,1186.3 247.8,1186.4 248.8,1183.3 249.8,1174 250.8,1185.5 251.8,1182.9 252.8,1182.8 253.8,1178.8 254.8,1177.8 255.8,1183.2 256.8,1182.4 257.8,1184 258.8,1179.8 259.8,1182.5 260.8,1185.1 261.8,1181.9 262.8,1178.6 263.8,1185.8 264.8,1188.6 265.8,1185 266.8,1185 267.8,1185.3 268.8,1190.1 269.8,1187.9 270.8,1190.7 271.8,1189.7 272.8,1191.7 273.8,1185.6 274.8,1188.7 275.8,1189.1 276.8,1185.8 277.8,1188.3 278.8,1177.6 279.8,1187.8 280.8,1182.6 281.8,1182.1 282.8,1190.4 283.8,1185.9 284.8,1182.9 285.8,1180.5 286.8,1176.4 287.8,1186.5 288.8,1183.8 289.8,1189.7 290.8,1186.5 291.8,1187.9 292.8,1188.7 293.8,1185.6 294.8,1188.5 295.8,1187.7 296.8,1187.2 297.8,1185.9 298.8,1192.8 299.8,1195.4 300.8,1190.2 301.8,1187.2 302.8,1192.2 303.8,1189.2 304.8,1187.8 305.8,1184.9 306.8,1188.5 307.8,1184.3 308.8,1191.8 309.8,1185.9 310.8,1191.7 311.8,1197.2 312.8,1192.8 313.8,1185.1 314.8,1185.1 315.8,1189.3 316.8,1188.7 317.8,1181.9 318.8,1192.6 319.8,1184.6 320.8,1189.7 321.8,1188.6 322.8,1189.4 323.7,1190.1 324.7,1189.2 325.7,1183 326.7,1188.8 327.7,1190.7 328.7,1180.1 329.7,1185.9 330.7,1175.1 331.7,1190.5 332.7,1189.8 333.7,1181.9 334.7,1185.6 335.7,1182.9 336.7,1183.8 337.7,1183.8 338.7,1182.8 339.7,1178.9 340.7,1177.8 341.7,1181.3 342.7,1184.7 343.7,1183.3 344.7,1178.1 345.7,1177.4 346.7,1174.4 347.7,1180.4 348.7,1179.7 349.7,1181.3 350.7,1179.1 351.7,1179.7 352.7,1179.7 353.7,1182.7 354.7,1184.2 355.7,1179 356.7,1179.9 357.7,1179.5 358.7,1185.2 359.7,1182.3 360.7,1180.8 361.7,1182.3 362.7,1181.9 363.7,1180.4 364.7,1183 365.7,1187.3 366.7,1185.1 367.7,1178.2 368.7,1174.2 369.7,1184.3 370.7,1184.6 371.7,1182.7 372.7,1184.9 373.7,1182.6 374.7,1193.7 375.7,1186.4 376.7,1183.1 377.7,1178.9 378.7,1186.6 379.7,1184.7 380.7,1177.9 381.7,1182.9 382.7,1182 383.7,1172.7 384.7,1171.4 385.7,1173 386.7,1162.2 387.7,1162.5 388.7,1164.6 389.7,1157.6 390.7,1156 391.7,1161 392.7,1162.1 393.7,1161.5 394.7,1162.7 395.7,1158.8 396.7,1156.1 397.7,1162.3 398.7,1161.5 399.7,1156.2 400.7,1159.8 401.7,1158.1 402.7,1159.6 403.7,1161.7 404.7,1157.7 405.7,1156.3 406.7,1161.3 407.7,1157.7 408.7,1158.4 409.7,1157.4 410.7,1152.6 411.7,1156.2 412.7,1153.6 413.7,1152.3 414.7,1155.8 415.7,1153.3 416.7,1157.5 417.7,1151.4 418.7,1153.1 419.7,1155 420.7,1155.9 421.7,1152.9 422.7,1153.2 423.7,1149.8 424.7,1154.4 425.7,1152.8 426.7,1148.7 427.7,1152.6 428.7,1156.4 429.7,1153 430.7,1155.4 431.7,1152.1 432.7,1152.8 433.7,1149.1 434.7,1152.6 435.7,1151.6 436.7,1149 437.7,1149.8 438.7,1155.3 439.7,1151 440.7,1156.1 441.7,1153.9 442.7,1151.2 443.7,1151.6 444.7,1151.7 445.7,1150.5 446.7,1149.7 447.7,1150.1 448.7,1154.6 449.7,1153.5 450.7,1153.7 451.7,1153.7 452.7,1155.4 453.7,1147.5 454.7,1149.8 455.7,1145.5 456.7,1152.5 457.7,1147.4 458.7,1146.5 459.7,1145.3 460.7,1151.9 461.7,1149.4 462.7,1150.7 463.7,1148.1 464.7,1148.9 465.7,1143.7 466.7,1144.9 467.7,1145.9 468.7,1149.1 469.7,1147.6 470.7,1145.1 471.7,1143.3 472.7,1145.8 473.7,1141.2 474.7,1142 475.7,1146.1 476.7,1143.8 477.7,1143.4 478.7,1141.7 479.7,1149 480.7,1140.1 481.7,1142.5 482.7,1148.2 483.7,1143.5 484.7,1145.6 485.7,1145.6 486.7,1143.9 487.7,1144.7 488.7,1142.4 489.7,1145.4 490.7,1140.1 491.7,1145.3 492.7,1147 493.7,1145 494.7,1144.2 495.7,1141.8 496.7,1142 497.7,1140.1 498.7,1143.7 499.7,1147.3 500.7,1140.1 501.7,1142.8 502.7,1141 503.7,1143.2 504.7,1141.5 505.7,1147.3 506.7,1138.1 507.7,1141 508.7,1142.6 509.7,1147.6 510.7,1140.7 511.7,1141.8 512.7,1140.3 513.7,1137.7 514.7,1136.8 515.7,1139.5 516.7,1135.9 517.7,1140 518.7,1139.3 519.7,1142.2 520.7,1139.2 521.7,1142.4 522.7,1135.5 523.7,1137.3 524.7,1140.4 525.7,1143.6 526.7,1140.3 527.7,1139.5 528.7,1141.6 529.7,1141.3 530.7,1141.1 531.7,1139.1 532.7,1139.7 533.7,1140.8 534.7,1139 535.7,1143.8 536.7,1137.4 537.7,1137.6 538.7,1142 539.7,1136.6 540.7,1139.3 541.7,1138.5 542.7,1139.3 543.7,1135.6 544.7,1138.5 545.7,1137.6 546.7,1134.1 547.7,1137.5 548.7,1138.2 549.7,1132.3 550.7,1140.2 551.7,1137.6 552.7,1137.9 553.7,1138.1 554.7,1135.9 555.7,1135.1 556.7,1131.7 557.7,1133.1 558.7,1130.9 559.7,1127.2 560.7,1133.3 561.7,1140.9 562.7,1137.1 563.7,1137.2 564.7,1136.9 565.7,1135.5 566.7,1135.3 567.7,1138.9 568.7,1134.7 569.7,1135.6 570.7,1134.2 571.7,1137 572.7,1135.3 573.7,1137 574.7,1136.6 575.7,1139.8 576.7,1138.7 577.7,1137.2 578.7,1132.9 579.7,1141.8 580.7,1135.7 581.7,1135.8 582.7,1139.1 583.7,1132.6 584.7,1129.8 585.7,1132.2 586.7,1134.8 587.7,1138.2 588.7,1137.4 589.7,1136.9 590.7,1132.5 591.7,1134.4 592.7,1133.4 593.7,1137.2 594.7,1138.3 595.7,1136.2 596.7,1131.2 597.7,1133.2 598.7,1135.8 599.7,1130.5 600.7,1130.4 601.7,1136.1 602.7,1131 603.7,1134.1 604.7,1138.7 605.7,1131.5 606.7,1133 607.7,1133.5 608.7,1126.3 609.7,1131.2 610.7,1132.1 611.7,1134.9 612.7,1127.6 613.7,1133 614.7,1138.1 615.7,1134.4 616.7,1132 617.7,1131.2 618.7,1137.3 619.7,1133.3 620.7,1128.9 621.7,1131.4 622.7,1123.5 623.7,1131.4 624.7,1128.1 625.7,1128.2 626.7,1133.6 627.7,1130.8 628.7,1128.8 629.7,1129.6 630.7,1130.4 631.7,1132.7 632.7,1130.6 633.7,1130.4 634.7,1128.5 635.7,1131.1 636.7,1135.7 637.7,1129.1 638.7,1123.8 639.7,1132.9 640.7,1132.8 641.6,1134.1 642.6,1131.2 643.6,1129.4 644.6,1134.9 645.6,1124.8 646.6,1132 647.6,1135.3 648.6,1132.6 649.6,1133.3 650.6,1134.4 651.6,1139.2 652.6,1134 653.6,1138.7 654.6,1129.1 655.6,1131.9 656.6,1135.6 657.6,1137 658.6,1135.3 659.6,1134.7 660.6,1134.3 661.6,1135.4 662.6,1132.3 663.6,1129 664.6,1132.7 665.6,1128.8 666.6,1135.9 667.6,1135.1 668.6,1134.1 669.6,1133.8 670.6,1134.1 671.6,1134 672.6,1132.8 673.6,1128.5 674.6,1136.6 675.6,1136.4 676.6,1131 677.6,1133.7 678.6,1137.7 679.6,1135.7 680.6,1133.1 681.6,1131.6 682.6,1133 683.6,1138.6 684.6,1132.5 685.6,1136.4 686.6,1134.7 687.6,1131.1 688.6,1129.8 689.6,1134.5 690.6,1133.7 691.6,1138.1 692.6,1131.5 693.6,1133.5 694.6,1137.3 695.6,1134.8 696.6,1138 697.6,1135.9 698.6,1133.3 699.6,1134.7 700.6,1129.3 701.6,1126.4 702.6,1127.7 703.6,1129.5 704.6,1125.1 705.6,1124.6 706.6,1124.9 707.6,1123.1 708.6,1123.7 709.6,1119.6 710.6,1120.3 711.6,1124 712.6,1121.8 713.6,1121 714.6,1123.4 715.6,1118.5 716.6,1123.3 717.6,1119.4 718.6,1122.4 719.6,1125 720.6,1120.8 721.6,1117.9 722.6,1123.1 723.6,1124.3 724.6,1120.8 725.6,1120.1 726.6,1123.4 727.6,1124.7 728.6,1120.1 729.6,1122.3 730.6,1126.1 731.6,1126.2 732.6,1125.6 733.6,1124.1 734.6,1122.4 735.6,1121.6 736.6,1124.3 737.6,1125.3 738.6,1127.6 739.6,1127 740.6,1122.3 741.6,1122.5 742.6,1121.8 743.6,1121.4 744.6,1123 745.6,1125.6 746.6,1122.6 747.6,1123.4 748.6,1124.9 749.6,1124.2 750.6,1121.7 751.6,1125.1 752.6,1126.6 753.6,1126.2 754.6,1124.8 755.6,1128 756.6,1122.9 757.6,1125.4 758.6,1123.9 759.6,1124.7 760.6,1129.8 761.6,1128.8 762.6,1125 763.6,1125.6 764.6,1129.6 765.6,1125.5 766.6,1126.8 767.6,1122 768.6,1126 769.6,1130.1 770.6,1129.1 771.6,1129 772.6,1127.4 773.6,1126.1 774.6,1124.4 775.6,1126.2 776.6,1125.5 777.6,1125.2 778.6,1122.2 779.6,1126.9 780.6,1121.3 781.6,1126.1 782.6,1127.8 783.6,1132.1 784.6,1128.2 785.6,1128 786.6,1123.1 787.6,1127.4 788.6,1122.9 789.6,1125.2 790.6,1124.3 791.6,1124.7 792.6,1126.9 793.6,1121.4 794.6,1128.5 795.6,1126.4 796.6,1119.8 797.6,1123.9 798.6,1124.1 799.6,1121.8 800.6,1123.7 801.6,1123.2 802.6,1120.1 803.6,1125.9 804.6,1127.1 805.6,1124.2 806.6,1127.1 807.6,1122.7 808.6,1125.2 809.6,1122.4 810.6,1122.8 811.6,1129.3 812.6,1127.3 813.6,1122.7 814.6,1126.6 815.6,1120.3 816.6,1121 817.6,1120.4 818.6,1118.6 819.6,1122.5 820.6,1125.8 821.6,1122.4 822.6,1127.2 823.6,1124.3 824.6,1122.2 825.6,1125.1 826.6,1123 827.6,1121.8 828.6,1124.8 829.6,1126.2 830.6,1125.3 831.6,1122.6 832.6,1123.1 833.6,1121.8 834.6,1123.2 835.6,1125.1 836.6,1126.6 837.6,1126.8 838.6,1125.5 839.6,1124.4 840.6,1127 841.6,1124.8 842.6,1126.8 843.6,1125.1 844.6,1125 845.6,1124.3 846.6,1122.5 847.6,1126.6 848.6,1124.4 849.6,1124.1 850.6,1125.1 851.6,1121.4 852.6,1122.9 853.6,1126.4 854.6,1120.8 855.6,1125.7 856.6,1123.5 857.6,1125.2 858.6,1128.4 859.6,1123 860.6,1121.7 861.6,1124.9 862.6,1117.5 863.6,1123.1 864.6,1124.4 865.6,1125.4 866.6,1124.3 867.6,1125.5 868.6,1127.1 869.6,1127 870.6,1123.3 871.6,1122.3 872.6,1124.4 873.6,1124.6 874.6,1123.3 875.6,1125.2 876.6,1124 877.6,1127.8 878.6,1126.1 879.6,1123.5 880.6,1123.8 881.6,1124.2 882.6,1120.4 883.6,1122.7 884.6,1118.6 885.6,1119.5 886.6,1124.6 887.6,1120.3 888.6,1117.3 889.6,1119.2 890.6,1120.4 891.6,1121.6 892.6,1117.5 893.6,1117.6 894.6,1118.3 895.6,1119.5 896.6,1121 897.6,1119.8 898.6,1120.7 899.6,1120 900.6,1118 901.6,1119.8 902.6,1114.7 903.6,1124.5 904.6,1121.4 905.6,1121.4 906.6,1119.6 907.6,1118.5 908.6,1117.4 909.6,1120.7 910.6,1120.9 911.6,1118.3 912.6,1121 913.6,1121.5 914.6,1117.3 915.6,1121.5 916.6,1113.6 917.6,1122 918.6,1120.3 919.6,1119.7 920.6,1116.3 921.6,1116.4 922.6,1118.3 923.6,1117.2 924.6,1115.4 925.6,1118.1 926.6,1113.8 927.6,1117.9 928.6,1121.5 929.6,1120.7 930.6,1118.8 931.6,1117 932.6,1119.8 933.6,1120.6 934.6,1118.3 935.6,1117.4 936.6,1118.5 937.6,1116.4 938.6,1116.9 939.6,1116.3 940.6,1119.8 941.6,1121.7 942.6,1115.5 943.6,1117.1 944.6,1118.1 945.6,1119.4 946.6,1119.6 947.6,1119.8 948.6,1115.9 949.6,1114.7 950.6,1114.4 951.6,1114.5 952.6,1117 953.6,1116.6 954.6,1119.3 955.6,1117.5 956.6,1116.5 957.6,1121.6 958.6,1118.9 959.5,1117.6 960.5,1116.5 961.5,1118.1 962.5,1115.9 963.5,1114.1 964.5,1118.3 965.5,1119.2 966.5,1113.7 967.5,1115.2 968.5,1117.5 969.5,1117.6 970.5,1118.1 971.5,1117.7 972.5,1116.3 973.5,1115.5 974.5,1115.1 975.5,1114.9 976.5,1116.4 977.5,1117.9 978.5,1118.6 979.5,1117.4 980.5,1115.8 981.5,1111.8 982.5,1114.9 983.5,1113.4 984.5,1112.3 985.5,1116.3 986.5,1119.5 987.5,1118.8 988.5,1115 989.5,1118.8 990.5,1116.3 991.5,1117.8 992.5,1115.1 993.5,1112.5 994.5,1116.9 995.5,1114.7 996.5,1113.9 997.5,1115.9 998.5,1111.1 999.5,1113.7 1000.5,1113.4 1001.5,1118 1002.5,1112.3 1003.5,1116.3 1004.5,1113.1 1005.5,1115.4 1006.5,1117.1 1007.5,1114.2 1008.5,1114.4 1009.5,1107.9 1010.5,1113.5 1011.5,1114.6 1012.5,1113.6 1013.5,1111.5 1014.5,1109.8 1015.5,1111.1 1016.5,1111.6 1017.5,1112 1018.5,1109.4 1019.5,1110.9 1020.5,1110.4 1021.5,1110.7 1022.5,1112.7 1023.5,1110.9 1024.5,1110 1025.5,1110.6 1026.5,1118.3 1027.5,1112.2 1028.5,1113.7 1029.5,1111.2 1030.5,1112.2 1031.5,1114.5 1032.5,1114.7 1033.5,1115.8 1034.5,1114.7 1035.5,1114.3 1036.5,1117.1 1037.5,1114.6 1038.5,1113 1039.5,1116 1040.5,1115.5 1041.5,1114.9 1042.5,1118.1 1043.5,1114.7 1044.5,1109.7 1045.5,1112.9 1046.5,1113.2 1047.5,1108 1048.5,1117.5 1049.5,1113.7 1050.5,1114.8 1051.5,1112.2 1052.5,1110.8 1053.5,1105.4 1054.5,1109.1 1055.5,1107.6 1056.5,1108.6 1057.5,1106.1 1058.5,1109.6 1059.5,1109.3 1060.5,1112.1 1061.5,1116.6 1062.5,1113.6 1063.5,1108.8 1064.5,1111.1 1065.5,1109.5 1066.5,1110.8 1067.5,1109.3 1068.5,1115.2 1069.5,1113.2 1070.5,1110.9 1071.5,1109.6 1072.5,1108 1073.5,1108.7 1074.5,1114.2 1075.5,1112.4 1076.5,1109.4 1077.5,1111.2 1078.5,1113.9 1079.5,1109.6 1080.5,1109.2 1081.5,1108.1 1082.5,1108.3 1083.5,1107.8 1084.5,1107.1 1085.5,1108.1 1086.5,1109.2 1087.5,1106.2 1088.5,1106.5 1089.5,1109.7 1090.5,1107.7 1091.5,1110.3 1092.5,1112 1093.5,1107.6 1094.5,1106.1 1095.5,1105.5 1096.5,1106.7 1097.5,1108.5 1098.5,1108.8 1099.5,1108.8 1100.5,1106.7 1101.5,1105.8 1102.5,1107.9 1103.5,1103.5 1104.5,1111.4 1105.5,1108.2 1106.5,1107.9 1107.5,1109.5 1108.5,1107.9 1109.5,1107 1110.5,1107.1 1111.5,1108.4 1112.5,1102.4 1113.5,1108.6 1114.5,1110 1115.5,1111.5 1116.5,1111 1117.5,1107.5 1117.5,1118.1 1116.5,1122.2 1115.5,1118.1 1114.5,1117.3 1113.5,1117.8 1112.5,1112.8 1111.5,1116.5 1110.5,1114.7 1109.5,1116.8 1108.5,1115.6 1107.5,1116 1106.5,1116.8 1105.5,1113.5 1104.5,1113.9 1103.5,1113.5 1102.5,1118 1101.5,1118.5 1100.5,1117.5 1099.5,1116.1 1098.5,1118.2 1097.5,1116.9 1096.5,1111.3 1095.5,1113.8 1094.5,1117.4 1093.5,1117.9 1092.5,1114.9 1091.5,1118.8 1090.5,1118.4 1089.5,1114 1088.5,1117.9 1087.5,1114.4 1086.5,1121.3 1085.5,1122 1084.5,1111.8 1083.5,1115.2 1082.5,1117.1 1081.5,1119.9 1080.5,1117.9 1079.5,1117.8 1078.5,1119.5 1077.5,1118.4 1076.5,1118.7 1075.5,1121.4 1074.5,1119.4 1073.5,1117 1072.5,1114.6 1071.5,1117.2 1070.5,1119.8 1069.5,1118.8 1068.5,1120.9 1067.5,1115.6 1066.5,1117.2 1065.5,1118.3 1064.5,1117.3 1063.5,1118 1062.5,1119.9 1061.5,1121.6 1060.5,1121.5 1059.5,1116.3 1058.5,1113.5 1057.5,1116.5 1056.5,1116.3 1055.5,1119.4 1054.5,1118.4 1053.5,1119.4 1052.5,1118.5 1051.5,1119.2 1050.5,1123.7 1049.5,1120.2 1048.5,1127.4 1047.5,1120 1046.5,1121.3 1045.5,1123.4 1044.5,1117.3 1043.5,1122.6 1042.5,1122.5 1041.5,1121.7 1040.5,1120.2 1039.5,1125.8 1038.5,1121.5 1037.5,1125.1 1036.5,1125 1035.5,1124.3 1034.5,1120.9 1033.5,1121.1 1032.5,1121.9 1031.5,1124.4 1030.5,1117.7 1029.5,1118.6 1028.5,1120.8 1027.5,1126.4 1026.5,1125.5 1025.5,1121.1 1024.5,1119.2 1023.5,1119.2 1022.5,1119.8 1021.5,1124.5 1020.5,1117.1 1019.5,1114.1 1018.5,1115.9 1017.5,1121 1016.5,1121.1 1015.5,1117 1014.5,1116.5 1013.5,1118.2 1012.5,1118.1 1011.5,1124.3 1010.5,1126.4 1009.5,1124.5 1008.5,1123.2 1007.5,1125.3 1006.5,1125.2 1005.5,1121.8 1004.5,1123.4 1003.5,1120.1 1002.5,1121.1 1001.5,1122.7 1000.5,1120.9 999.5,1122.4 998.5,1122.9 997.5,1122.6 996.5,1123.4 995.5,1120.9 994.5,1123.7 993.5,1124.1 992.5,1119 991.5,1124.6 990.5,1125.6 989.5,1122.8 988.5,1120.6 987.5,1124.7 986.5,1127.2 985.5,1120.3 984.5,1120.6 983.5,1120.6 982.5,1123.8 981.5,1121.9 980.5,1130.6 979.5,1126 978.5,1124.9 977.5,1125 976.5,1127.9 975.5,1125.1 974.5,1124.5 973.5,1122 972.5,1119.9 971.5,1122.5 970.5,1123.7 969.5,1126.8 968.5,1123.9 967.5,1122.6 966.5,1123.6 965.5,1125.6 964.5,1128 963.5,1127.3 962.5,1129.8 961.5,1127.6 960.5,1122.7 959.5,1125.8 958.6,1127.8 957.6,1129.6 956.6,1124.3 955.6,1126.4 954.6,1124.4 953.6,1123 952.6,1120.4 951.6,1122.5 950.6,1121.5 949.6,1122.1 948.6,1124.2 947.6,1130.9 946.6,1124.2 945.6,1128.6 944.6,1125.9 943.6,1123.6 942.6,1121.3 941.6,1125.8 940.6,1129.8 939.6,1121.7 938.6,1126.6 937.6,1128.6 936.6,1128.1 935.6,1126.1 934.6,1124.5 933.6,1127.7 932.6,1125.6 931.6,1124.6 930.6,1126 929.6,1126.7 928.6,1126.1 927.6,1123.5 926.6,1124.4 925.6,1125.3 924.6,1122.7 923.6,1128 922.6,1125 921.6,1126.5 920.6,1126.3 919.6,1122.8 918.6,1130.2 917.6,1129.3 916.6,1127 915.6,1126.9 914.6,1127.8 913.6,1124.4 912.6,1127.8 911.6,1126.8 910.6,1130.6 909.6,1125.4 908.6,1128 907.6,1127.4 906.6,1124.5 905.6,1128.3 904.6,1128.8 903.6,1131 902.6,1128.2 901.6,1128.8 900.6,1127.8 899.6,1131.1 898.6,1128.2 897.6,1130.7 896.6,1126.3 895.6,1131.1 894.6,1132.2 893.6,1125.8 892.6,1124.1 891.6,1126.5 890.6,1130.7 889.6,1126.5 888.6,1124.9 887.6,1131.3 886.6,1132.7 885.6,1133.8 884.6,1129.8 883.6,1126.7 882.6,1128.4 881.6,1130 880.6,1130.7 879.6,1130.9 878.6,1132.4 877.6,1133.6 876.6,1135.2 875.6,1130.9 874.6,1132.6 873.6,1132.3 872.6,1132.9 871.6,1131.1 870.6,1133 869.6,1133.8 868.6,1136.3 867.6,1134.1 866.6,1132.1 865.6,1132.4 864.6,1129.6 863.6,1130.1 862.6,1128.4 861.6,1131.7 860.6,1132 859.6,1132 858.6,1136.4 857.6,1131.5 856.6,1131.1 855.6,1133.4 854.6,1129.6 853.6,1133.7 852.6,1132.7 851.6,1133 850.6,1131 849.6,1131.5 848.6,1133.4 847.6,1132.6 846.6,1133.3 845.6,1131.2 844.6,1131.1 843.6,1132.9 842.6,1132.9 841.6,1133.2 840.6,1133.8 839.6,1136 838.6,1135.9 837.6,1137.3 836.6,1131.9 835.6,1133.2 834.6,1131.5 833.6,1131.1 832.6,1134.8 831.6,1131 830.6,1135.7 829.6,1134.8 828.6,1132.9 827.6,1132 826.6,1132.4 825.6,1131.5 824.6,1130 823.6,1132.9 822.6,1138.9 821.6,1131 820.6,1134.4 819.6,1127.7 818.6,1126.1 817.6,1130 816.6,1136.3 815.6,1130.7 814.6,1132.7 813.6,1131.6 812.6,1135.9 811.6,1135.8 810.6,1129.7 809.6,1137.4 808.6,1133.2 807.6,1136.2 806.6,1134.8 805.6,1132.3 804.6,1136.1 803.6,1134 802.6,1127.7 801.6,1137.5 800.6,1132.1 799.6,1131.6 798.6,1130.2 797.6,1130.6 796.6,1133.9 795.6,1130 794.6,1135.7 793.6,1131 792.6,1135.8 791.6,1135 790.6,1135.2 789.6,1129.7 788.6,1133 787.6,1137.3 786.6,1131.9 785.6,1132.7 784.6,1138.8 783.6,1138 782.6,1133.9 781.6,1134.4 780.6,1132.6 779.6,1135.7 778.6,1135.1 777.6,1133.3 776.6,1139.7 775.6,1133.6 774.6,1132.1 773.6,1134.1 772.6,1135.4 771.6,1136.8 770.6,1138.9 769.6,1138.9 768.6,1134.3 767.6,1131.8 766.6,1133.5 765.6,1135.8 764.6,1135.2 763.6,1136.7 762.6,1135.2 761.6,1136 760.6,1134.4 759.6,1132.6 758.6,1136 757.6,1131.1 756.6,1133 755.6,1133.3 754.6,1132.5 753.6,1135.9 752.6,1133.2 751.6,1130.6 750.6,1130.1 749.6,1133.2 748.6,1133.2 747.6,1130 746.6,1134.3 745.6,1132.1 744.6,1135 743.6,1131.7 742.6,1131 741.6,1131.5 740.6,1133.6 739.6,1134.1 738.6,1136.1 737.6,1133.6 736.6,1130.7 735.6,1128.6 734.6,1128.5 733.6,1130.6 732.6,1131.9 731.6,1132.9 730.6,1134.1 729.6,1130.4 728.6,1133.6 727.6,1130.8 726.6,1132.2 725.6,1128 724.6,1129.2 723.6,1128.7 722.6,1133.9 721.6,1130.8 720.6,1127.1 719.6,1130.1 718.6,1130.3 717.6,1127.6 716.6,1130.9 715.6,1128.5 714.6,1126.4 713.6,1127.2 712.6,1131.4 711.6,1132.4 710.6,1130.3 709.6,1132.5 708.6,1127.9 707.6,1133.7 706.6,1132.3 705.6,1134.5 704.6,1134.7 703.6,1134.4 702.6,1137.1 701.6,1134.4 700.6,1136.5 699.6,1140.9 698.6,1139.6 697.6,1143.4 696.6,1143.1 695.6,1143.6 694.6,1148.5 693.6,1141.5 692.6,1141.2 691.6,1142 690.6,1141.8 689.6,1143 688.6,1143.1 687.6,1139.4 686.6,1145.4 685.6,1139 684.6,1144.4 683.6,1145.7 682.6,1140.2 681.6,1138.4 680.6,1143.2 679.6,1142.4 678.6,1143.5 677.6,1140.3 676.6,1144 675.6,1143.7 674.6,1145.5 673.6,1140.7 672.6,1139.5 671.6,1142.2 670.6,1141.7 669.6,1148.1 668.6,1143.6 667.6,1143.3 666.6,1139.6 665.6,1139.6 664.6,1139.4 663.6,1137.6 662.6,1139.2 661.6,1141 660.6,1142 659.6,1140 658.6,1144.6 657.6,1143.9 656.6,1145 655.6,1145 654.6,1140.3 653.6,1143.2 652.6,1145.8 651.6,1143.5 650.6,1141.9 649.6,1138.1 648.6,1140.6 647.6,1141.5 646.6,1143.8 645.6,1138.2 644.6,1145 643.6,1145.9 642.6,1141.1 641.6,1138.5 640.7,1142.9 639.7,1137.2 638.7,1137.5 637.7,1138.9 636.7,1140.2 635.7,1136 634.7,1140.9 633.7,1137.5 632.7,1138 631.7,1138.5 630.7,1137.5 629.7,1139 628.7,1140.5 627.7,1134.6 626.7,1139.2 625.7,1141.6 624.7,1135.4 623.7,1139.1 622.7,1132.5 621.7,1135.9 620.7,1138.2 619.7,1140.1 618.7,1140.9 617.7,1138.2 616.7,1140.7 615.7,1146.5 614.7,1143.3 613.7,1143.9 612.7,1135.6 611.7,1143.4 610.7,1141.4 609.7,1143.5 608.7,1137.4 607.7,1140.2 606.7,1141.3 605.7,1143.8 604.7,1142 603.7,1140.6 602.7,1139.9 601.7,1147 600.7,1141.1 599.7,1141.8 598.7,1147.3 597.7,1140.9 596.7,1144.2 595.7,1142.2 594.7,1149.1 593.7,1149.7 592.7,1143.1 591.7,1143.7 590.7,1142.5 589.7,1141.1 588.7,1148.2 587.7,1144.4 586.7,1142.2 585.7,1144.2 584.7,1143.3 583.7,1140.3 582.7,1146.2 581.7,1141.6 580.7,1145.2 579.7,1146.3 578.7,1145 577.7,1144.7 576.7,1146.4 575.7,1143.8 574.7,1143.6 573.7,1146.1 572.7,1148.8 571.7,1147.2 570.7,1148 569.7,1145.5 568.7,1141.8 567.7,1144.6 566.7,1149.3 565.7,1144.7 564.7,1145.5 563.7,1147 562.7,1147.4 561.7,1146.4 560.7,1145.7 559.7,1136.8 558.7,1146.5 557.7,1142.5 556.7,1146.4 555.7,1147.5 554.7,1144.8 553.7,1146 552.7,1143.8 551.7,1146.2 550.7,1148 549.7,1145.6 548.7,1149.2 547.7,1143.9 546.7,1145.1 545.7,1146.1 544.7,1147.2 543.7,1146.7 542.7,1149.9 541.7,1148 540.7,1149.2 539.7,1150 538.7,1150.5 537.7,1142.5 536.7,1148.1 535.7,1149.1 534.7,1148.6 533.7,1150.7 532.7,1151 531.7,1150.4 530.7,1150.1 529.7,1154.2 528.7,1150.7 527.7,1146.5 526.7,1149.3 525.7,1151.8 524.7,1146.9 523.7,1144.7 522.7,1146.1 521.7,1147 520.7,1147 519.7,1152.2 518.7,1147.5 517.7,1146.9 516.7,1150.8 515.7,1146.3 514.7,1143.4 513.7,1148 512.7,1146.5 511.7,1147.4 510.7,1153.3 509.7,1154.4 508.7,1150.6 507.7,1150.4 506.7,1148 505.7,1155.3 504.7,1149.3 503.7,1153.3 502.7,1148 501.7,1153.7 500.7,1148.1 499.7,1153.1 498.7,1151.8 497.7,1149.1 496.7,1151.4 495.7,1151.6 494.7,1153.6 493.7,1152 492.7,1153.5 491.7,1155.1 490.7,1153.7 489.7,1150.9 488.7,1153.5 487.7,1152.3 486.7,1150.8 485.7,1154.2 484.7,1153 483.7,1149 482.7,1155 481.7,1154.6 480.7,1152.9 479.7,1153.5 478.7,1151.7 477.7,1159.5 476.7,1153 475.7,1149.9 474.7,1149.2 473.7,1150 472.7,1157.5 471.7,1151.8 470.7,1150.8 469.7,1153.2 468.7,1157.9 467.7,1151.6 466.7,1156.1 465.7,1155.4 464.7,1154.9 463.7,1153.7 462.7,1156.9 461.7,1155.9 460.7,1161.5 459.7,1157 458.7,1160.7 457.7,1164.5 456.7,1163.6 455.7,1157.2 454.7,1159.5 453.7,1161.2 452.7,1165.7 451.7,1160.5 450.7,1159.8 449.7,1165.5 448.7,1162.2 447.7,1164.4 446.7,1163.8 445.7,1161.2 444.7,1163.3 443.7,1160.6 442.7,1161.8 441.7,1165 440.7,1163.4 439.7,1158.8 438.7,1164.8 437.7,1156.6 436.7,1158.6 435.7,1161 434.7,1156.7 433.7,1158.8 432.7,1161 431.7,1162.8 430.7,1164.2 429.7,1157.9 428.7,1164.4 427.7,1160 426.7,1165 425.7,1159.7 424.7,1164.2 423.7,1159.9 422.7,1161.9 421.7,1157.5 420.7,1161.5 419.7,1167.9 418.7,1160.7 417.7,1161.2 416.7,1161.7 415.7,1164 414.7,1163 413.7,1159.4 412.7,1164.2 411.7,1164.2 410.7,1161.1 409.7,1166.5 408.7,1164.8 407.7,1162.4 406.7,1164.6 405.7,1165.5 404.7,1163.7 403.7,1166.4 402.7,1167.5 401.7,1167.3 400.7,1167.2 399.7,1164.1 398.7,1167.1 397.7,1171.1 396.7,1169.4 395.7,1170.9 394.7,1170.2 393.7,1173.3 392.7,1171.5 391.7,1168.2 390.7,1167.5 389.7,1165.6 388.7,1171.8 387.7,1168 386.7,1174.3 385.7,1177.9 384.7,1184.7 383.7,1188.5 382.7,1187.3 381.7,1192.4 380.7,1189 379.7,1194.9 378.7,1200.3 377.7,1190.2 376.7,1194 375.7,1194.7 374.7,1196.9 373.7,1198.5 372.7,1196.3 371.7,1192.1 370.7,1193 369.7,1194.3 368.7,1188 367.7,1192.1 366.7,1195.6 365.7,1197 364.7,1194.7 363.7,1196 362.7,1191.2 361.7,1189.2 360.7,1191.5 359.7,1192.6 358.7,1191.4 357.7,1188.4 356.7,1193.9 355.7,1188.8 354.7,1193.4 353.7,1189.5 352.7,1188.5 351.7,1195.8 350.7,1187.6 349.7,1190.1 348.7,1191.8 347.7,1184.8 346.7,1187.3 345.7,1189.5 344.7,1190.1 343.7,1192.8 342.7,1196.2 341.7,1191.2 340.7,1196.6 339.7,1191.9 338.7,1197.1 337.7,1194.9 336.7,1193.4 335.7,1195 334.7,1199.1 333.7,1192.9 332.7,1202.5 331.7,1202.1 330.7,1196.2 329.7,1199.6 328.7,1201.6 327.7,1197.7 326.7,1200.1 325.7,1196.7 324.7,1199.5 323.7,1202 322.8,1197.3 321.8,1200.8 320.8,1197.6 319.8,1197.3 318.8,1202.6 317.8,1201.9 316.8,1196.5 315.8,1194.2 314.8,1199.4 313.8,1193.8 312.8,1206.2 311.8,1202.2 310.8,1202.9 309.8,1203.8 308.8,1202.2 307.8,1195 306.8,1196.7 305.8,1196.7 304.8,1200.1 303.8,1202.5 302.8,1203.2 301.8,1198.6 300.8,1200.8 299.8,1203.8 298.8,1205.8 297.8,1195.9 296.8,1192.4 295.8,1200.3 294.8,1194.8 293.8,1194.9 292.8,1196.8 291.8,1198.6 290.8,1202.6 289.8,1199.2 288.8,1195.6 287.8,1199.2 286.8,1199.9 285.8,1193.7 284.8,1200.7 283.8,1196.4 282.8,1202.3 281.8,1193.7 280.8,1197.1 279.8,1198 278.8,1195.4 277.8,1196.5 276.8,1196.8 275.8,1195.2 274.8,1201.7 273.8,1197.7 272.8,1197.8 271.8,1208.9 270.8,1205 269.8,1200 268.8,1200.4 267.8,1197.2 266.8,1194.9 265.8,1191.1 264.8,1200.8 263.8,1197.5 262.8,1193 261.8,1193 260.8,1192.6 259.8,1197.3 258.8,1192.7 257.8,1197.2 256.8,1188.5 255.8,1189.6 254.8,1188.7 253.8,1192.5 252.8,1193.3 251.8,1194.8 250.8,1193.9 249.8,1191.3 248.8,1195.5 247.8,1195.5 246.8,1198.4 245.8,1196.2 244.8,1196.6 243.8,1195.9 242.8,1194.1 241.8,1192.8 240.8,1193.8 239.8,1191.5 238.8,1192.4 237.8,1195.4 236.8,1192.8 235.8,1196.5 234.8,1204.7 233.8,1195 232.8,1193.5 231.8,1196.4 230.8,1200.9 229.8,1198.7 228.8,1190.6 227.8,1195.4 226.8,1198.5 225.8,1189.9 224.8,1198.8 223.8,1195.9 222.8,1194.8 221.8,1195.6 220.8,1199.2 219.8,1199.3 218.8,1207.1 217.8,1201.1 216.8,1195.2 215.8,1200 214.8,1195.9 213.8,1200.1 212.8,1197 211.8,1199.3 210.8,1201 209.8,1200.9 208.8,1199.6 207.8,1207 206.8,1197.6 205.8,1199.8 204.8,1198.4 203.8,1205 202.8,1208.1 201.8,1203.7 200.8,1201 199.8,1204.5 198.8,1201.8 197.8,1208.7 196.8,1206.2 195.8,1205.2 194.8,1201.4 193.8,1201.6 192.8,1206.4 191.8,1207.1 190.8,1205.2 189.8,1196.5 188.8,1202.4 187.8,1208.5 186.8,1202.7 185.8,1207 184.8,1207.5 183.8,1204.1 182.8,1203 181.8,1210.5 180.8,1206 179.8,1207.6 178.8,1209.1 177.8,1208.3 176.8,1205.7 175.8,1205.6 174.8,1211.8 173.8,1211.6 172.8,1213.8 171.8,1210.8 170.8,1212.2 169.8,1217.5 168.8,1220.1 167.8,1214.7 166.8,1215.8 165.8,1220 164.8,1220.4" fill="#0a12b8" stroke="#030340" stroke-width="1.0" stroke-linejoin="round"/>
<text transform="translate(131.7 1260.3) scale(1.0000 1)" font-size="21.51">0</text>
<text transform="translate(131.9 1224.4) scale(1.0000 1)" font-size="21.51">1</text>
<text transform="translate(131.9 1188.5) scale(1.0000 1)" font-size="21.51">2</text>
<text transform="translate(131.8 1152.7) scale(1.0000 1)" font-size="21.51">3</text>
<text transform="translate(131.5 1116.8) scale(1.0000 1)" font-size="21.51">4</text>
<text transform="translate(131.7 1080.9) scale(1.0000 1)" font-size="21.51">5</text>
<text transform="translate(1032.7 1251.7) scale(1.0181 1)" font-size="27.53">CID_999</text>
<text transform="translate(157.5 1289.3) scale(1.1296 1)" font-size="21.51">0</text>
<text transform="translate(233.1 1289.3) scale(1.1099 1)" font-size="21.51">5000</text>
<text transform="translate(322.1 1289.3) scale(1.0860 1)" font-size="21.51">10000</text>
<text transform="translate(417.5 1289.3) scale(1.0860 1)" font-size="21.51">15000</text>
<text transform="translate(513.5 1289.3) scale(1.0759 1)" font-size="21.51">20000</text>
<text transform="translate(608.8 1289.3) scale(1.0759 1)" font-size="21.51">25000</text>
<text transform="translate(704.5 1289.3) scale(1.0710 1)" font-size="21.51">30000</text>
<text transform="translate(799.9 1289.3) scale(1.0710 1)" font-size="21.51">35000</text>
<text transform="translate(895.6 1289.3) scale(1.0651 1)" font-size="21.51">40000</text>
<text transform="translate(991 1289.3) scale(1.0651 1)" font-size="21.51">45000</text>
<text transform="translate(1085.9 1289.3) scale(1.0720 1)" font-size="21.51">50000</text>
<text transform="translate(528.8 1348) scale(0.9731 1)" font-size="36.36">Timescale (ps)</text>
<text transform="translate(47.8 700.3) rotate(-90) scale(0.9508 1)" font-size="36.95">RMSD (Å)</text>
<path d="M199.5 1429.2V1660.9M294.1 1429.2V1660.9M388.7 1429.2V1660.9M483.3 1429.2V1660.9M104.9 1627.8H577.9M104.9 1594.7H577.9M104.9 1561.6H577.9M104.9 1528.5H577.9M104.9 1495.4H577.9M104.9 1462.3H577.9M104.9 1429.2H577.9V1660.9" stroke="#c8caca" stroke-width="1.3" fill="none"/>
<path d="M104.9 1429.2V1660.9H577.9" stroke="#a69eae" stroke-width="1.5" fill="none"/>
<path d="M104.9 1461.5h1.9v200.1h-1.9zM106.8 1494.7h2.1v133.9h-2.1zM108.9 1461.5h2v167h-2zM110.9 1527.8h1.5v100.8h-1.5zM112.4 1527.8h0.1v133.9h-0.1zM112.5 1560.9h4.5v100.8h-4.5zM117 1494.7h2v167h-2zM119 1594h7.5v67.7h-7.5zM126.5 1594h1.5v34.6h-1.5zM128 1594h1.5v67.7h-1.5zM129.5 1560.9h1.5v100.8h-1.5zM131 1594h14.5v67.7h-14.5zM145.5 1560.9h1.5v100.8h-1.5zM147 1594h1.5v67.7h-1.5zM148.5 1594h1.5v34.6h-1.5zM150 1594h4.5v67.7h-4.5zM154.5 1560.9h3v100.8h-3zM157.5 1594h6v67.7h-6zM163.5 1560.9h0.1v100.8h-0.1zM163.6 1560.9h3v67.7h-3zM166.6 1594h1.5v34.6h-1.5zM168.1 1560.9h1.6v67.7h-1.6zM169.7 1594h1.5v67.7h-1.5zM171.2 1560.9h1.5v100.8h-1.5zM172.7 1594h1.5v34.6h-1.5zM174.2 1560.9h1.5v67.7h-1.5zM175.7 1594h1.5v34.6h-1.5zM177.2 1560.9h1.5v67.7h-1.5zM178.7 1594h1.5v34.6h-1.5zM180.2 1527.8h1.5v100.8h-1.5zM181.7 1594h2.3v34.6h-2.3zM184 1560.9h1.5v100.8h-1.5zM185.5 1594h3v67.7h-3zM188.5 1560.9h6v100.8h-6zM194.5 1594h1.5v34.6h-1.5zM196 1594h5v67.7h-5zM201 1560.9h3v100.8h-3zM204 1594h9.5v67.7h-9.5zM213.5 1594h1.5v34.6h-1.5zM215 1594h3v67.7h-3zM218 1594h1.5v34.6h-1.5zM219.5 1594h1.5v67.7h-1.5zM221 1560.9h1.5v67.7h-1.5zM222.5 1494.7h1.5v133.9h-1.5zM224 1560.9h1.5v67.7h-1.5zM225.5 1494.7h3v133.9h-3zM228.5 1560.9h1.5v67.7h-1.5zM230 1527.8h1.5v100.8h-1.5zM231.5 1560.9h4.5v67.7h-4.5zM236 1560.9h1.5v34.6h-1.5zM237.5 1560.9h3v67.7h-3zM240.5 1527.8h4.5v100.8h-4.5zM245 1527.8h1.5v67.7h-1.5zM246.5 1527.8h3v100.8h-3zM249.5 1560.9h1.5v67.7h-1.5zM251 1527.8h2.3v100.8h-2.3zM253.3 1560.9h4.5v67.7h-4.5zM257.8 1494.7h1.5v167h-1.5zM259.3 1527.8h1.5v133.9h-1.5zM260.8 1527.8h1.5v100.8h-1.5zM262.3 1560.9h1.5v100.8h-1.5zM263.8 1560.9h1.5v67.7h-1.5zM265.3 1494.7h1.5v100.8h-1.5zM266.8 1494.7h1.5v133.9h-1.5zM268.3 1560.9h1.5v100.8h-1.5zM269.8 1527.8h0.7v67.7h-0.7zM270.5 1594h1.5v34.6h-1.5zM272 1594h3v67.7h-3zM275 1560.9h3v67.7h-3zM278 1594h4.5v67.7h-4.5zM282.5 1594h1.5v34.6h-1.5zM284 1560.9h1.5v67.7h-1.5zM285.5 1560.9h1.9v100.8h-1.9zM287.4 1594h3v67.7h-3zM290.4 1560.9h1.5v100.8h-1.5zM291.9 1594h6v67.7h-6zM297.9 1560.9h1.5v67.7h-1.5zM299.4 1594h4.3v34.6h-4.3zM303.7 1560.9h3v67.7h-3zM306.7 1560.9h3v100.8h-3zM309.7 1527.8h1.5v133.9h-1.5zM311.2 1560.9h4.5v100.8h-4.5zM315.7 1560.9h4.5v67.7h-4.5zM320.2 1527.8h4.5v100.8h-4.5zM324.7 1560.9h1.5v100.8h-1.5zM326.2 1527.8h1.5v100.8h-1.5zM327.7 1560.9h3v67.7h-3zM330.7 1560.9h1.5v100.8h-1.5zM332.2 1560.9h3v67.7h-3zM335.2 1527.8h1.5v100.8h-1.5zM336.7 1560.9h4.5v67.7h-4.5zM341.2 1527.8h1.5v100.8h-1.5zM342.7 1527.8h1.5v133.9h-1.5zM344.2 1527.8h3v100.8h-3zM347.2 1527.8h3v133.9h-3zM350.2 1560.9h4.5v67.7h-4.5zM354.7 1527.8h3v100.8h-3zM357.7 1527.8h1.5v133.9h-1.5zM359.2 1560.9h1.5v67.7h-1.5zM360.7 1527.8h0.1v100.8h-0.1zM360.8 1594h1.5v67.7h-1.5zM362.3 1560.9h1.5v100.8h-1.5zM363.8 1594h1.5v67.7h-1.5zM365.3 1594h3v34.6h-3zM368.3 1594h3v67.7h-3zM371.3 1560.9h1.5v100.8h-1.5zM372.8 1594h1.5v67.7h-1.5zM374.3 1594h1.5v34.6h-1.5zM375.8 1560.9h1.5v67.7h-1.5zM377.3 1560.9h1.5v100.8h-1.5zM378.8 1560.9h1.5v67.7h-1.5zM380.3 1594h1.5v34.6h-1.5zM381.8 1560.9h1.5v100.8h-1.5zM383.3 1594h1.5v34.6h-1.5zM384.8 1594h1.5v67.7h-1.5zM386.3 1560.9h3v100.8h-3zM389.3 1594h3v67.7h-3zM392.3 1594h1.5v34.6h-1.5zM393.8 1594h6v67.7h-6zM399.8 1560.9h1.5v67.7h-1.5zM401.3 1594h3v34.6h-3zM404.3 1560.9h1.5v67.7h-1.5zM405.8 1594h1.5v67.7h-1.5zM407.3 1560.9h1.5v100.8h-1.5zM408.8 1594h1.5v34.6h-1.5zM410.3 1594h3v67.7h-3zM413.3 1560.9h1.5v67.7h-1.5zM414.8 1594h1.5v67.7h-1.5zM416.3 1594h1.5v34.6h-1.5zM417.8 1594h2.2v67.7h-2.2zM420 1560.9h1.5v100.8h-1.5zM421.5 1560.9h1.5v67.7h-1.5zM423 1560.9h1.5v100.8h-1.5zM424.5 1594h3v67.7h-3zM427.5 1560.9h4.5v100.8h-4.5zM432 1594h1.5v67.7h-1.5zM433.5 1594h4.5v34.6h-4.5zM438 1560.9h3v100.8h-3zM441 1560.9h1.5v67.7h-1.5zM442.5 1560.9h3v100.8h-3zM445.5 1594h3v67.7h-3zM448.5 1560.9h3v100.8h-3zM451.5 1594h3v67.7h-3zM454.5 1594h1.5v34.6h-1.5zM456 1560.9h1.5v100.8h-1.5zM457.5 1594h7.1v67.7h-7.1zM464.6 1594h7.5v34.6h-7.5zM472.1 1594h1.5v67.7h-1.5zM473.6 1594h3v34.6h-3zM476.6 1594h1.5v67.7h-1.5zM478.1 1594h1.5v34.6h-1.5zM479.6 1594h3v67.7h-3zM482.6 1594h1.5v34.6h-1.5zM484.1 1560.9h4.5v67.7h-4.5zM488.6 1560.9h4.5v100.8h-4.5zM493.1 1594h3v67.7h-3zM496.1 1594h1.5v34.6h-1.5zM497.6 1560.9h1.5v100.8h-1.5zM499.1 1594h1.5v67.7h-1.5zM500.6 1560.9h1.5v100.8h-1.5zM502.1 1594h4.5v67.7h-4.5zM506.6 1560.9h6v100.8h-6zM512.6 1594h1.5v67.7h-1.5zM514.1 1560.9h1.5v100.8h-1.5zM515.6 1594h1.5v34.6h-1.5zM517.1 1560.9h1.5v67.7h-1.5zM518.6 1560.9h4.5v100.8h-4.5zM523.1 1594h3v34.6h-3zM526.1 1594h1.5v67.7h-1.5zM527.6 1560.9h3v67.7h-3zM530.6 1594h3v67.7h-3zM533.6 1594h3v34.6h-3zM536.6 1560.9h1.5v67.7h-1.5zM538.1 1594h4.5v34.6h-4.5zM542.6 1594h1.5v67.7h-1.5zM544.1 1594h6v34.6h-6zM550.1 1560.9h1.5v67.7h-1.5zM551.6 1560.9h1.5v100.8h-1.5zM553.1 1594h1.5v34.6h-1.5zM554.6 1560.9h1.5v100.8h-1.5zM556.1 1594h1.5v67.7h-1.5zM557.6 1560.9h4.5v67.7h-4.5zM562.1 1594h3v34.6h-3zM565.1 1560.9h1.5v67.7h-1.5zM566.6 1560.9h4.5v100.8h-4.5zM571.1 1560.9h1.5v67.7h-1.5zM572.6 1594h3v67.7h-3zM575.6 1594h1.5v34.6h-1.5zM577.1 1594h0.8v67.7h-0.8z" fill="#1a3cb2" shape-rendering="crispEdges"/>
<text transform="translate(78.7 1666.8) scale(1.0000 1)" font-size="19.78">0</text>
<text transform="translate(78.9 1633.7) scale(1.0000 1)" font-size="19.78">1</text>
<text transform="translate(78.9 1600.6) scale(1.0000 1)" font-size="19.78">2</text>
<text transform="translate(78.8 1567.5) scale(1.0000 1)" font-size="19.78">3</text>
<text transform="translate(78.5 1534.4) scale(1.0000 1)" font-size="19.78">4</text>
<text transform="translate(78.7 1501.3) scale(1.0000 1)" font-size="19.78">5</text>
<text transform="translate(78.8 1468.2) scale(1.0000 1)" font-size="19.78">6</text>
<text transform="translate(78.9 1435.1) scale(1.0000 1)" font-size="19.78">7</text>
<text transform="translate(99.4 1689.5) scale(1.0883 1)" font-size="18.21">0</text>
<text transform="translate(173.2 1689.5) scale(1.0253 1)" font-size="18.21">10000</text>
<text transform="translate(268.3 1689.5) scale(1.0158 1)" font-size="18.21">20000</text>
<text transform="translate(363.1 1689.5) scale(1.0111 1)" font-size="18.21">30000</text>
<text transform="translate(458 1689.5) scale(1.0055 1)" font-size="18.21">40000</text>
<text transform="translate(552.3 1689.5) scale(1.0121 1)" font-size="18.21">50000</text>
<text transform="translate(444.2 1453.1) scale(1.0515 1)" font-size="21.36">CID_5365371</text>
<path d="M750.1 1429.3V1661.6M843.8 1429.3V1661.6M937.5 1429.3V1661.6M1031.2 1429.3V1661.6M656.4 1638.4H1124.9M656.4 1615.1H1124.9M656.4 1591.9H1124.9M656.4 1568.7H1124.9M656.4 1545.4H1124.9M656.4 1522.2H1124.9M656.4 1499H1124.9M656.4 1475.8H1124.9M656.4 1452.5H1124.9M656.4 1429.3H1124.9V1661.6" stroke="#c8caca" stroke-width="1.3" fill="none"/>
<path d="M656.4 1429.3V1661.6H1124.9" stroke="#a69eae" stroke-width="1.5" fill="none"/>
<path d="M656.4 1475h2.1v164.1h-2.1zM658.5 1521.5h3v94.4h-3zM661.5 1521.5h3v117.7h-3zM664.5 1498.2h1.5v140.9h-1.5zM666 1521.5h1.5v117.7h-1.5zM667.5 1498.2h1.5v117.6h-1.5zM669 1521.5h3v94.4h-3zM672 1498.2h1.5v117.6h-1.5zM673.5 1521.5h0.5v117.7h-0.5zM674 1567.9h3v71.2h-3zM677 1544.7h1.5v94.4h-1.5zM678.5 1567.9h3v71.2h-3zM681.5 1567.9h1.5v48h-1.5zM683 1544.7h3v71.2h-3zM686 1567.9h1.5v71.2h-1.5zM687.5 1544.7h1.5v94.4h-1.5zM689 1544.7h3v71.2h-3zM692 1567.9h0.3v71.2h-0.3zM692.3 1567.9h1.5v94.4h-1.5zM693.8 1567.9h1.5v48h-1.5zM695.3 1544.7h3v71.2h-3zM698.3 1567.9h1.5v71.2h-1.5zM699.8 1544.7h3v71.2h-3zM702.8 1591.2h1.5v71.2h-1.5zM704.3 1567.9h1.5v94.4h-1.5zM705.8 1544.7h3v71.2h-3zM708.8 1567.9h1.5v94.4h-1.5zM710.3 1544.7h1.5v71.2h-1.5zM711.8 1544.7h1.5v117.7h-1.5zM713.3 1567.9h1.5v94.4h-1.5zM714.8 1567.9h0.2v48h-0.2zM715 1521.5h1.5v117.7h-1.5zM716.5 1544.7h1.5v117.7h-1.5zM718 1521.5h1.5v117.7h-1.5zM719.5 1544.7h1.5v94.4h-1.5zM721 1544.7h3v117.7h-3zM724 1544.7h1.5v94.4h-1.5zM725.5 1544.7h1.5v117.7h-1.5zM727 1498.2h3v140.9h-3zM730 1498.2h4.5v117.6h-4.5zM734.5 1498.2h3v140.9h-3zM737.5 1498.2h1.5v94.4h-1.5zM739 1521.5h1.5v71.2h-1.5zM740.5 1498.2h1.5v94.4h-1.5zM742 1498.2h1.5v117.6h-1.5zM743.5 1521.5h3v94.4h-3zM746.5 1498.2h3v94.4h-3zM749.5 1521.5h1.5v71.2h-1.5zM751 1498.2h1.5v94.4h-1.5zM752.5 1521.5h1.5v71.2h-1.5zM754 1521.5h1.5v94.4h-1.5zM755.5 1498.2h1.5v117.6h-1.5zM757 1521.5h3v94.4h-3zM760 1498.2h1.5v117.6h-1.5zM761.5 1498.2h4.5v140.9h-4.5zM766 1521.5h1.5v94.4h-1.5zM767.5 1521.5h1.5v71.2h-1.5zM769 1498.2h3v117.6h-3zM772 1498.2h1.5v94.4h-1.5zM773.5 1521.5h0.5v71.2h-0.5zM774 1544.7h4.5v71.2h-4.5zM778.5 1521.5h1.5v94.4h-1.5zM780 1544.7h3v71.2h-3zM783 1521.5h3v94.4h-3zM786 1544.7h1.5v71.2h-1.5zM787.5 1498.2h1.5v94.4h-1.5zM789 1498.2h3v71.2h-3zM792 1498.2h4.5v94.4h-4.5zM796.5 1521.5h1.5v48h-1.5zM798 1475h3v94.4h-3zM801 1475h1.5v117.6h-1.5zM802.5 1498.2h1.5v94.4h-1.5zM804 1521.5h1.5v71.2h-1.5zM805.5 1498.2h12v71.2h-12zM817.5 1475h2.5v94.4h-2.5zM820 1475h1.5v117.6h-1.5zM821.5 1475h1.5v94.4h-1.5zM823 1475h1.5v117.6h-1.5zM824.5 1475h3v94.4h-3zM827.5 1451.8h1.5v117.6h-1.5zM829 1475h3v117.6h-3zM832 1475h2.7v94.4h-2.7zM834.7 1544.7h1.5v71.2h-1.5zM836.2 1544.7h3v94.4h-3zM839.2 1521.5h1.5v117.7h-1.5zM840.7 1544.7h1.5v94.4h-1.5zM842.2 1521.5h1.5v94.4h-1.5zM843.7 1521.5h0.2v117.7h-0.2zM843.9 1521.5h3v94.4h-3zM846.9 1544.7h1.5v71.2h-1.5zM848.4 1521.5h1.5v94.4h-1.5zM849.9 1544.7h1.5v71.2h-1.5zM851.4 1544.7h3v94.4h-3zM854.4 1544.7h7.5v71.2h-7.5zM861.9 1544.7h1.7v94.4h-1.7zM863.6 1498.2h9v71.2h-9zM872.6 1475h5.1v94.4h-5.1zM877.7 1498.2h1.5v71.2h-1.5zM879.2 1521.5h1.5v71.2h-1.5zM880.7 1498.2h1.5v94.4h-1.5zM882.2 1498.2h1.5v71.2h-1.5zM883.7 1498.2h1.5v94.4h-1.5zM885.2 1498.2h1.5v71.2h-1.5zM886.7 1521.5h3v48h-3zM889.7 1521.5h1.5v71.2h-1.5zM891.2 1521.5h3v48h-3zM894.2 1475h3v117.6h-3zM897.2 1521.5h3v48h-3zM900.2 1498.2h3v71.2h-3zM903.2 1521.5h4.1v48h-4.1zM907.3 1521.5h1.5v94.4h-1.5zM908.8 1544.7h4.5v71.2h-4.5zM913.3 1521.5h1.5v117.7h-1.5zM914.8 1521.5h6v94.4h-6zM920.8 1544.7h4.5v71.2h-4.5zM925.3 1521.5h1.5v94.4h-1.5zM926.8 1544.7h0.2v71.2h-0.2zM927 1544.7h1.5v94.4h-1.5zM928.5 1544.7h3v71.2h-3zM931.5 1521.5h1.5v94.4h-1.5zM933 1544.7h1.5v94.4h-1.5zM934.5 1521.5h1.5v94.4h-1.5zM936 1544.7h1.5v71.2h-1.5zM937.5 1544.7h1.5v94.4h-1.5zM939 1544.7h3v71.2h-3zM942 1544.7h1.5v94.4h-1.5zM943.5 1544.7h1.5v71.2h-1.5zM945 1544.7h1.5v94.4h-1.5zM946.5 1544.7h1.5v71.2h-1.5zM948 1544.7h1.5v94.4h-1.5zM949.5 1544.7h1.5v71.2h-1.5zM951 1544.7h1.5v94.4h-1.5zM952.5 1544.7h5.5v71.2h-5.5zM958 1544.7h1.5v117.7h-1.5zM959.5 1567.9h1.5v71.2h-1.5zM961 1544.7h1.5v117.7h-1.5zM962.5 1567.9h1.5v94.4h-1.5zM964 1567.9h1.5v71.2h-1.5zM965.5 1567.9h1.5v94.4h-1.5zM967 1544.7h1.5v94.4h-1.5zM968.5 1567.9h3v94.4h-3zM971.5 1544.7h3.5v117.7h-3.5zM975 1567.9h1.5v94.4h-1.5zM976.5 1544.7h1.5v94.4h-1.5zM978 1544.7h1.5v117.7h-1.5zM979.5 1544.7h1.5v94.4h-1.5zM981 1521.5h4.5v117.7h-4.5zM985.5 1544.7h3v94.4h-3zM988.5 1567.9h1.5v71.2h-1.5zM990 1544.7h1.8v94.4h-1.8zM991.8 1567.9h9v94.4h-9zM1000.8 1544.7h1.5v117.7h-1.5zM1002.3 1567.9h1.5v94.4h-1.5zM1003.8 1475h1.5v117.6h-1.5zM1005.3 1498.2h6v94.4h-6zM1011.3 1475h4.5v117.6h-4.5zM1015.8 1498.2h0.7v94.4h-0.7zM1016.5 1521.5h1.5v94.4h-1.5zM1018 1498.2h1.5v164.1h-1.5zM1019.5 1498.2h3v140.9h-3zM1022.5 1521.5h3v94.4h-3zM1025.5 1498.2h1.5v94.4h-1.5zM1027 1498.2h1.5v117.6h-1.5zM1028.5 1521.5h3v71.2h-3zM1031.5 1498.2h3v140.9h-3zM1034.5 1521.5h3v94.4h-3zM1037.5 1521.5h1.5v71.2h-1.5zM1039 1498.2h3v94.4h-3zM1042 1521.5h1.5v71.2h-1.5zM1043.5 1498.2h1.5v94.4h-1.5zM1045 1498.2h1.5v140.9h-1.5zM1046.5 1498.2h1.5v94.4h-1.5zM1048 1521.5h2.3v71.2h-2.3zM1050.3 1544.7h1.5v71.2h-1.5zM1051.8 1521.5h3v117.7h-3zM1054.8 1544.7h4.5v71.2h-4.5zM1059.3 1498.2h1.5v117.6h-1.5zM1060.8 1498.2h1.5v140.9h-1.5zM1062.3 1544.7h1.5v94.4h-1.5zM1063.8 1544.7h1.5v71.2h-1.5zM1065.3 1521.5h4.5v94.4h-4.5zM1069.8 1544.7h1.5v71.2h-1.5zM1071.3 1521.5h1.5v94.4h-1.5zM1072.8 1544.7h6v71.2h-6zM1078.8 1544.7h1.5v94.4h-1.5zM1080.3 1544.7h4.5v71.2h-4.5zM1084.8 1521.5h1.5v94.4h-1.5zM1086.3 1544.7h1.5v71.2h-1.5zM1087.8 1521.5h1.5v117.7h-1.5zM1089.3 1544.7h1.5v94.4h-1.5zM1090.8 1544.7h4v71.2h-4zM1094.8 1544.7h1.5v94.4h-1.5zM1096.3 1544.7h3v71.2h-3zM1099.3 1567.9h1.5v48h-1.5zM1100.8 1544.7h1.5v71.2h-1.5zM1102.3 1567.9h1.5v71.2h-1.5zM1103.8 1544.7h1.5v94.4h-1.5zM1105.3 1567.9h1.5v48h-1.5zM1106.8 1544.7h1.5v71.2h-1.5zM1108.3 1567.9h1.5v48h-1.5zM1109.8 1544.7h1.5v71.2h-1.5zM1111.3 1567.9h3v48h-3zM1114.3 1544.7h1.5v71.2h-1.5zM1115.8 1544.7h4.5v94.4h-4.5zM1120.3 1544.7h1.5v71.2h-1.5zM1121.8 1567.9h1.2v48h-1.2zM1123 1521.5h1.9v94.4h-1.9z" fill="#1a3cb2" shape-rendering="crispEdges"/>
<text transform="translate(631 1667.5) scale(1.0000 1)" font-size="19.78">0</text>
<text transform="translate(631.2 1644.3) scale(1.0000 1)" font-size="19.78">1</text>
<text transform="translate(631.2 1621) scale(1.0000 1)" font-size="19.78">2</text>
<text transform="translate(631.1 1597.8) scale(1.0000 1)" font-size="19.78">3</text>
<text transform="translate(630.8 1574.6) scale(1.0000 1)" font-size="19.78">4</text>
<text transform="translate(631 1551.3) scale(1.0000 1)" font-size="19.78">5</text>
<text transform="translate(631.1 1528.1) scale(1.0000 1)" font-size="19.78">6</text>
<text transform="translate(631.2 1504.9) scale(1.0000 1)" font-size="19.78">7</text>
<text transform="translate(631.1 1481.7) scale(1.0000 1)" font-size="19.78">8</text>
<text transform="translate(631.1 1458.4) scale(1.0000 1)" font-size="19.78">9</text>
<text transform="translate(620 1435.2) scale(1.0000 1)" font-size="19.78">10</text>
<text transform="translate(650.8 1689) scale(1.1279 1)" font-size="17.92">0</text>
<text transform="translate(723.3 1689) scale(1.0627 1)" font-size="17.92">10000</text>
<text transform="translate(817.5 1689) scale(1.0528 1)" font-size="17.92">20000</text>
<text transform="translate(911.4 1689) scale(1.0479 1)" font-size="17.92">30000</text>
<text transform="translate(1005.4 1689) scale(1.0421 1)" font-size="17.92">40000</text>
<text transform="translate(1098.7 1689) scale(1.0489 1)" font-size="17.92">50000</text>
<text transform="translate(979.3 1448.9) scale(1.0851 1)" font-size="20.93">CID_3482855</text>
<path d="M199.6 1719.7V1951.3M294.2 1719.7V1951.3M388.9 1719.7V1951.3M483.5 1719.7V1951.3M104.9 1912.7H578.2M104.9 1874.1H578.2M104.9 1835.5H578.2M104.9 1796.9H578.2M104.9 1758.3H578.2M104.9 1719.7H578.2V1951.3" stroke="#c8caca" stroke-width="1.3" fill="none"/>
<path d="M104.9 1719.7V1951.3H578.2" stroke="#a69eae" stroke-width="1.5" fill="none"/>
<path d="M105 1796.2h1.3v155.9h-1.3zM106.3 1834.8h4.3v117.3h-4.3zM110.6 1912h5.6v40.1h-5.6zM116.2 1834.8h3.5v117.3h-3.5zM119.7 1796.2h3v155.9h-3zM122.7 1834.8h1.5v117.3h-1.5zM124.2 1796.2h1.5v117.3h-1.5zM125.7 1834.8h1.5v78.7h-1.5zM127.2 1796.2h1.5v117.3h-1.5zM128.7 1834.8h6v78.7h-6zM134.7 1796.2h3v117.3h-3zM137.7 1834.8h1.5v78.7h-1.5zM139.2 1796.2h4.5v155.9h-4.5zM143.7 1834.8h1.5v78.7h-1.5zM145.2 1796.2h4.5v155.9h-4.5zM149.7 1796.2h1.5v117.3h-1.5zM151.2 1834.8h1v78.7h-1zM152.2 1796.2h1.5v117.3h-1.5zM153.7 1757.5h1.5v155.9h-1.5zM155.2 1796.2h7.5v117.3h-7.5zM162.7 1757.5h3v155.9h-3zM165.7 1796.2h4.5v117.3h-4.5zM170.2 1757.5h3.8v155.9h-3.8zM174 1796.2h1.5v155.9h-1.5zM175.5 1834.8h9.1v117.3h-9.1zM184.6 1873.3h1.5v78.7h-1.5zM186.1 1834.8h1.5v117.3h-1.5zM187.6 1873.3h16.8v78.7h-16.8zM204.4 1912h4.5v40.1h-4.5zM208.9 1873.3h1.5v78.7h-1.5zM210.4 1912h4.6v40.1h-4.6zM215 1873.3h3v78.7h-3zM218 1834.8h1.5v117.3h-1.5zM219.5 1873.3h54v78.7h-54zM273.5 1834.8h4.5v117.3h-4.5zM278 1873.3h3v78.7h-3zM281 1796.2h1.5v117.3h-1.5zM282.5 1834.8h3v78.7h-3zM285.5 1796.2h3v117.3h-3zM288.5 1834.8h1.5v78.7h-1.5zM290 1796.2h9v117.3h-9zM299 1834.8h4.5v78.7h-4.5zM303.5 1796.2h3v117.3h-3zM306.5 1834.8h3v78.7h-3zM309.5 1796.2h1.5v117.3h-1.5zM311 1834.8h1.5v78.7h-1.5zM312.5 1796.2h5.5v117.3h-5.5zM318 1834.8h1.5v78.7h-1.5zM319.5 1796.2h3v155.9h-3zM322.5 1796.2h4.5v117.3h-4.5zM327 1834.8h1.5v78.7h-1.5zM328.5 1834.8h4.5v117.3h-4.5zM333 1834.8h1.5v78.7h-1.5zM334.5 1834.8h1.5v117.3h-1.5zM336 1796.2h1v155.9h-1zM337 1873.3h15v78.7h-15zM352 1873.3h3v40.1h-3zM355 1873.3h3v78.7h-3zM358 1873.3h1.5v40.1h-1.5zM359.5 1873.3h3v78.7h-3zM362.5 1873.3h3v40.1h-3zM365.5 1873.3h9v78.7h-9zM374.5 1873.3h4.5v40.1h-4.5zM379 1873.3h3v78.7h-3zM382 1834.8h1.5v117.3h-1.5zM383.5 1873.3h4.1v78.7h-4.1zM387.6 1834.8h3v117.3h-3zM390.6 1834.8h4.5v78.7h-4.5zM395.1 1834.8h3v117.3h-3zM398.1 1834.8h4.5v78.7h-4.5zM402.6 1834.8h4.5v117.3h-4.5zM407.1 1834.8h12v78.7h-12zM419.1 1834.8h5.9v117.3h-5.9zM425 1834.8h1.5v78.7h-1.5zM426.5 1873.3h1.5v40.1h-1.5zM428 1834.8h12v78.7h-12zM440 1796.2h3v155.9h-3zM443 1834.8h9v117.3h-9zM452 1834.8h1.5v78.7h-1.5zM453.5 1834.8h1.5v117.3h-1.5zM455 1834.8h4.5v78.7h-4.5zM459.5 1834.8h9v117.3h-9zM468.5 1834.8h6v78.7h-6zM474.5 1834.8h1.5v117.3h-1.5zM476 1834.8h3v78.7h-3zM479 1796.2h1.5v117.3h-1.5zM480.5 1834.8h7.5v78.7h-7.5zM488 1834.8h3v117.3h-3zM491 1834.8h13.5v78.7h-13.5zM504.5 1796.2h4.5v117.3h-4.5zM509 1834.8h1.5v78.7h-1.5zM510.5 1796.2h3v117.3h-3zM513.5 1834.8h1.5v78.7h-1.5zM515 1834.8h4.5v117.3h-4.5zM519.5 1834.8h1.5v78.7h-1.5zM521 1834.8h3v117.3h-3zM524 1834.8h1.5v78.7h-1.5zM525.5 1834.8h6v117.3h-6zM531.5 1834.8h12v78.7h-12zM543.5 1834.8h4.5v117.3h-4.5zM548 1834.8h7.5v78.7h-7.5zM555.5 1834.8h12v117.3h-12zM567.5 1834.8h9v78.7h-9zM576.5 1873.3h1.7v40.1h-1.7z" fill="#1a3cb2" shape-rendering="crispEdges"/>
<text transform="translate(79.3 1957.2) scale(1.0000 1)" font-size="19.78">0</text>
<text transform="translate(79.5 1918.6) scale(1.0000 1)" font-size="19.78">1</text>
<text transform="translate(79.5 1880) scale(1.0000 1)" font-size="19.78">2</text>
<text transform="translate(79.4 1841.4) scale(1.0000 1)" font-size="19.78">3</text>
<text transform="translate(79.1 1802.8) scale(1.0000 1)" font-size="19.78">4</text>
<text transform="translate(79.3 1764.2) scale(1.0000 1)" font-size="19.78">5</text>
<text transform="translate(79.4 1725.6) scale(1.0000 1)" font-size="19.78">6</text>
<text transform="translate(99.4 1978.8) scale(1.0632 1)" font-size="18.64">0</text>
<text transform="translate(173.3 1978.8) scale(1.0017 1)" font-size="18.64">10000</text>
<text transform="translate(268.4 1978.8) scale(0.9924 1)" font-size="18.64">20000</text>
<text transform="translate(363.3 1978.8) scale(0.9878 1)" font-size="18.64">30000</text>
<text transform="translate(458.2 1978.8) scale(0.9823 1)" font-size="18.64">40000</text>
<text transform="translate(552.6 1978.8) scale(0.9887 1)" font-size="18.64">50000</text>
<text transform="translate(477.7 1743.1) scale(1.0662 1)" font-size="21.36">CID_8125</text>
<path d="M745.6 1715.4V1951.8M840.4 1715.4V1951.8M935.2 1715.4V1951.8M1030 1715.4V1951.8M650.8 1912.4H1124.8M650.8 1873H1124.8M650.8 1833.6H1124.8M650.8 1794.2H1124.8M650.8 1754.8H1124.8M650.8 1715.4H1124.8V1951.8" stroke="#c8caca" stroke-width="1.3" fill="none"/>
<path d="M650.8 1715.4V1951.8H1124.8" stroke="#a69eae" stroke-width="1.5" fill="none"/>
<path d="M650.8 1832.8h3v119.7h-3zM653.8 1872.2h1.5v80.3h-1.5zM655.3 1832.8h4.5v119.7h-4.5zM659.8 1872.2h3v80.3h-3zM662.8 1832.8h1.5v80.3h-1.5zM664.3 1832.8h1.5v119.7h-1.5zM665.8 1872.2h3v80.3h-3zM668.8 1832.8h1.5v80.3h-1.5zM670.3 1832.8h3v119.7h-3zM673.3 1793.5h4.5v159.1h-4.5zM677.8 1832.8h9v119.7h-9zM686.8 1793.5h0.5v159.1h-0.5zM687.3 1872.2h1.5v80.3h-1.5zM688.8 1872.2h1.5v40.9h-1.5zM690.3 1872.2h1.5v80.3h-1.5zM691.8 1832.8h3v119.7h-3zM694.8 1793.5h3v159.1h-3zM697.8 1832.8h1.5v119.7h-1.5zM699.3 1872.2h3v80.3h-3zM702.3 1832.8h3v119.7h-3zM705.3 1872.2h24.3v80.3h-24.3zM729.6 1793.5h1.4v159.1h-1.4zM731 1832.8h6v80.3h-6zM737 1832.8h4.5v119.7h-4.5zM741.5 1832.8h1.5v80.3h-1.5zM743 1832.8h1.5v119.7h-1.5zM744.5 1832.8h7.5v80.3h-7.5zM752 1872.2h1.5v40.9h-1.5zM753.5 1832.8h12v80.3h-12zM765.5 1872.2h1.5v40.9h-1.5zM767 1832.8h13.5v80.3h-13.5zM780.5 1832.8h2v119.7h-2zM782.5 1793.5h4.5v119.7h-4.5zM787 1832.8h1.5v119.7h-1.5zM788.5 1793.5h1.5v159.1h-1.5zM790 1832.8h1.5v119.7h-1.5zM791.5 1793.5h18v119.7h-18zM809.5 1832.8h0.5v80.3h-0.5zM810 1793.5h1.5v119.7h-1.5zM811.5 1754.1h1.5v159.1h-1.5zM813 1793.5h10.5v119.7h-10.5zM823.5 1793.5h1.5v159.1h-1.5zM825 1793.5h16.5v119.7h-16.5zM841.5 1754.1h2.3v159.1h-2.3zM843.8 1793.5h3v159.1h-3zM846.8 1832.8h19.5v119.7h-19.5zM866.3 1872.2h3v80.3h-3zM869.3 1832.8h6v119.7h-6zM875.3 1832.8h3v80.3h-3zM878.3 1872.2h3v40.9h-3zM881.3 1872.2h1.5v80.3h-1.5zM882.8 1832.8h4.5v119.7h-4.5zM887.3 1872.2h1.5v40.9h-1.5zM888.8 1832.8h1.5v119.7h-1.5zM890.3 1832.8h3v80.3h-3zM893.3 1832.8h1.5v119.7h-1.5zM894.8 1832.8h1.5v80.3h-1.5zM896.3 1832.8h1.5v119.7h-1.5zM897.8 1872.2h1.5v80.3h-1.5zM899.3 1832.8h1.5v119.7h-1.5zM900.8 1872.2h4.5v80.3h-4.5zM905.3 1832.8h1.5v119.7h-1.5zM906.8 1872.2h3v80.3h-3zM909.8 1832.8h3v119.7h-3zM912.8 1793.5h1.5v159.1h-1.5zM914.3 1832.8h0.7v119.7h-0.7zM915 1872.2h27.5v80.3h-27.5zM942.5 1911.7h1.5v40.9h-1.5zM944 1872.2h3v80.3h-3zM947 1911.7h1.5v40.9h-1.5zM948.5 1872.2h1.5v80.3h-1.5zM950 1911.7h6v40.9h-6zM956 1872.2h6v80.3h-6zM962 1911.7h4.5v40.9h-4.5zM966.5 1872.2h1.5v80.3h-1.5zM968 1911.7h2v40.9h-2zM970 1872.2h1.5v80.3h-1.5zM971.5 1911.7h3v40.9h-3zM974.5 1872.2h6v80.3h-6zM980.5 1911.7h3v40.9h-3zM983.5 1872.2h4.5v80.3h-4.5zM988 1911.7h9v40.9h-9zM997 1872.2h4.5v80.3h-4.5zM1001.5 1911.7h12v40.9h-12zM1013.5 1872.2h1.5v80.3h-1.5zM1015 1911.7h12v40.9h-12zM1027 1872.2h1.5v80.3h-1.5zM1028.5 1911.7h1.5v40.9h-1.5zM1030 1872.2h6v80.3h-6zM1036 1911.7h1.5v40.9h-1.5zM1037.5 1872.2h4.5v80.3h-4.5zM1042 1911.7h1.5v40.9h-1.5zM1043.5 1872.2h1.5v80.3h-1.5zM1045 1911.7h3v40.9h-3zM1048 1872.2h1.5v80.3h-1.5zM1049.5 1911.7h1.5v40.9h-1.5zM1051 1872.2h3v80.3h-3zM1054 1911.7h6v40.9h-6zM1060 1872.2h1.5v80.3h-1.5zM1061.5 1911.7h7.5v40.9h-7.5zM1069 1832.8h4.4v119.7h-4.4zM1073.4 1911.7h1.5v40.9h-1.5zM1074.9 1872.2h1.5v80.3h-1.5zM1076.4 1911.7h6v40.9h-6zM1082.4 1872.2h1.5v80.3h-1.5zM1083.9 1911.7h3v40.9h-3zM1086.9 1872.2h6v80.3h-6zM1092.9 1911.7h3v40.9h-3zM1095.9 1872.2h19.3v80.3h-19.3zM1115.2 1911.7h3v40.9h-3zM1118.2 1872.2h1.5v80.3h-1.5zM1119.7 1911.7h3v40.9h-3zM1122.7 1872.2h2.1v80.3h-2.1z" fill="#1a3cb2" shape-rendering="crispEdges"/>
<text transform="translate(624.4 1957.7) scale(1.0000 1)" font-size="19.78">0</text>
<text transform="translate(624.6 1918.3) scale(1.0000 1)" font-size="19.78">1</text>
<text transform="translate(624.6 1878.9) scale(1.0000 1)" font-size="19.78">2</text>
<text transform="translate(624.5 1839.5) scale(1.0000 1)" font-size="19.78">3</text>
<text transform="translate(624.2 1800.1) scale(1.0000 1)" font-size="19.78">4</text>
<text transform="translate(624.4 1760.7) scale(1.0000 1)" font-size="19.78">5</text>
<text transform="translate(624.5 1721.3) scale(1.0000 1)" font-size="19.78">6</text>
<text transform="translate(645.2 1978.9) scale(1.1190 1)" font-size="18.06">0</text>
<text transform="translate(718.8 1978.9) scale(1.0542 1)" font-size="18.06">10000</text>
<text transform="translate(814.1 1978.9) scale(1.0444 1)" font-size="18.06">20000</text>
<text transform="translate(909.1 1978.9) scale(1.0396 1)" font-size="18.06">30000</text>
<text transform="translate(1004.2 1978.9) scale(1.0339 1)" font-size="18.06">40000</text>
<text transform="translate(1098.6 1978.9) scale(1.0406 1)" font-size="18.06">50000</text>
<text transform="translate(1041 1746.8) scale(0.9347 1)" font-size="19.78">CID_999</text>
<path d="M481.3 2008.7V2242M573.8 2008.7V2242M666.4 2008.7V2242M758.9 2008.7V2242M388.7 2203.1H851.5M388.7 2164.2H851.5M388.7 2125.3H851.5M388.7 2086.5H851.5M388.7 2047.6H851.5M388.7 2008.7H851.5V2242" stroke="#c8caca" stroke-width="1.3" fill="none"/>
<path d="M388.7 2008.7V2242H851.5" stroke="#a69eae" stroke-width="1.5" fill="none"/>
<path d="M388.7 2046.8h4.2v137.6h-4.2zM392.9 2085.7h1.5v98.7h-1.5zM394.4 2066.3h1.5v137.6h-1.5zM395.9 2066.3h1.5v98.7h-1.5zM397.4 2085.7h1.5v118.2h-1.5zM398.9 2085.7h4.5v98.7h-4.5zM403.4 2085.7h3v79.3h-3zM406.4 2066.3h1.5v98.7h-1.5zM407.9 2066.3h1.5v118.2h-1.5zM409.4 2066.3h0.4v137.6h-0.4zM409.8 2085.7h1.5v118.2h-1.5zM411.3 2105.2h1.5v98.7h-1.5zM412.8 2085.7h1.5v98.7h-1.5zM414.3 2085.7h1.5v118.2h-1.5zM415.8 2105.2h1.5v98.7h-1.5zM417.3 2085.7h3v98.7h-3zM420.3 2085.7h3v118.2h-3zM423.3 2085.7h1.5v98.7h-1.5zM424.8 2085.7h1.5v118.2h-1.5zM426.3 2085.7h1.5v98.7h-1.5zM427.8 2105.2h1.5v79.3h-1.5zM429.3 2085.7h1.5v118.2h-1.5zM430.8 2085.7h1.5v98.7h-1.5zM432.3 2085.7h3v118.2h-3zM435.3 2085.7h3v98.7h-3zM438.3 2066.3h1.5v118.2h-1.5zM439.8 2085.7h3v98.7h-3zM442.8 2085.7h1.5v118.2h-1.5zM444.3 2105.2h1.5v79.3h-1.5zM445.8 2085.7h1.5v98.7h-1.5zM447.3 2105.2h1.5v79.3h-1.5zM448.8 2085.7h1.5v98.7h-1.5zM450.3 2105.2h1.5v98.7h-1.5zM451.8 2105.2h1.5v79.3h-1.5zM453.3 2085.7h1.5v98.7h-1.5zM454.8 2066.3h1.5v137.6h-1.5zM456.3 2124.6h4.5v98.7h-4.5zM460.8 2105.2h1.5v118.2h-1.5zM462.3 2124.6h3v98.7h-3zM465.3 2124.6h1.5v79.3h-1.5zM466.8 2144h1.5v79.3h-1.5zM468.3 2144h1.5v98.7h-1.5zM469.8 2124.6h1.5v118.2h-1.5zM471.3 2124.6h1.5v98.7h-1.5zM472.8 2124.6h1.5v118.2h-1.5zM474.3 2124.6h1.5v98.7h-1.5zM475.8 2144h1.5v79.3h-1.5zM477.3 2144h1.5v98.7h-1.5zM478.8 2124.6h3v98.7h-3zM481.8 2144h1.5v79.3h-1.5zM483.3 2124.6h1.5v98.7h-1.5zM484.8 2144h4.5v59.8h-4.5zM489.3 2124.6h1.5v118.2h-1.5zM490.8 2144h1.5v98.7h-1.5zM492.3 2124.6h3v98.7h-3zM495.3 2144h1.5v79.3h-1.5zM496.8 2124.6h1.5v79.3h-1.5zM498.3 2124.6h1.5v98.7h-1.5zM499.8 2144h1.5v79.3h-1.5zM501.3 2124.6h1.5v118.2h-1.5zM502.8 2144h0.1v59.8h-0.1zM502.9 2085.7h3v98.7h-3zM505.9 2085.7h1.5v79.3h-1.5zM507.4 2066.3h1.5v118.2h-1.5zM508.9 2066.3h1.5v137.6h-1.5zM510.4 2066.3h1.5v118.2h-1.5zM511.9 2085.7h1.5v118.2h-1.5zM513.4 2085.7h1.5v98.7h-1.5zM514.9 2066.3h1.5v118.2h-1.5zM516.4 2085.7h3v98.7h-3zM519.4 2066.3h3v118.2h-3zM522.4 2085.7h1.5v98.7h-1.5zM523.9 2105.2h1.5v79.3h-1.5zM525.4 2085.7h1.5v98.7h-1.5zM526.9 2105.2h1.5v79.3h-1.5zM528.4 2085.7h1.5v98.7h-1.5zM529.9 2085.7h1.5v118.2h-1.5zM531.4 2085.7h6v98.7h-6zM537.4 2085.7h3v118.2h-3zM540.4 2085.7h7.6v98.7h-7.6zM548 2066.3h1.5v137.6h-1.5zM549.5 2085.7h1.5v118.2h-1.5zM551 2066.3h1.5v118.2h-1.5zM552.5 2085.7h3v98.7h-3zM555.5 2066.3h1.5v137.6h-1.5zM557 2085.7h7.3v118.2h-7.3zM564.3 2085.7h1.5v137.6h-1.5zM565.8 2066.3h1.5v157h-1.5zM567.3 2085.7h1.5v118.2h-1.5zM568.8 2066.3h1.5v137.6h-1.5zM570.3 2085.7h3v98.7h-3zM573.3 2085.7h1.5v157h-1.5zM574.8 2085.7h4.5v118.2h-4.5zM579.3 2085.7h3v98.7h-3zM582.3 2085.7h1.5v137.6h-1.5zM583.8 2066.3h1.5v157h-1.5zM585.3 2085.7h3v118.2h-3zM588.3 2085.7h3v137.6h-3zM591.3 2085.7h4.5v118.2h-4.5zM595.8 2085.7h1.5v137.6h-1.5zM597.3 2105.2h1.5v98.7h-1.5zM598.8 2085.7h3v98.7h-3zM601.8 2085.7h3.2v118.2h-3.2zM605 2124.6h1.5v98.7h-1.5zM606.5 2105.2h1.5v118.2h-1.5zM608 2124.6h1.5v79.3h-1.5zM609.5 2105.2h1.5v118.2h-1.5zM611 2105.2h3v98.7h-3zM614 2105.2h1.5v118.2h-1.5zM615.5 2105.2h3v98.7h-3zM618.5 2105.2h1.5v118.2h-1.5zM620 2124.6h1.5v98.7h-1.5zM621.5 2105.2h1.5v118.2h-1.5zM623 2124.6h3v98.7h-3zM626 2105.2h6v118.2h-6zM632 2124.6h3v98.7h-3zM635 2124.6h1.5v118.2h-1.5zM636.5 2124.6h1.5v98.7h-1.5zM638 2124.6h1.5v79.3h-1.5zM639.5 2105.2h3v118.2h-3zM642.5 2105.2h3v98.7h-3zM645.5 2124.6h1.5v98.7h-1.5zM647 2105.2h3v118.2h-3zM650 2085.7h1.5v118.2h-1.5zM651.5 2105.2h0.1v118.2h-0.1zM651.6 2124.6h3v98.7h-3zM654.6 2124.6h3v118.2h-3zM657.6 2124.6h13.5v98.7h-13.5zM671.1 2105.2h1.7v118.2h-1.7zM672.8 2144h6v79.3h-6zM678.8 2144h1.5v98.7h-1.5zM680.3 2144h1.5v79.3h-1.5zM681.8 2144h1.5v98.7h-1.5zM683.3 2144h1.5v79.3h-1.5zM684.8 2144h3v98.7h-3zM687.8 2144h3v79.3h-3zM690.8 2144h3v98.7h-3zM693.8 2124.6h1.5v118.2h-1.5zM695.3 2144h3v98.7h-3zM698.3 2144h1.5v79.3h-1.5zM699.8 2144h7.5v98.7h-7.5zM707.3 2124.6h0.7v118.2h-0.7zM708 2144h3v59.8h-3zM711 2144h1.5v98.7h-1.5zM712.5 2144h1.5v79.3h-1.5zM714 2124.6h1.5v118.2h-1.5zM715.5 2144h4.5v98.7h-4.5zM720 2144h3v79.3h-3zM723 2144h1.5v98.7h-1.5zM724.5 2124.6h1.5v118.2h-1.5zM726 2144h4.5v79.3h-4.5zM730.5 2163.5h1.5v79.3h-1.5zM732 2163.5h1.5v59.8h-1.5zM733.5 2144h1.5v79.3h-1.5zM735 2163.5h1.5v79.3h-1.5zM736.5 2144h3v98.7h-3zM739.5 2144h1.5v79.3h-1.5zM741 2144h1.4v98.7h-1.4zM742.4 2105.2h1.5v98.7h-1.5zM743.9 2124.6h1.5v59.8h-1.5zM745.4 2105.2h3v79.3h-3zM748.4 2124.6h1.5v98.7h-1.5zM749.9 2124.6h1.5v79.3h-1.5zM751.4 2085.7h1.5v118.2h-1.5zM752.9 2105.2h1.5v98.7h-1.5zM754.4 2124.6h1.5v59.8h-1.5zM755.9 2124.6h1.5v79.3h-1.5zM757.4 2124.6h1.5v59.8h-1.5zM758.9 2105.2h3v118.2h-3zM761.9 2105.2h1.5v79.3h-1.5zM763.4 2105.2h4.5v98.7h-4.5zM767.9 2105.2h1.5v79.3h-1.5zM769.4 2124.6h1.5v98.7h-1.5zM770.9 2124.6h3v79.3h-3zM773.9 2085.7h1.5v118.2h-1.5zM775.4 2105.2h1.5v98.7h-1.5zM776.9 2124.6h3v79.3h-3zM779.9 2124.6h1.5v98.7h-1.5zM781.4 2124.6h3v79.3h-3zM784.4 2066.3h1.5v118.2h-1.5zM785.9 2105.2h1.5v98.7h-1.5zM787.4 2085.7h1.5v137.6h-1.5zM788.9 2105.2h1.5v79.3h-1.5zM790.4 2124.6h3v79.3h-3zM793.4 2105.2h1.5v79.3h-1.5zM794.9 2085.7h1.5v137.6h-1.5zM796.4 2105.2h1.5v118.2h-1.5zM797.9 2124.6h1.5v98.7h-1.5zM799.4 2124.6h1.5v79.3h-1.5zM800.9 2105.2h1.5v118.2h-1.5zM802.4 2124.6h1.5v98.7h-1.5zM803.9 2085.7h1.5v118.2h-1.5zM805.4 2105.2h1.5v98.7h-1.5zM806.9 2105.2h1.5v118.2h-1.5zM808.4 2105.2h3v79.3h-3zM811.4 2124.6h1.5v98.7h-1.5zM812.9 2105.2h1.5v79.3h-1.5zM814.4 2124.6h1.5v98.7h-1.5zM815.9 2124.6h1.5v79.3h-1.5zM817.4 2105.2h1.5v79.3h-1.5zM818.9 2105.2h1.5v118.2h-1.5zM820.4 2105.2h1.5v98.7h-1.5zM821.9 2085.7h1.5v118.2h-1.5zM823.4 2105.2h1.5v98.7h-1.5zM824.9 2085.7h1.5v98.7h-1.5zM826.4 2085.7h3v118.2h-3zM829.4 2124.6h1.5v79.3h-1.5zM830.9 2124.6h1.5v98.7h-1.5zM832.4 2124.6h1.5v79.3h-1.5zM833.9 2105.2h1.5v98.7h-1.5zM835.4 2124.6h1.5v98.7h-1.5zM836.9 2085.7h1.5v118.2h-1.5zM838.4 2105.2h1.5v79.3h-1.5zM839.9 2085.7h1.5v98.7h-1.5zM841.4 2085.7h1.5v118.2h-1.5zM842.9 2105.2h3v118.2h-3zM845.9 2124.6h3v59.8h-3zM848.9 2105.2h1.5v79.3h-1.5zM850.4 2124.6h1.1v79.3h-1.1z" fill="#1a3cb2" shape-rendering="crispEdges"/>
<text transform="translate(361.1 2247.9) scale(1.0000 1)" font-size="19.78">0</text>
<text transform="translate(361.3 2209) scale(1.0000 1)" font-size="19.78">2</text>
<text transform="translate(360.9 2170.1) scale(1.0000 1)" font-size="19.78">4</text>
<text transform="translate(361.2 2131.2) scale(1.0000 1)" font-size="19.78">6</text>
<text transform="translate(361.2 2092.4) scale(1.0000 1)" font-size="19.78">8</text>
<text transform="translate(350.1 2053.5) scale(1.0000 1)" font-size="19.78">10</text>
<text transform="translate(350.3 2014.6) scale(1.0000 1)" font-size="19.78">12</text>
<text transform="translate(383.1 2269) scale(1.0845 1)" font-size="18.64">0</text>
<text transform="translate(454.4 2269) scale(1.0218 1)" font-size="18.64">10000</text>
<text transform="translate(547.5 2269) scale(1.0123 1)" font-size="18.64">20000</text>
<text transform="translate(640.3 2269) scale(1.0076 1)" font-size="18.64">30000</text>
<text transform="translate(733.1 2269) scale(1.0021 1)" font-size="18.64">40000</text>
<text transform="translate(825.3 2269) scale(1.0086 1)" font-size="18.64">50000</text>
<text transform="translate(764.3 2034.9) scale(1.0806 1)" font-size="20.93">CID_985</text>
<text transform="translate(477.9 2329.8) scale(0.9636 1)" font-size="38.25">Timescale (ps)</text>
<text transform="translate(49.4 1805) rotate(-90) scale(0.9419 1)" font-size="38.55">No. of H-bonds</text>
</svg></body></html>
